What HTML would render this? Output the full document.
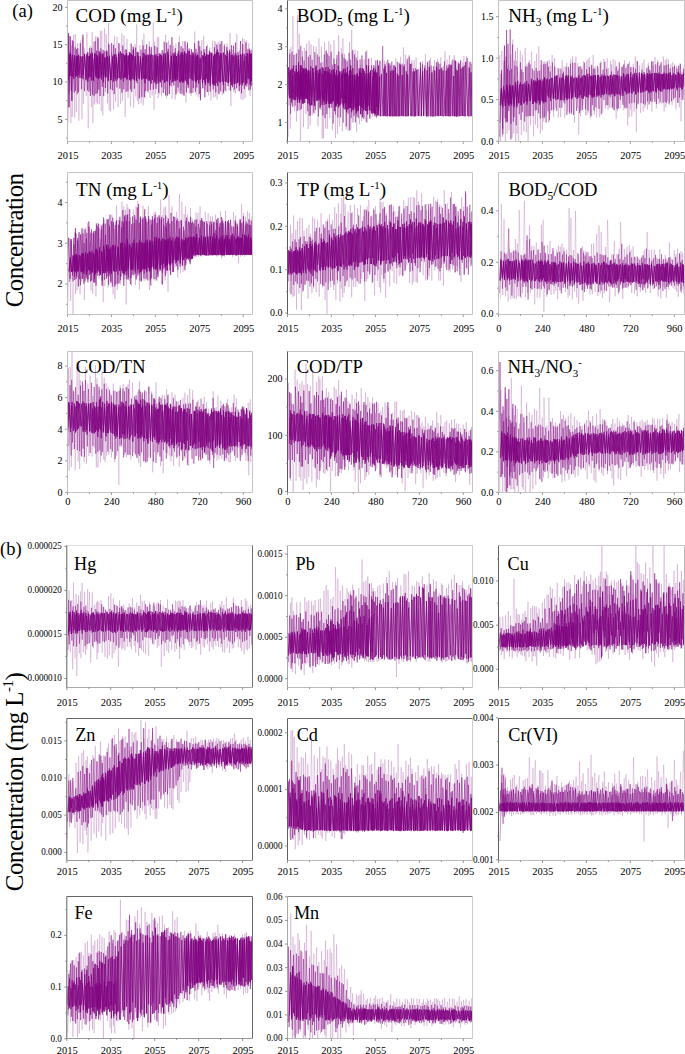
<!DOCTYPE html>
<html><head><meta charset="utf-8"><style>
html,body{margin:0;padding:0;background:#fff;width:685px;height:1054px;overflow:hidden}
svg{display:block}
text{font-family:"Liberation Serif",serif}
</style></head><body>
<svg width="685" height="1054" viewBox="0 0 685 1054" font-family="Liberation Serif, serif" fill="#000">
<rect width="685" height="1054" fill="#fff"/>
<clipPath id="c0"><rect x="67.5" y="0.5" width="185.5" height="141"/></clipPath>
<g clip-path="url(#c0)">
<polyline points="68.5,122.3 69.4,50.9 70.9,123.2 71.7,45.4 72.2,116.9 73.6,35.0 74.7,117.6 75.3,33.9 76.4,112.0 77.6,43.2 78.9,120.7 80.9,39.8 82.0,119.2 82.9,37.6 83.4,103.8 84.3,48.0 86.3,95.9 86.9,32.3 88.2,128.4 90.1,45.7 91.4,107.1 92.2,31.9 92.9,123.1 93.6,42.0 94.3,104.7 95.5,36.5 96.1,102.9 97.1,36.3 97.5,104.2 98.1,37.0 99.3,104.2 100.3,30.7 101.3,110.9 101.8,31.1 102.8,115.5 104.6,28.4 105.5,92.2 106.2,34.1 107.5,103.4 108.6,23.1 109.2,110.4 109.8,44.8 110.6,111.7 111.7,52.5 113.6,109.3 114.6,35.7 115.5,101.5 117.0,37.0 118.0,107.3 119.8,44.3 120.6,103.8 121.9,33.1 122.5,101.0 124.0,35.3 125.1,117.1 127.0,38.9 128.1,97.9 129.2,52.0 130.5,106.7 132.6,50.0 133.7,107.7 135.0,43.9 135.8,96.5 136.7,24.3 137.4,100.9 137.9,51.3 138.6,104.2 139.8,45.0 141.1,103.3 142.4,39.6 143.2,105.5 143.9,33.7 145.0,98.9 146.3,54.3 148.1,93.2 149.2,41.0 150.1,97.8 150.8,48.7 152.2,95.3 153.3,22.3 154.0,109.8 154.6,41.5 155.7,94.4 157.3,37.4 158.2,98.0 158.7,37.0 159.8,94.2 160.9,52.6 161.6,96.4 163.5,51.6 164.4,89.3 165.6,34.6 166.5,98.1 168.4,40.5 169.3,93.7 170.9,51.8 172.1,98.8 173.7,45.4 175.2,99.7 175.9,43.5 177.1,93.0 177.9,50.6 178.4,91.8 179.4,36.3 181.1,90.4 182.9,41.0 183.7,94.7 184.6,57.0 186.0,102.4 186.9,45.6 188.3,88.6 190.2,51.8 191.1,96.2 192.3,51.2 193.3,92.9 194.8,31.5 196.1,94.8 197.5,52.4 198.1,97.0 199.4,41.1 200.2,98.5 201.8,40.0 202.6,88.8 203.7,35.7 205.2,89.6 205.9,49.0 206.6,91.8 207.5,44.7 208.6,95.6 209.8,47.6 211.0,100.7 212.7,40.5 213.7,97.6 214.8,41.1 215.3,96.8 215.9,42.6 217.1,99.6 218.2,42.1 219.0,94.6 220.1,41.3 222.2,95.3 222.7,53.1 223.7,94.1 224.6,43.6 226.1,91.8 227.1,43.3 229.1,90.2 230.0,33.2 230.9,106.0 232.0,50.0 233.8,92.5 234.6,52.6 235.3,93.9 236.9,34.1 238.2,91.0 239.4,50.3 241.0,99.2 242.4,37.6 243.0,100.1 244.2,39.0 245.0,98.2 246.4,40.5 247.5,82.8 248.8,43.3 250.0,95.8 251.6,49.5 252.6,94.9 253.4,43.6 254.3,93.7 255.4,41.5" fill="none" stroke="#800080" stroke-opacity="0.22" stroke-width="0.8"/>
<polyline points="68.7,93.7 70.2,54.9 71.2,90.7 72.3,40.2 74.2,92.6 75.1,47.3 75.5,90.7 76.5,49.2 77.3,94.0 77.8,48.1 78.5,92.2 80.3,43.1 81.5,89.2 82.9,34.6 84.5,91.1 86.3,55.6 87.5,90.4 88.3,55.9 89.0,91.7 89.7,48.2 90.4,95.9 91.7,47.9 92.5,94.7 93.0,58.6 94.1,96.2 95.1,41.1 95.9,94.0 96.5,50.7 97.4,93.1 98.0,38.2 98.8,89.7 99.2,50.9 100.1,96.0 100.9,48.5 102.3,86.9 103.2,49.9 103.7,96.1 104.8,51.0 105.4,87.9 106.8,50.3 107.7,93.4 108.7,43.5 110.6,89.2 111.7,43.0 112.4,90.3 113.5,44.9 114.2,94.1 115.4,48.2 116.9,87.5 118.9,43.2 119.9,88.7 121.3,53.3 121.9,92.7 122.8,45.5 123.8,89.5 125.3,49.4 126.1,91.8 126.6,49.7 127.9,91.4 129.4,52.0 130.4,89.3 131.2,43.6 131.7,91.9 133.2,46.5 134.4,88.6 135.6,47.6 137.1,83.2 138.4,52.4 139.4,98.4 141.0,49.7 141.9,97.2 143.1,45.4 144.4,97.0 145.2,49.2 145.8,91.2 146.7,44.3 147.9,91.2 149.4,46.5 150.4,89.9 151.3,47.1 153.4,89.6 154.8,45.9 156.0,88.8 157.1,47.3 158.7,92.9 160.6,53.8 161.6,87.3 162.2,50.0 163.3,93.0 164.2,41.8 165.5,95.4 166.7,42.6 167.4,95.6 168.2,48.7 169.3,94.1 170.2,44.8 171.0,86.2 171.9,37.1 173.8,85.5 175.3,48.3 176.0,94.5 177.3,53.5 178.0,87.5 178.8,42.2 180.2,93.6 181.1,46.2 182.0,94.2 183.0,48.4 184.0,95.6 185.0,41.3 186.6,92.5 187.5,42.6 188.2,87.7 189.1,48.5 190.1,93.3 191.4,49.0 191.9,93.1 192.4,52.8 193.3,88.1 194.6,43.3 195.3,91.8 196.0,48.9 196.8,87.6 198.3,40.7 199.3,94.1 199.8,46.2 200.5,100.3 201.2,50.7 202.9,88.2 203.9,49.2 204.8,97.3 206.6,46.1 207.6,92.0 209.4,50.7 210.2,91.6 211.9,53.1 213.2,89.6 214.4,47.2 215.8,92.4 216.9,44.7 218.9,93.5 220.1,44.1 220.7,91.3 221.8,41.3 223.5,92.6 224.3,45.6 225.1,90.6 226.8,46.9 228.1,86.2 229.6,49.5 230.5,90.8 231.5,45.4 232.5,87.3 233.5,45.7 234.3,89.8 235.5,42.6 236.7,88.4 238.0,51.8 239.4,91.2 240.5,41.0 241.5,93.4 242.7,44.1 244.4,89.1 245.9,42.4 246.8,86.6 247.9,49.2 248.9,90.3 249.6,48.6 250.6,89.4 252.3,49.7 253.7,93.7 255.1,45.2" fill="none" stroke="#800080" stroke-opacity="0.6" stroke-width="0.8"/>
<polyline points="69.5,76.0 70.4,52.8 72.6,76.4 74.4,55.0 75.5,77.0 76.4,56.3 76.8,76.2 77.6,55.7 78.9,74.5 80.2,56.1 81.8,78.0 82.7,56.0 83.4,75.1 84.5,53.8 86.0,80.2 87.8,52.3 88.6,78.2 89.6,55.6 91.2,77.4 92.3,54.4 93.1,80.1 94.9,53.3 96.2,76.4 97.2,55.3 98.2,78.9 99.3,55.4 99.9,78.1 100.9,53.7 101.7,75.6 103.0,53.5 103.8,76.4 105.1,57.8 106.1,77.2 107.5,56.4 108.3,81.1 109.3,55.6 111.1,80.1 112.8,55.8 113.8,77.4 114.5,54.6 116.0,81.1 116.6,57.0 117.6,79.3 118.6,52.7 119.3,78.0 120.4,51.3 122.0,78.5 123.3,53.8 124.5,77.5 125.1,54.9 126.0,77.6 126.6,53.2 127.3,79.0 128.7,55.5 129.5,80.1 130.0,53.6 130.8,80.7 131.5,53.9 132.8,78.9 133.5,48.8 134.5,80.7 135.3,55.9 136.4,80.6 137.2,52.1 138.9,78.1 140.3,56.1 141.9,78.4 142.6,57.3 143.5,78.5 144.3,53.6 145.1,78.8 146.2,55.2 148.0,80.3 148.5,55.0 149.8,79.6 150.8,53.9 152.4,80.1 154.0,55.1 155.1,81.3 156.0,54.1 156.5,78.3 157.2,55.9 158.4,80.9 159.3,53.4 160.3,81.6 161.7,55.4 162.9,80.3 163.8,53.6 164.9,82.4 165.4,53.4 166.5,81.0 167.8,51.7 169.6,85.3 171.4,56.4 172.2,82.6 173.1,53.3 174.2,80.9 174.9,52.5 176.0,80.4 176.5,56.0 177.6,80.0 179.0,55.3 180.2,82.2 180.8,54.3 181.6,81.0 182.3,52.1 183.4,81.6 184.4,52.4 185.1,79.9 186.1,53.3 187.1,83.1 188.0,51.0 189.1,78.4 190.0,54.7 192.1,80.3 193.2,52.6 195.2,80.8 195.8,53.6 196.4,81.3 197.7,55.2 198.7,83.6 199.9,57.5 200.6,79.4 202.5,55.3 203.7,80.0 204.5,52.5 205.6,84.8 206.3,54.0 207.5,82.5 208.3,55.0 208.9,81.0 209.8,52.3 210.4,83.0 211.7,53.5 213.2,84.1 214.3,54.3 215.0,85.8 216.4,51.9 217.6,85.8 218.6,52.2 220.1,82.4 221.2,53.8 223.3,84.8 225.4,54.7 226.3,81.9 227.4,50.8 228.1,83.0 229.2,52.8 230.3,81.7 231.2,55.0 232.1,85.4 233.4,56.4 234.7,84.2 235.9,53.4 237.7,83.1 238.6,54.8 240.0,84.4 240.8,54.9 242.0,83.0 242.5,53.0 243.3,82.6 244.3,60.8 245.5,85.3 246.9,53.0 248.0,78.6 249.3,54.5 250.1,84.7 250.5,53.9 251.5,80.8 252.0,55.9 252.7,83.6 254.4,53.3" fill="none" stroke="#800080" stroke-opacity="0.9" stroke-width="0.8"/>
<polyline points="68.4,80.4 69.3,54.2 69.8,76.2 70.4,57.1 71.0,76.1 72.3,54.9 73.8,78.9 74.5,56.0 75.7,75.6 77.0,56.4 78.0,77.3 78.6,54.7 80.0,78.1 81.2,56.7 83.1,79.2 84.6,54.0 86.2,78.6 86.9,53.9 87.8,81.9 89.1,56.7 89.7,76.6 90.6,53.6 91.3,80.6 92.1,52.5 93.6,80.8 94.6,53.6 95.7,76.4 96.4,54.6 96.9,78.0 97.7,57.0 98.4,78.9 99.9,52.1 101.6,79.6 102.7,54.3 103.3,82.2 104.8,57.2 105.5,77.7 106.8,51.7 108.3,80.0 109.1,58.1 110.8,80.3 112.5,57.6 113.5,81.6 114.2,54.5 115.0,79.2 116.0,54.4 117.9,78.0 118.9,54.0 120.9,79.8 121.9,53.5 123.5,81.4 124.5,55.6 125.3,77.5 126.2,55.1 126.8,79.7 127.9,55.6 129.2,74.6 130.0,52.7 131.1,79.6 132.4,55.5 133.9,79.7 135.0,56.6 136.5,81.0 138.2,55.9 139.4,79.3 140.6,58.6 141.8,79.8 143.1,52.8 144.9,83.2 145.9,55.4 146.4,78.8 147.9,54.5 149.2,81.1 150.1,55.3 151.2,83.6 152.1,54.9 154.2,82.6 155.3,55.8 156.1,84.2 157.3,58.3 158.0,83.6 159.0,56.1 160.2,82.4 160.8,55.1 162.1,79.4 163.5,56.8 164.6,82.8 165.5,54.4 167.3,81.4 168.2,54.7 170.3,79.6 171.4,55.7 173.0,81.6 173.7,55.3 174.4,78.4 174.9,55.2 175.7,80.9 176.6,56.6 177.1,77.5 178.7,51.4 179.5,82.2 181.2,52.3 182.4,82.9 183.0,54.5 183.8,82.4 184.5,51.5 185.8,81.0 187.0,54.2 188.0,85.0 189.3,50.6 191.0,79.0 192.0,55.1 193.0,80.5 193.9,55.4 195.9,82.6 196.5,56.5 197.3,80.1 197.9,55.0 199.4,79.4 200.8,58.3 202.5,83.4 203.5,55.6 204.9,82.3 205.5,56.4 206.3,78.9 207.1,54.5 208.3,83.2 209.1,54.4 210.1,85.7 211.0,52.5 212.8,84.3 213.7,55.8 214.1,85.2 215.3,53.9 216.1,83.1 217.4,49.5 218.2,81.2 219.3,55.5 220.0,82.3 220.8,53.0 222.3,81.6 223.5,52.6 225.3,81.6 226.8,56.0 228.3,82.5 229.8,51.7 231.3,84.9 232.3,54.6 234.0,83.8 235.0,55.0 235.9,83.4 236.9,55.8 237.8,82.5 238.4,59.5 239.4,85.9 240.7,54.1 242.3,85.4 244.3,54.2 245.4,82.7 246.0,56.0 246.8,83.8 247.8,53.4 249.1,79.3 249.9,50.7 250.5,82.1 251.4,53.4 251.9,85.7 253.2,57.5 253.9,85.2 254.5,54.0" fill="none" stroke="#800080" stroke-opacity="0.9" stroke-width="0.8"/>
<polyline points="67.5,119.9 68.3,33.2 69.0,107.3 70.1,36.2 71.9,100.9 73.3,41.4" fill="none" stroke="#800080" stroke-opacity="0.9" stroke-width="0.8"/>
</g>
<path d="M67.5,0.5H252.5" fill="none" stroke="#c4c4c4" stroke-width="1"/>
<path d="M252.5,0.5V141.5" fill="none" stroke="#c4c4c4" stroke-width="1"/>
<path d="M67.5,141.5H252.5" fill="none" stroke="#c4c4c4" stroke-width="1"/>
<path d="M67.5,0.5V141.5" fill="none" stroke="#c0c0c0" stroke-width="1"/>
<text x="67.9" y="158.8" font-size="10.5" text-anchor="middle" >2015</text>
<text x="111.85" y="158.8" font-size="10.5" text-anchor="middle" >2035</text>
<text x="155.8" y="158.8" font-size="10.5" text-anchor="middle" >2055</text>
<text x="199.75" y="158.8" font-size="10.5" text-anchor="middle" >2075</text>
<text x="243.7" y="158.8" font-size="10.5" text-anchor="middle" >2095</text>
<text x="62.5" y="10.7" font-size="10" text-anchor="end" >20</text>
<text x="62.5" y="48.07" font-size="10" text-anchor="end" >15</text>
<text x="62.5" y="85.43" font-size="10" text-anchor="end" >10</text>
<text x="62.5" y="122.8" font-size="10" text-anchor="end" >5</text>
<path d="M67.5,141.5v2.5 M89.47,141.5v1.5 M111.45,141.5v2.5 M133.43,141.5v1.5 M155.4,141.5v2.5 M177.38,141.5v1.5 M199.35,141.5v2.5 M221.33,141.5v1.5 M243.3,141.5v2.5 M67.5,7.3h-2.5 M67.5,44.67h-2.5 M67.5,82.03h-2.5 M67.5,119.4h-2.5 M67.5,25.98h-1.5 M67.5,63.35h-1.5 M67.5,100.72h-1.5 M67.5,138.08h-1.5" fill="none" stroke="#888" stroke-width="0.8"/>
<text x="75.5" y="22.3" font-size="19">COD (mg L<tspan font-size="11" dy="-7">-1</tspan><tspan dy="7">)</tspan></text>
<clipPath id="c1"><rect x="287.5" y="0.5" width="185.5" height="141"/></clipPath>
<g clip-path="url(#c1)">
<polyline points="288.5,136.9 289.6,49.2 290.3,128.8 291.0,46.9 291.8,105.3 292.9,15.9 294.3,111.5 295.1,54.1 296.5,121.5 297.5,15.4 298.4,110.2 299.3,33.6 300.4,142.2 302.5,51.0 303.5,127.2 304.3,47.8 306.0,114.0 306.7,43.5 308.2,129.0 309.1,40.7 310.2,125.5 311.0,44.0 312.8,115.2 313.6,45.8 314.9,113.9 316.1,46.6 318.0,126.4 318.9,38.4 321.0,110.1 321.4,46.8 322.2,138.8 322.8,61.8 323.5,138.1 324.6,41.9 325.7,128.4 326.4,49.8 327.3,128.8 328.8,41.2 329.8,118.3 330.7,44.4 332.4,130.3 334.0,39.8 335.5,137.9 336.6,58.8 337.6,133.8 338.7,35.0 339.5,126.5 341.3,47.8 342.3,131.5 342.9,38.3 343.7,109.3 344.5,53.9 346.1,129.3 347.0,59.4 348.1,130.9 349.6,42.1 350.8,130.2 351.7,29.9 352.4,122.5 352.9,51.8 353.6,122.3 355.1,49.8 356.6,132.2 357.7,51.0 359.5,124.2 360.8,64.9 361.7,121.2 363.0,59.7 364.0,117.6 364.8,59.2 365.9,121.6 366.8,50.1 367.2,111.7 369.2,57.9 370.2,119.2 371.6,57.7 372.6,116.8 373.5,65.2 374.5,115.7 375.7,66.9 376.2,117.7 377.5,60.7 379.1,117.1 380.1,60.1 381.9,116.2 382.5,59.3 383.4,116.3 384.6,60.8 385.3,116.2 386.3,61.6 387.3,116.5 388.5,64.7 389.5,116.0 390.6,63.6 391.2,116.1 392.4,68.8 393.8,116.0 394.3,65.1 395.2,116.1 395.8,58.5 396.9,116.4 398.8,62.5 399.6,116.1 400.6,56.8 401.2,116.0 402.0,65.0 402.6,116.3 403.4,47.4 404.5,116.3 405.3,54.6 406.2,116.6 407.4,61.0 408.1,116.2 409.1,54.8 410.4,115.9 411.9,59.5 412.7,116.3 414.1,60.1 415.3,115.9 416.1,57.4 417.3,115.5 418.0,69.5 419.4,116.1 420.7,62.5 421.3,116.0 422.5,61.2 423.5,116.0 425.4,54.0 426.3,116.3 427.4,61.3 429.2,115.8 430.6,57.9 431.3,116.0 432.4,70.2 433.2,116.3 434.5,60.0 435.4,116.4 436.2,65.3 436.7,116.4 437.6,58.9 438.2,116.1 438.6,63.4 439.5,116.0 440.8,57.2 442.3,116.1 443.4,66.1 444.0,116.4 445.0,51.2 445.5,116.4 447.0,59.5 447.8,116.0 449.4,55.2 450.7,116.1 451.3,60.9 452.7,116.3 454.2,55.2 455.6,116.3 456.4,68.4 456.9,116.2 458.1,66.2 458.9,116.4 460.5,60.1 461.8,116.0 462.7,62.4 463.1,115.9 463.9,56.1 465.3,116.5 466.5,55.9 467.3,115.9 469.0,61.2 470.2,115.8 470.9,61.7 471.4,116.1 472.4,61.3 473.3,116.2 474.4,65.4 475.1,115.7 476.8,64.2" fill="none" stroke="#800080" stroke-opacity="0.22" stroke-width="0.8"/>
<polyline points="289.0,105.6 289.8,53.7 290.6,113.8 292.0,51.6 292.7,106.9 293.9,54.9 295.2,105.7 296.6,53.4 297.3,111.1 298.9,49.5 300.1,110.2 300.8,45.8 301.6,108.8 302.4,56.7 303.1,98.2 304.1,60.5 305.2,99.2 306.1,50.8 307.7,111.2 308.3,56.9 309.2,115.9 310.2,55.0 310.6,115.4 312.2,59.7 313.7,112.8 314.8,52.2 315.4,109.9 317.4,54.4 318.5,116.5 319.1,56.7 320.0,108.7 320.9,62.8 322.9,115.4 324.3,54.6 325.0,118.1 326.1,51.2 326.8,114.0 327.3,53.6 328.3,103.8 329.1,55.7 329.7,108.4 331.2,51.8 331.8,107.8 332.4,64.7 333.2,123.7 333.9,58.5 335.4,114.5 337.0,54.9 337.9,117.5 338.8,51.6 340.5,117.3 342.2,53.8 343.2,122.7 344.0,57.8 345.0,109.3 345.4,59.3 346.3,126.5 347.1,61.3 348.1,113.6 349.1,52.8 349.6,130.4 350.2,59.6 351.2,117.9 352.7,49.8 354.0,115.9 354.5,54.5 355.4,122.3 356.2,57.5 357.0,116.7 357.4,60.4 358.4,118.0 360.1,59.3 361.0,114.3 361.9,55.5 363.9,119.1 365.9,51.7 366.8,122.6 368.4,58.8 369.7,118.3 371.6,65.3 372.8,113.8 374.1,65.3 375.0,116.3 375.8,60.4 376.6,117.4 377.5,59.9 378.6,115.4 379.8,61.1 380.8,116.4 382.7,46.1 383.8,115.8 385.0,64.0 386.3,116.4 387.8,59.8 389.2,116.2 390.1,65.5 390.5,116.0 391.8,61.6 392.6,116.1 393.4,65.3 394.0,116.3 394.7,65.5 395.6,116.2 397.4,61.9 398.4,116.4 399.5,63.4 400.7,116.4 402.1,63.7 403.5,116.2 404.3,64.3 405.7,116.2 407.2,58.6 408.1,115.9 409.2,56.7 410.6,116.1 411.7,63.5 412.7,116.1 413.5,68.5 414.2,116.4 415.5,68.2 417.0,116.3 417.9,69.0 419.1,116.3 420.4,62.0 421.2,116.2 422.5,64.5 424.0,115.8 425.0,65.4 426.6,116.5 427.5,62.5 428.0,116.0 429.3,60.6 430.2,116.3 431.2,65.5 432.8,116.5 433.5,66.4 434.5,116.3 436.4,62.2 437.5,115.8 438.1,62.1 438.7,116.4 440.0,63.8 440.8,115.9 441.9,67.4 443.5,116.5 444.5,61.4 445.5,115.9 446.8,65.4 447.9,116.2 448.8,67.3 450.0,116.2 450.7,65.5 451.9,116.2 452.8,59.5 454.2,116.3 454.8,59.8 455.6,116.3 456.2,69.9 457.3,116.3 458.3,62.2 459.7,116.0 460.7,60.5 461.3,116.0 462.3,67.4 463.4,116.3 464.4,65.3 465.7,116.3 467.2,58.1 468.6,116.7 470.0,62.2 471.6,116.1 472.0,64.2 472.8,116.2 473.7,68.5 474.2,116.4 475.7,59.9" fill="none" stroke="#800080" stroke-opacity="0.5" stroke-width="0.8"/>
<polyline points="287.5,98.0 288.5,67.4 289.8,98.4 291.0,69.6 292.2,98.3 293.4,65.5 294.9,99.5 296.2,65.3 297.7,102.8 298.5,62.2 299.6,102.8 300.3,65.0 300.9,98.9 301.5,65.7 302.4,103.6 302.9,68.0 303.6,103.7 304.3,69.1 305.0,97.2 306.4,68.5 307.8,99.5 308.8,71.2 309.8,105.5 310.8,66.4 312.0,105.3 313.1,68.3 314.5,105.9 315.9,67.1 317.0,100.6 317.8,70.2 318.8,99.3 319.4,69.3 320.2,107.1 322.3,67.1 323.3,99.3 324.4,71.1 326.3,104.0 328.1,66.9 329.3,103.8 329.7,69.2 330.7,103.9 331.7,70.1 332.3,102.1 333.2,69.7 333.6,100.8 334.9,64.0 335.9,106.8 336.5,70.0 337.5,104.1 338.2,65.7 338.9,106.0 340.0,71.4 341.7,98.2 343.7,68.7 344.7,103.2 345.3,68.8 346.6,104.0 347.4,67.0 348.7,106.3 349.5,70.6 350.2,107.6 350.7,65.4 351.7,112.3 352.9,68.0 353.6,108.6 354.8,74.5 356.4,112.5 357.0,73.4 358.0,111.1 359.2,68.4 360.0,105.6 360.9,68.1 362.0,108.1 362.8,68.4 363.4,108.1 364.3,71.2 365.5,110.9 366.0,73.6 366.7,111.1 368.5,65.8 369.5,109.9 370.5,70.4 371.7,112.7 373.7,68.1 374.8,113.8 376.2,72.6 377.3,115.5 378.5,65.6 380.3,115.9 381.4,74.2 383.1,116.1 384.0,68.7 384.7,115.8 385.1,66.1 385.9,116.2 386.6,72.9 387.7,116.2 388.9,63.2 389.7,116.3 390.5,71.3 391.0,116.4 392.1,70.7 392.9,116.5 393.6,70.5 394.8,116.2 395.4,67.0 396.3,116.3 397.4,73.5 398.0,116.2 398.8,75.5 399.3,116.3 400.3,64.6 401.8,115.9 402.2,75.1 403.1,116.1 403.9,66.4 405.3,116.2 406.3,71.3 407.0,116.3 407.6,74.4 408.4,116.2 410.3,63.9 411.4,116.2 413.1,71.6 414.2,116.4 414.6,71.3 415.5,116.2 416.7,69.8 418.4,115.9 420.5,67.9 421.4,116.2 422.6,71.2 423.5,115.9 424.5,68.3 426.3,116.2 427.1,70.0 427.9,116.5 429.3,66.9 431.0,116.4 431.9,72.5 433.0,116.5 434.7,70.5 435.8,116.2 436.7,67.1 438.1,116.0 439.2,69.5 440.4,115.9 441.2,68.5 442.1,116.2 443.0,70.5 445.1,116.0 446.2,70.7 446.8,116.2 447.9,68.4 448.7,116.2 449.1,64.5 450.0,116.4 451.1,64.6 452.9,115.9 453.7,76.0 454.5,116.3 455.7,60.9 456.5,116.6 457.3,70.5 458.0,116.3 459.0,63.7 460.0,116.3 461.0,68.6 462.5,116.0 463.2,66.6 464.8,116.3 465.7,61.9 467.9,116.0 469.2,67.6 470.1,116.3 471.0,72.3 472.3,116.4 473.0,74.1 474.3,116.1 475.6,70.2" fill="none" stroke="#800080" stroke-opacity="0.9" stroke-width="0.8"/>
<polyline points="289.3,97.9 290.1,70.0 291.7,102.4 292.2,68.5 293.1,99.4 294.8,71.2 295.8,100.2 296.5,68.8 297.8,99.6 298.7,71.5 299.3,100.5 300.4,69.2 300.9,99.7 301.8,70.9 302.6,101.7 303.5,68.7 304.7,102.9 305.3,68.2 306.4,98.9 306.9,70.3 307.8,103.5 308.3,69.7 309.3,103.8 310.0,70.6 311.4,105.2 312.6,68.1 314.2,101.3 316.1,65.4 317.1,101.1 318.6,74.4 319.3,100.3 320.2,68.8 322.1,105.0 323.2,68.2 324.4,100.8 325.7,67.3 326.2,102.8 327.4,72.2 329.0,107.7 330.0,73.0 331.8,103.6 333.6,69.4 334.7,111.1 335.3,74.7 336.1,105.8 337.8,75.1 338.6,107.5 339.3,71.6 340.0,104.6 342.1,70.7 343.1,105.3 344.6,74.0 345.2,109.4 346.0,73.1 346.5,112.2 346.9,72.8 347.8,109.8 349.1,75.0 349.9,107.8 350.9,70.0 352.2,109.9 352.8,74.8 353.7,109.9 354.5,74.9 356.3,113.4 357.4,74.0 358.1,110.7 359.8,71.3 360.6,114.2 361.2,73.0 362.4,117.3 363.4,69.2 365.2,110.2 366.6,65.2 367.7,114.5 368.7,74.3 369.3,110.4 370.2,72.9 372.0,113.7 373.0,69.9 373.9,113.1 374.5,71.6 375.6,114.6 377.2,72.5 378.0,115.1 379.6,76.0" fill="none" stroke="#800080" stroke-opacity="0.9" stroke-width="0.8"/>
<polyline points="288.1,95.6 289.0,72.1 290.9,97.5 292.9,75.1 294.1,100.1 295.7,72.9 296.8,97.2 297.6,71.8 298.1,97.3 299.1,74.0 300.6,94.9 301.3,73.2 302.1,97.1 303.5,72.7 304.3,98.1 305.3,73.6 306.1,98.9 306.7,71.1 307.4,96.9 308.0,72.8 309.2,101.0 310.5,72.8 311.8,97.4 313.7,72.4 314.6,103.5 316.3,70.9 317.1,99.4 318.7,72.9 320.2,98.4 321.8,73.9 322.9,102.5 323.5,75.0 324.3,105.0 325.1,71.0 326.2,103.6 326.9,71.2 328.0,101.3 328.8,72.2 330.2,102.9 331.3,74.3 333.1,101.3 334.7,72.2 335.6,105.9 336.5,76.6 337.2,102.8 338.2,78.6 338.6,106.2 339.4,74.0 340.5,104.4 341.5,73.4 342.1,103.3 342.6,73.9 343.4,107.8 344.3,72.8 345.8,105.3 347.4,72.0 348.7,108.5 349.3,74.8 350.3,108.0 350.7,71.9 351.7,102.3 352.4,75.2 353.9,106.9 354.9,79.3 355.5,108.0 356.2,75.7 357.6,107.5 358.3,76.2 358.9,105.9 360.1,72.0 361.0,106.3 362.7,77.6 363.5,110.3 364.5,76.5 365.6,106.5 366.4,76.4 367.0,107.0 368.2,73.1 368.8,105.8 370.2,72.3 371.0,111.0 372.7,76.6 373.8,112.7 375.6,69.3 376.6,107.0 377.7,77.2 378.5,110.5 379.9,76.9" fill="none" stroke="#800080" stroke-opacity="0.8" stroke-width="0.8"/>
</g>
<path d="M287.5,0.5H472.5" fill="none" stroke="#c4c4c4" stroke-width="1"/>
<path d="M472.5,0.5V141.5" fill="none" stroke="#c4c4c4" stroke-width="1"/>
<path d="M287.5,141.5H472.5" fill="none" stroke="#c4c4c4" stroke-width="1"/>
<path d="M287.5,0.5V141.5" fill="none" stroke="#5a5a5a" stroke-width="1"/>
<text x="287.9" y="158.8" font-size="10.5" text-anchor="middle" >2015</text>
<text x="331.85" y="158.8" font-size="10.5" text-anchor="middle" >2035</text>
<text x="375.8" y="158.8" font-size="10.5" text-anchor="middle" >2055</text>
<text x="419.75" y="158.8" font-size="10.5" text-anchor="middle" >2075</text>
<text x="463.7" y="158.8" font-size="10.5" text-anchor="middle" >2095</text>
<text x="282.5" y="12.2" font-size="10" text-anchor="end" >4</text>
<text x="282.5" y="50.13" font-size="10" text-anchor="end" >3</text>
<text x="282.5" y="88.07" font-size="10" text-anchor="end" >2</text>
<text x="282.5" y="126" font-size="10" text-anchor="end" >1</text>
<path d="M287.5,141.5v2.5 M309.48,141.5v1.5 M331.45,141.5v2.5 M353.43,141.5v1.5 M375.4,141.5v2.5 M397.38,141.5v1.5 M419.35,141.5v2.5 M441.33,141.5v1.5 M463.3,141.5v2.5 M287.5,8.8h-2.5 M287.5,46.73h-2.5 M287.5,84.67h-2.5 M287.5,122.6h-2.5 M287.5,27.77h-1.5 M287.5,65.7h-1.5 M287.5,103.63h-1.5 M287.5,141.57h-1.5" fill="none" stroke="#888" stroke-width="0.8"/>
<text x="296.8" y="22.3" font-size="19">BOD<tspan font-size="11.5" dy="4">5</tspan><tspan dy="-4"> (mg L<tspan font-size="11" dy="-7">-1</tspan><tspan dy="7">)</tspan></tspan></text>
<clipPath id="c2"><rect x="498.5" y="0.5" width="186.5" height="141"/></clipPath>
<g clip-path="url(#c2)">
<polyline points="499.1,159.1 499.7,55.2 500.6,153.7 501.9,50.9 502.6,136.8 504.4,46.0 505.4,147.3 506.5,45.6 507.1,133.4 508.0,66.2 509.1,130.3 510.9,54.6 512.2,137.5 512.8,39.5 513.8,133.5 514.4,60.3 515.7,145.8 516.5,60.6 517.1,133.8 517.5,48.1 518.4,160.4 520.3,50.8 521.3,135.1 522.2,55.0 523.9,131.4 525.2,47.7 526.3,132.5 527.0,63.7 528.1,153.6 529.3,59.8 530.4,125.4 531.5,51.6 533.6,136.3 534.8,60.9 535.5,124.6 536.6,53.6 537.7,128.5 538.8,46.4 540.4,133.7 541.2,65.1 542.3,129.9 543.1,61.5 543.7,121.5 544.8,61.2 545.8,116.0 546.8,63.5 548.7,122.5 549.2,59.7 550.0,113.7 550.7,65.6 551.3,110.4 552.1,54.9 553.6,116.6 554.5,58.1 555.7,108.2 557.4,67.8 558.2,117.5 559.8,74.4 560.7,117.4 562.1,60.3 563.5,102.6 563.9,66.6 564.8,117.9 566.8,62.9 568.0,111.7 569.0,69.1 569.7,112.1 570.8,59.1 571.5,114.6 572.7,56.3 574.5,122.6 575.9,56.7 577.2,108.5 577.9,63.2 578.8,134.6 579.3,66.1 580.4,116.2 581.8,66.5 582.6,105.5 583.6,61.0 585.7,115.5 586.4,61.1 587.0,115.0 587.9,59.5 588.7,112.8 589.2,57.5 590.3,118.0 591.3,64.6 591.7,116.6 593.2,54.7 594.4,114.6 595.1,66.3 596.7,117.6 598.1,67.4 599.7,117.3 601.1,60.9 602.7,113.0 603.9,59.0 605.3,108.9 607.2,58.4 608.0,109.7 608.5,68.0 609.4,107.8 610.5,60.8 611.0,107.9 611.5,64.3 612.4,108.9 613.1,59.2 613.7,109.7 615.1,60.2 616.2,118.5 616.9,66.1 617.5,111.0 618.7,69.2 620.1,108.4 621.6,66.6 622.4,102.7 623.3,65.0 623.9,110.5 624.5,60.2 625.7,108.8 626.9,65.7 627.7,125.5 628.2,63.3 629.1,117.3 629.5,61.3 630.6,109.5 631.1,67.1 631.8,116.5 633.1,63.7 634.1,111.6 635.3,56.3 636.3,131.8 637.2,61.3 638.2,102.9 639.4,65.2 640.6,112.8 642.1,63.0 643.2,111.4 644.0,59.7 644.9,107.7 646.2,73.4 647.5,109.6 648.3,62.6 649.9,102.8 650.5,70.5 651.9,111.5 653.2,65.6 653.9,98.9 655.0,56.9 656.3,108.6 657.8,59.6 659.0,104.3 660.4,64.2 661.9,104.3 663.4,56.7 664.1,111.7 665.2,60.0 665.9,107.2 666.7,58.5 667.6,101.2 668.4,59.6 669.2,105.1 670.9,63.6 672.1,105.2 672.7,62.3 673.7,100.1 674.5,64.3 676.0,109.5 676.7,65.5 677.7,102.6 678.6,71.0 679.4,107.3 680.0,63.5 681.0,121.4 682.1,71.7 683.4,99.8 684.3,64.5 684.8,103.4 685.9,66.2 686.8,111.1 688.2,69.1" fill="none" stroke="#800080" stroke-opacity="0.22" stroke-width="0.8"/>
<polyline points="500.1,122.8 501.2,73.7 502.7,128.8 504.3,60.6 505.1,118.3 506.2,56.5 506.9,121.3 507.5,69.1 508.8,111.0 509.5,70.6 510.9,123.9 511.6,68.8 513.4,121.6 515.1,65.6 516.2,125.3 517.2,66.7 519.3,114.2 520.4,62.4 521.0,119.9 521.5,69.4 522.3,112.3 523.0,72.0 524.7,121.5 525.5,66.7 526.1,116.6 527.0,66.4 527.9,116.4 528.8,62.5 529.3,116.1 530.1,64.3 530.7,115.9 532.4,68.6 533.2,116.1 534.0,70.6 535.3,110.6 536.2,68.2 536.7,110.2 537.8,71.0 538.7,113.3 539.7,70.6 540.3,118.5 541.2,60.1 542.9,117.9 543.7,64.2 544.5,117.6 545.2,63.8 546.1,122.5 547.3,61.3 548.0,111.3 548.5,66.7 549.5,120.3 550.2,71.5 551.8,110.2 552.4,62.4 553.8,110.1 554.7,66.6 556.7,110.8 558.8,68.4 559.7,107.8 560.9,68.7 561.8,107.8 563.4,71.6 564.8,103.5 566.1,66.7 566.9,114.8 568.4,66.9 569.7,113.9 570.4,63.5 571.5,112.7 572.7,62.5 573.5,115.0 574.9,62.8 576.6,111.0 578.6,67.1 579.6,112.9 580.2,66.4 580.9,110.6 581.8,69.3 582.6,110.0 584.5,62.7 585.5,109.3 586.7,69.3 587.9,110.5 589.4,67.0 590.9,115.6 591.7,65.1 592.3,105.1 593.3,68.7 594.0,110.6 594.7,68.7 595.9,107.4 597.5,66.1 598.9,109.0 600.3,62.9 601.3,114.3 603.1,69.6 603.9,99.9 604.8,61.7 606.2,105.3 606.8,68.7 607.8,105.1 608.7,76.3 610.2,97.4 611.5,71.3 612.6,107.2 613.4,74.3 614.2,110.3 616.2,66.6 617.0,108.8 617.8,70.8 618.4,108.5 619.3,62.3 620.4,100.0 622.2,66.9 623.1,105.0 623.9,64.4 624.8,107.7 625.9,67.8 626.8,108.1 628.0,64.0 629.3,103.6 630.8,67.1 631.8,103.1 633.4,67.2 634.3,102.7 635.5,68.8 636.6,108.6 637.3,61.2 638.0,104.2 639.5,74.9 641.1,103.1 642.0,69.5 643.4,103.7 644.0,76.3 645.2,104.7 646.8,67.9 647.5,101.5 648.3,66.1 649.1,104.5 649.6,69.7 650.5,101.0 651.5,61.3 652.0,102.0 652.9,61.3 654.9,101.9 655.8,64.4 656.4,104.0 657.8,62.3 658.4,98.7 659.6,65.7 660.2,102.3 661.1,62.1 663.2,102.7 664.2,65.5 665.2,102.1 666.2,64.9 666.6,102.8 668.3,64.3 669.2,103.3 670.1,68.2 671.5,101.3 672.8,66.9 673.7,98.6 674.5,66.2 675.2,97.7 677.1,68.6 677.9,102.9 678.7,65.8 679.5,97.7 680.4,63.9 682.2,99.8 683.4,68.6 684.2,95.1 684.8,68.1 685.4,99.3 686.0,69.7 687.0,94.7 687.9,66.4" fill="none" stroke="#800080" stroke-opacity="0.5" stroke-width="0.8"/>
<polyline points="500.6,104.6 501.5,87.9 502.2,104.6 503.7,86.4 505.2,105.9 507.0,84.6 508.1,103.3 510.0,84.6 511.0,104.2 512.8,85.1 514.1,107.1 515.7,84.6 516.9,107.4 517.7,80.7 518.4,102.9 519.6,84.5 520.9,105.3 522.1,84.6 523.8,103.5 524.8,82.7 526.2,101.0 526.7,81.1 527.6,101.8 528.5,83.6 530.5,101.2 531.8,80.9 533.4,104.0 534.5,82.3 535.5,102.1 536.3,81.2 536.9,103.3 537.4,78.1 538.1,99.6 538.9,79.9 539.7,104.6 540.6,79.6 542.6,101.6 543.0,79.5 543.9,101.5 544.6,77.4 545.9,102.2 547.2,78.5 548.9,98.0 549.6,79.0 550.9,96.8 552.5,78.0 553.7,98.3 554.8,75.9 555.3,98.4 556.5,75.6 557.9,99.5 559.5,79.4 560.6,100.2 561.4,77.9 561.9,100.1 563.2,76.9 564.6,99.4 565.8,75.9 566.8,100.2 567.7,77.2 569.1,99.2 571.0,77.6 572.2,98.3 573.3,78.3 575.4,97.1 576.3,77.4 578.0,97.8 578.9,75.2 580.3,95.0 581.8,77.9 583.3,99.0 583.9,74.9 584.8,96.0 585.4,75.9 586.7,97.0 587.2,73.9 588.1,97.5 589.2,73.5 590.8,95.4 591.6,76.1 592.1,96.5 593.2,76.2 594.3,96.4 595.2,75.2 596.9,96.9 597.5,77.7 598.1,94.3 600.1,76.9 601.1,97.6 601.9,74.4 602.4,94.5 603.3,76.0 603.8,95.3 604.6,74.7 606.5,93.7 607.4,75.5 609.0,95.2 610.3,74.8 611.7,93.4 612.6,78.0 614.3,95.6 615.2,74.8 616.2,93.9 617.6,75.4 619.3,94.5 621.2,76.6 622.4,94.0 623.5,73.3 624.6,91.1 625.5,76.6 626.4,94.3 628.0,73.8 629.4,92.3 630.7,77.0 631.4,92.9 632.6,77.6 633.8,90.5 634.6,72.9 636.0,94.5 636.9,75.7 638.1,92.5 639.2,72.4 641.0,92.6 642.0,74.3 642.9,92.3 644.1,72.4 645.7,91.0 647.0,75.1 647.6,90.4 648.2,74.5 649.1,93.2 649.9,73.3 650.4,91.4 651.5,73.8 653.5,91.2 654.8,73.0 656.3,92.7 657.1,73.4 658.4,90.5 659.0,72.6 660.1,90.8 662.1,73.9 663.2,89.6 664.0,72.7 664.6,88.4 666.4,74.0 667.5,88.8 668.2,74.3 669.5,90.1 670.3,72.5 671.0,88.3 671.9,75.2 672.6,88.7 673.7,73.1 674.4,87.4 676.2,74.8 677.2,90.3 678.5,72.8 680.2,87.7 681.4,74.6 682.0,88.9 683.6,73.2 685.1,89.0 686.1,72.2 686.7,87.0 687.4,72.5" fill="none" stroke="#800080" stroke-opacity="0.9" stroke-width="0.8"/>
<polyline points="500.1,105.3 501.3,89.0 502.7,107.1 504.3,89.8 505.6,106.3 507.4,86.4 508.7,105.4 509.5,84.8 510.2,103.5 510.9,86.3 511.6,105.4 512.8,86.3 513.8,104.1 515.6,82.0 516.8,105.1 517.4,85.6 518.9,103.3 520.4,82.1 521.4,104.9 523.1,84.0 524.5,102.5 526.2,84.7 526.9,104.6 528.7,84.8 530.0,101.0 531.5,78.8 532.8,104.0 533.6,80.0 534.4,101.5 535.3,80.5 535.8,102.7 537.3,82.2 538.5,100.8 539.4,80.9 540.1,103.3 540.7,81.0 542.0,100.9 543.0,81.3 543.8,103.3 544.3,77.6 545.4,101.5 546.2,79.4 548.1,96.1 549.2,79.8 550.6,100.9 551.4,77.9 553.2,99.0 555.0,77.2 555.9,100.1 557.1,75.4 557.9,99.0 559.8,77.5 560.8,97.7 563.0,73.7 564.0,100.4 565.2,79.2 566.2,97.8 566.7,75.1 567.5,98.7 568.3,75.3 569.3,97.9 570.7,76.7 571.5,99.2 572.1,75.7 572.9,96.8 574.9,77.5 575.8,97.3 576.6,79.1 577.1,98.9 577.9,77.9 579.2,96.6 580.5,77.9 581.8,98.3 582.4,76.1 583.7,97.0 585.0,75.4 586.5,97.0 587.8,77.1 589.0,94.8 590.6,75.8 592.1,97.9 593.1,74.8 593.8,97.3 595.2,75.6 596.8,95.1 597.5,75.0 598.1,96.2 598.6,74.9 599.7,95.4 601.0,76.5 601.9,94.8 603.8,75.9 604.6,93.8 605.6,76.3 606.7,94.1 608.6,76.3 609.6,93.9 610.3,75.5 611.1,94.7 612.2,75.6 612.9,93.9 614.2,74.8 614.9,96.3 616.7,74.9 617.8,94.5 619.1,75.8 620.8,96.2 621.6,76.4 623.0,95.9 623.8,74.3 625.6,91.9 626.8,74.4 627.9,93.5 628.6,74.8 629.1,93.1 630.8,72.4 632.1,93.7 632.9,74.4 633.7,91.7 634.5,75.2 635.7,94.0 636.6,73.2 638.5,92.0 639.7,73.9 640.7,92.3 641.7,72.8 642.4,90.1 643.0,74.5 643.9,92.0 644.8,74.2 646.8,90.2 647.5,73.0 648.6,91.6 650.3,74.2 651.3,92.5 652.2,73.1 652.8,90.9 654.6,73.2 655.7,91.8 656.2,72.9 657.2,88.1 658.2,74.2 658.8,89.7 659.9,73.8 660.5,91.4 661.0,74.4 661.9,91.7 662.4,74.1 663.3,88.5 663.9,74.0 665.1,89.2 666.1,73.4 667.1,90.0 668.2,73.2 668.8,88.9 669.9,72.7 671.3,89.3 673.0,75.2 673.7,88.5 675.3,74.5 676.6,88.4 678.1,72.1 678.9,87.3 679.9,73.4 681.9,89.5 682.9,74.4 684.1,87.1 684.9,71.5 686.0,86.7 686.9,73.9" fill="none" stroke="#800080" stroke-opacity="0.9" stroke-width="0.8"/>
<polyline points="499.7,136.7 501.5,70.0 502.9,134.2 504.5,45.6 505.9,122.3 506.6,30.0 507.3,122.1 508.0,43.7 509.4,106.6 510.2,29.4 510.9,139.5 512.4,44.5 514.0,117.2 515.5,51.1" fill="none" stroke="#800080" stroke-opacity="0.55" stroke-width="0.8"/>
</g>
<path d="M498.5,0.5H684.5" fill="none" stroke="#c4c4c4" stroke-width="1"/>
<path d="M684.5,0.5V141.5" fill="none" stroke="#c4c4c4" stroke-width="1"/>
<path d="M498.5,141.5H684.5" fill="none" stroke="#c4c4c4" stroke-width="1"/>
<path d="M498.5,0.5V141.5" fill="none" stroke="#c0c0c0" stroke-width="1"/>
<text x="498.9" y="158.8" font-size="10.5" text-anchor="middle" >2015</text>
<text x="542.85" y="158.8" font-size="10.5" text-anchor="middle" >2035</text>
<text x="586.8" y="158.8" font-size="10.5" text-anchor="middle" >2055</text>
<text x="630.75" y="158.8" font-size="10.5" text-anchor="middle" >2075</text>
<text x="674.7" y="158.8" font-size="10.5" text-anchor="middle" >2095</text>
<text x="493.5" y="20" font-size="10" text-anchor="end" >1.5</text>
<text x="493.5" y="61.57" font-size="10" text-anchor="end" >1.0</text>
<text x="493.5" y="103.13" font-size="10" text-anchor="end" >0.5</text>
<text x="493.5" y="144.7" font-size="10" text-anchor="end" >0.0</text>
<path d="M498.5,141.5v2.5 M520.48,141.5v1.5 M542.45,141.5v2.5 M564.43,141.5v1.5 M586.4,141.5v2.5 M608.38,141.5v1.5 M630.35,141.5v2.5 M652.33,141.5v1.5 M674.3,141.5v2.5 M498.5,16.6h-2.5 M498.5,58.17h-2.5 M498.5,99.73h-2.5 M498.5,141.3h-2.5 M498.5,37.38h-1.5 M498.5,78.95h-1.5 M498.5,120.52h-1.5" fill="none" stroke="#888" stroke-width="0.8"/>
<text x="508.3" y="22.3" font-size="19">NH<tspan font-size="11.5" dy="4">3</tspan><tspan dy="-4"> (mg L<tspan font-size="11" dy="-7">-1</tspan><tspan dy="7">)</tspan></tspan></text>
<clipPath id="c3"><rect x="67.5" y="172.5" width="185.5" height="142"/></clipPath>
<g clip-path="url(#c3)">
<polyline points="67.9,301.9 69.6,238.1 70.6,300.9 71.4,241.0 73.0,315.7 74.7,231.8 75.6,294.1 76.6,233.1 77.1,290.2 78.5,233.7 80.1,294.2 80.9,235.5 81.4,281.3 83.2,228.5 84.4,300.0 85.7,227.7 86.5,277.6 87.4,223.1 88.4,279.2 90.3,242.5 91.0,290.5 91.9,233.3 92.7,293.7 94.0,233.6 94.6,282.9 95.4,229.3 95.9,296.4 97.9,222.6 98.9,278.5 100.3,239.3 101.8,285.6 102.7,225.0 103.2,302.0 104.0,219.6 104.9,286.4 106.8,218.9 108.1,287.5 108.9,224.1 110.7,274.9 111.9,214.6 113.1,294.2 114.2,228.8 114.9,299.2 116.5,205.3 117.3,289.7 118.4,219.9 120.3,284.6 122.0,201.5 123.2,279.5 123.8,206.4 124.9,279.2 125.6,209.9 126.2,304.6 127.0,204.0 127.5,275.1 128.1,207.6 129.3,281.0 130.5,217.5 131.5,285.7 133.4,209.7 134.2,273.9 135.0,216.9 135.5,285.0 136.0,206.2 136.9,278.0 137.7,201.1 139.4,289.4 140.1,217.5 141.4,280.8 143.0,205.6 144.2,281.2 145.8,217.7 146.6,278.1 148.4,206.0 149.6,290.0 151.1,220.9 152.2,266.0 154.1,212.3 155.0,280.8 155.7,212.0 157.0,281.4 158.3,215.4 159.6,269.5 160.7,199.7 161.5,284.1 162.6,215.1 163.2,270.5 164.0,207.4 165.0,280.5 165.6,206.5 166.7,273.7 167.5,217.3 168.0,291.9 169.0,195.2 170.6,275.0 172.0,206.2 172.7,272.1 173.4,216.4 174.9,267.9 176.7,212.1 177.7,277.7 179.5,194.0 180.7,273.4 181.9,201.5 183.1,271.8 184.1,213.9 184.9,266.6 185.5,206.5 186.5,263.3 187.4,214.6 189.0,254.9 190.5,208.0 191.5,258.8 192.1,218.2 192.8,258.3 193.6,222.3 195.0,257.5 196.0,212.6 196.6,256.8 198.0,212.9 198.6,256.8 200.1,206.2 201.0,256.6 202.1,218.3 204.0,256.2 205.3,211.8 206.9,255.7 208.1,213.4 209.7,256.0 210.4,216.2 211.0,255.7 212.5,216.4 213.9,255.6 215.6,214.8 216.7,256.5 217.5,218.6 218.8,256.2 220.5,211.4 221.6,258.4 222.3,218.3 222.8,256.4 223.8,221.3 224.5,256.7 225.5,210.8 226.7,255.2 228.4,221.1 229.6,255.4 230.7,218.9 232.6,257.1 233.5,212.1 235.1,256.3 235.7,215.4 236.7,255.7 237.7,223.0 238.6,263.5 239.3,218.6 240.6,256.5 241.6,204.3 242.7,255.8 243.5,213.2 244.6,256.7 245.6,216.7 246.2,255.5 247.5,211.3 248.6,255.1 249.4,213.0 250.4,255.3 252.0,216.6 252.9,255.1 254.1,216.5 254.9,254.4 255.8,215.1" fill="none" stroke="#800080" stroke-opacity="0.22" stroke-width="0.8"/>
<polyline points="67.7,277.6 68.5,237.8 70.2,278.8 71.1,239.0 73.0,281.4 74.0,244.4 74.5,276.9 75.4,227.9 76.8,276.6 77.7,238.1 79.6,279.3 80.5,234.3 82.3,278.9 83.0,233.4 83.9,283.6 85.0,229.3 86.1,278.4 86.8,232.8 87.9,282.4 89.0,226.7 89.5,274.9 90.8,232.7 91.6,280.6 93.3,232.6 94.5,279.1 95.3,231.1 96.0,285.7 97.2,225.9 97.7,275.6 98.8,227.9 99.6,275.8 101.3,225.6 102.3,285.6 103.6,217.5 104.5,279.7 105.6,234.7 107.0,276.3 108.3,218.8 109.1,276.4 110.0,214.7 110.9,282.8 111.5,221.3 112.3,286.5 113.4,222.2 114.8,286.5 116.1,221.6 117.8,283.9 118.4,224.7 119.0,283.1 119.9,216.7 120.6,280.3 121.5,227.5 122.1,271.0 122.9,210.1 123.8,285.9 124.5,216.5 125.4,272.2 126.4,220.5 126.8,279.3 127.7,214.4 128.4,277.7 129.7,209.4 131.0,277.9 132.6,216.5 133.8,275.4 134.6,215.0 136.2,279.5 137.3,207.6 138.1,272.8 139.2,222.8 139.9,273.9 140.8,218.6 142.0,271.2 142.7,219.2 144.2,273.8 145.3,216.2 146.0,279.3 147.0,221.7 147.8,280.5 149.0,219.0 150.8,285.4 151.7,224.7 152.2,267.1 152.9,219.6 153.9,279.1 155.2,214.6 155.7,269.0 157.3,217.3 158.0,277.2 159.5,218.2 160.6,270.2 161.3,219.4 162.5,284.6 164.0,225.5 165.4,276.1 166.3,227.0 167.3,270.1 168.0,220.9 169.0,263.8 169.8,223.5 170.6,275.1 172.0,221.1 173.4,272.0 174.8,217.0 176.3,266.2 177.4,218.5 178.7,260.5 179.5,228.5 180.3,263.1 181.4,220.2 182.3,265.1 183.5,226.7 184.9,270.3 185.9,220.8 186.8,258.9 188.5,221.5 189.7,261.8 190.5,216.9 191.0,259.6 192.3,221.5 193.7,256.3 195.0,219.7 195.6,255.6 196.7,219.5 198.3,255.2 200.0,227.7 200.8,255.5 201.6,218.2 202.7,254.8 203.8,221.5 205.7,255.6 207.2,223.6 207.9,255.5 210.0,221.4 211.0,255.3 211.6,224.3 212.6,255.4 214.0,221.7 215.3,255.3 216.5,219.7 217.0,255.4 218.0,218.1 219.2,254.9 219.8,223.2 220.4,254.5 221.5,217.0 222.2,255.8 223.0,223.3 224.7,255.4 225.6,222.1 227.1,255.0 228.4,220.0 229.3,255.1 230.5,220.1 232.1,254.9 233.6,226.8 234.5,254.5 235.7,222.2 236.7,255.5 237.5,226.4 238.8,255.0 240.2,221.2 241.3,254.1 243.3,221.6 244.4,254.2 245.7,224.7 246.4,254.5 247.4,223.5 248.0,254.4 249.2,224.5 250.2,254.9 250.7,225.2 251.7,255.0 252.9,225.5 254.2,254.8 255.1,227.7" fill="none" stroke="#800080" stroke-opacity="0.6" stroke-width="0.8"/>
<polyline points="69.4,281.9 70.9,239.4 72.5,275.4 73.8,237.8 74.7,280.0 75.6,233.1 76.2,279.0 77.8,240.6 78.4,286.5 79.1,232.1 80.4,285.4 82.0,228.4 82.7,278.8 84.1,243.2 85.0,281.3 86.5,238.4 87.8,279.4 88.8,221.5 90.5,281.5 91.5,229.4 93.5,282.4 93.9,231.0 94.8,282.6 96.4,223.5 97.3,272.3 98.6,223.8 99.6,272.9 101.3,229.4 102.1,280.8 103.2,223.6 104.1,273.1 105.2,223.5 106.5,278.8 107.2,219.7 108.6,284.9 109.4,226.2 110.9,281.3 112.8,217.6 113.8,271.1 115.2,225.1 115.9,284.5 116.6,220.1 118.0,275.0 119.6,220.7 121.0,276.5 122.0,221.1 122.5,273.3 123.6,222.1 124.2,275.1 125.1,214.9 126.0,275.3 127.0,215.2 128.1,279.7 129.3,221.0 130.5,284.2 131.7,224.2 132.2,274.8 134.1,223.0 135.3,273.8 136.1,219.6 137.9,275.5 138.6,204.0 140.0,280.7 140.5,216.7 141.4,281.5 143.1,217.5 143.9,278.5 144.7,209.3 145.1,269.7 145.9,218.8 147.2,265.7 148.6,216.1 150.3,280.4 151.0,219.7 151.6,278.3 152.4,216.2 153.5,269.2 154.5,218.2 156.2,279.5 157.0,222.9 157.6,274.5 159.2,215.3 159.9,271.3 161.4,216.9 162.4,272.9 163.7,218.1 165.0,268.7 165.7,215.3 166.3,270.5 166.7,222.9 167.5,270.7 168.5,218.6 169.9,270.5 171.0,212.8 172.9,272.1 173.7,216.5 175.3,263.7 176.5,220.5 177.9,269.7 178.9,221.0 180.1,266.6 181.1,220.4 182.6,265.7 184.0,230.4 185.7,265.2 186.6,217.6 188.4,260.1 189.4,222.3 190.2,264.2 191.4,223.0 192.0,258.6 193.9,223.4 194.9,255.9 195.9,226.3 196.7,254.9 198.5,223.8 199.7,255.1 200.3,220.4 201.2,255.6 202.3,220.8 203.9,255.0 204.3,222.0 205.2,255.4 206.7,221.1 208.3,255.7 209.6,225.4 210.4,255.0 211.7,221.6 213.2,255.1 213.7,222.3 214.8,254.9 215.8,230.2 216.5,255.0 217.0,222.7 218.1,254.7 219.6,227.0 220.6,255.1 221.0,222.6 221.9,255.2 222.6,220.7 223.5,255.5 225.5,221.0 226.7,255.1 227.5,221.5 227.9,254.6 228.9,223.0 230.6,254.8 231.9,226.2 233.5,255.1 235.2,220.3 236.0,255.2 237.1,224.2 238.9,254.7 240.4,219.4 241.2,254.3 241.7,223.2 242.5,255.1 243.4,216.2 245.1,254.7 246.2,221.5 248.0,255.1 248.9,219.2 250.5,254.9 251.1,220.4 251.8,254.6 253.6,218.8 254.4,254.4 255.3,221.8" fill="none" stroke="#800080" stroke-opacity="0.6" stroke-width="0.8"/>
<polyline points="69.2,271.5 70.5,258.0 72.1,272.1 74.0,255.4 75.1,271.2 76.2,256.6 77.9,271.4 79.7,255.0 81.1,272.2 81.8,253.2 82.4,272.0 83.3,253.8 84.0,271.2 85.8,254.4 86.9,272.0 87.8,253.0 88.6,269.6 89.4,251.3 91.0,273.6 91.9,250.8 92.8,272.6 93.7,253.0 95.1,273.6 96.6,248.8 98.0,269.6 99.6,247.3 100.5,273.6 102.1,252.3 103.1,273.2 103.7,245.8 105.2,271.3 107.0,247.4 108.2,271.1 108.8,249.0 110.2,269.8 110.8,247.2 111.5,273.5 113.3,244.9 114.3,271.8 115.3,245.8 116.2,271.6 118.0,246.6 119.4,269.1 121.0,242.8 121.8,270.7 122.7,247.2 124.2,273.4 126.0,246.5 126.8,271.1 127.5,242.1 128.2,268.4 129.4,243.9 131.4,269.6 132.3,242.8 133.0,270.3 133.9,239.6 135.3,271.2 136.8,242.4 137.9,269.1 139.1,243.0 140.1,272.0 141.1,242.0 142.3,269.3 143.0,243.1 144.4,268.0 145.9,242.7 146.8,271.1 147.5,239.6 148.6,267.8 149.5,241.3 149.9,271.6 150.7,241.7 151.5,267.3 152.7,244.4 153.9,269.0 154.9,240.6 156.3,268.0 156.8,239.2 157.6,265.5 158.9,239.0 160.1,268.6 161.2,240.5 161.9,265.1 162.6,238.4 163.6,263.5 165.2,239.9 166.2,266.1 166.8,240.7 167.5,264.7 168.7,239.0 170.0,265.4 171.8,240.8 172.9,262.8 174.8,241.3 175.7,260.4 176.9,236.4 177.8,260.4 178.8,237.5 180.6,259.8 181.9,239.6 183.8,260.0 184.3,240.4 185.2,257.3 185.7,237.4 186.8,259.4 187.4,238.4 188.8,258.6 190.4,236.6 191.2,258.7 192.0,237.7 192.8,254.2 193.9,236.2 195.6,254.8 196.3,237.0 197.9,254.9 199.6,237.7 200.8,254.5 201.5,238.9 202.8,254.7 203.8,238.9 204.4,254.7 205.4,237.8 206.5,255.1 207.6,236.8 209.6,254.6 210.4,235.8 211.8,254.8 212.6,238.0 213.2,255.0 214.0,233.2 215.0,254.7 216.0,237.6 217.9,254.9 218.9,238.5 220.1,254.6 221.0,236.8 221.5,254.5 222.9,235.3 223.5,254.6 224.3,238.9 224.8,254.6 225.5,237.1 226.6,254.5 227.9,235.0 228.6,254.8 229.5,238.9 230.3,254.8 231.1,235.3 231.6,254.6 232.8,233.7 233.8,254.5 235.7,239.1 236.6,254.6 237.6,237.4 238.5,254.5 240.2,237.6 241.3,254.9 242.7,234.2 243.8,254.7 244.5,240.3 245.2,254.5 246.2,235.7 247.1,254.5 248.0,237.8 248.8,254.9 250.6,238.2 251.8,254.7 252.6,239.0 253.5,254.7 255.0,237.7" fill="none" stroke="#800080" stroke-opacity="0.9" stroke-width="0.8"/>
<polyline points="69.0,271.5 70.3,257.4 71.4,271.9 73.1,255.6 74.0,271.3 75.2,253.9 75.9,272.7 76.5,254.2 77.2,271.7 77.7,255.4 78.6,270.5 80.2,255.8 81.4,271.3 82.7,253.2 83.8,273.9 85.5,252.5 86.4,274.7 87.7,254.3 89.6,270.8 90.4,252.4 91.8,271.8 93.5,254.5 94.8,275.0 95.5,249.5 96.0,273.1 97.2,250.9 98.3,271.3 99.4,250.3 100.5,274.9 101.5,251.0 103.2,272.6 104.3,249.9 105.2,273.1 106.4,244.7 107.0,271.7 108.1,244.9 109.2,273.6 109.8,248.9 110.9,271.3 112.5,245.1 113.7,271.0 115.3,246.3 116.5,269.2 118.2,247.6 119.5,271.0 120.6,243.9 121.6,269.2 122.5,242.6 123.2,273.0 124.7,243.0 125.8,270.4 127.4,238.9 128.4,268.6 130.0,245.1 131.0,269.6 131.6,247.3 132.4,268.8 134.3,242.7 135.3,268.1 136.6,243.9 137.9,269.5 139.6,240.5 141.1,271.7 142.1,242.7 143.4,268.8 144.5,242.8 145.1,268.9 145.7,240.0 146.7,272.2 147.6,242.7 149.4,270.7 150.0,240.2 150.6,269.8 152.6,241.4 153.6,266.4 154.6,237.0 155.6,269.6 156.4,236.8 157.2,270.2 159.2,237.8 160.3,268.0 161.3,242.1 162.8,268.5 164.0,239.1 165.0,266.9 165.9,240.5 166.8,264.3 167.8,238.9 169.5,263.3 170.1,236.9 170.7,265.0 171.2,240.2 172.2,263.3 172.9,237.6 173.9,259.9 175.6,238.6 176.4,262.3 177.1,237.6 177.9,259.4 179.0,238.5 180.2,263.5 182.0,239.2 182.8,260.4 183.7,240.6 184.6,257.7 185.9,238.7 187.5,257.8 188.7,237.0 189.6,257.9 191.1,237.5 192.5,258.7 193.3,236.6 193.9,254.7 195.2,237.8 195.9,254.7 196.7,234.0 197.8,254.7 199.2,237.6 200.2,254.6 201.4,235.3 202.9,254.5 203.7,236.7 204.6,254.9 205.5,236.9 206.5,255.3 207.8,236.3 209.2,254.4 210.1,237.3 212.1,254.5 212.8,236.7 213.9,254.7 214.8,239.0 215.4,254.8 216.6,235.3 218.3,254.6 219.8,239.8 221.4,254.6 222.1,238.5 222.9,254.5 224.1,240.4 224.7,254.7 226.1,235.0 227.2,254.8 228.1,237.8 228.9,254.8 230.0,239.8 230.8,254.7 231.9,236.8 232.8,255.0 234.2,236.1 235.7,255.1 236.8,238.3 237.7,254.7 238.4,236.5 238.9,254.8 239.7,238.2 240.4,254.9 241.4,238.0 241.8,254.5 242.5,237.6 243.7,254.5 244.7,234.6 245.4,254.9 246.1,235.9 246.7,254.8 248.5,234.4 249.3,254.6 250.1,237.2 250.8,254.5 251.9,238.1 253.2,254.9 253.6,238.1 254.5,254.8 256.1,237.5" fill="none" stroke="#800080" stroke-opacity="0.9" stroke-width="0.8"/>
</g>
<path d="M67.5,172.5H252.5" fill="none" stroke="#c4c4c4" stroke-width="1"/>
<path d="M252.5,172.5V314.5" fill="none" stroke="#c4c4c4" stroke-width="1"/>
<path d="M67.5,314.5H252.5" fill="none" stroke="#c4c4c4" stroke-width="1"/>
<path d="M67.5,172.5V314.5" fill="none" stroke="#c0c0c0" stroke-width="1"/>
<text x="67.9" y="331.6" font-size="10.5" text-anchor="middle" >2015</text>
<text x="111.85" y="331.6" font-size="10.5" text-anchor="middle" >2035</text>
<text x="155.8" y="331.6" font-size="10.5" text-anchor="middle" >2055</text>
<text x="199.75" y="331.6" font-size="10.5" text-anchor="middle" >2075</text>
<text x="243.7" y="331.6" font-size="10.5" text-anchor="middle" >2095</text>
<text x="62.5" y="206" font-size="10" text-anchor="end" >4</text>
<text x="62.5" y="246.7" font-size="10" text-anchor="end" >3</text>
<text x="62.5" y="287.4" font-size="10" text-anchor="end" >2</text>
<path d="M67.5,314.5v2.5 M89.47,314.5v1.5 M111.45,314.5v2.5 M133.43,314.5v1.5 M155.4,314.5v2.5 M177.38,314.5v1.5 M199.35,314.5v2.5 M221.33,314.5v1.5 M243.3,314.5v2.5 M67.5,202.6h-2.5 M67.5,243.3h-2.5 M67.5,284h-2.5 M67.5,182.25h-1.5 M67.5,222.95h-1.5 M67.5,263.65h-1.5 M67.5,304.35h-1.5" fill="none" stroke="#888" stroke-width="0.8"/>
<text x="76.1" y="195.5" font-size="19">TN (mg L<tspan font-size="11" dy="-7">-1</tspan><tspan dy="7">)</tspan></text>
<clipPath id="c4"><rect x="287.5" y="172.5" width="185.5" height="142"/></clipPath>
<g clip-path="url(#c4)">
<polyline points="289.6,292.1 290.4,224.8 291.0,281.4 292.0,233.4 292.9,297.1 293.7,215.5 294.2,295.9 295.8,229.6 296.5,309.7 297.5,221.3 298.9,293.8 299.8,217.6 301.4,310.2 302.3,218.0 302.7,292.1 304.0,230.7 305.7,284.8 306.8,228.0 308.0,298.7 308.9,224.9 309.9,281.6 310.6,233.7 311.9,293.3 312.7,216.5 313.7,288.6 314.7,218.7 316.2,292.3 317.7,219.6 319.2,296.7 321.1,213.2 322.4,287.5 324.1,228.6 325.1,300.0 325.8,220.9 327.0,313.8 327.7,218.7 328.9,283.2 329.5,214.3 330.7,287.5 332.6,219.9 333.7,290.1 334.7,207.2 335.9,299.7 336.5,213.6 337.5,283.3 338.3,203.1 340.0,301.6 340.7,213.6 341.2,288.5 341.9,197.8 342.7,297.5 343.7,195.6 344.2,292.8 345.1,203.9 346.5,282.2 348.1,211.6 349.0,287.1 350.3,205.3 351.7,297.4 352.6,212.3 353.4,286.6 354.6,204.7 355.8,287.1 357.6,208.2 358.6,283.5 360.6,205.3 361.6,279.1 363.8,216.1 364.8,301.0 365.5,209.2 366.6,281.5 367.1,206.5 367.8,278.9 368.8,200.0 370.0,272.5 372.0,215.3 372.9,281.7 373.5,208.2 374.6,295.5 375.5,206.1 377.4,281.0 378.2,220.1 379.3,287.6 380.0,197.9 380.6,292.8 381.0,202.4 381.8,275.2 383.0,201.8 383.9,282.9 384.6,207.5 385.7,297.8 386.6,212.9 388.0,271.9 389.1,220.2 389.7,286.2 391.0,205.2 392.1,271.3 393.4,205.7 394.0,283.0 394.9,210.9 396.7,284.0 398.2,211.2 399.2,275.9 399.7,205.7 400.9,274.7 401.7,218.5 403.1,275.0 403.8,200.3 404.5,271.1 405.4,206.2 406.9,265.7 408.3,197.6 409.7,283.0 410.7,196.9 412.3,284.9 413.3,197.2 413.8,281.6 414.7,198.1 416.1,282.1 416.8,190.4 417.4,282.8 418.5,201.4 420.2,266.9 421.6,193.2 423.1,275.3 424.7,204.9 425.8,280.5 426.4,209.7 427.7,274.9 428.6,210.4 429.0,276.7 430.5,208.4 431.8,280.6 433.7,196.9 434.7,270.5 435.6,200.7 436.6,266.4 437.6,199.4 438.8,280.6 439.5,204.7 440.6,280.5 441.1,205.9 441.9,264.5 442.5,217.0 443.4,285.9 444.2,189.9 445.8,267.6 447.1,203.1 448.5,271.2 449.3,213.1 450.2,271.7 451.4,192.1 452.5,269.0 453.8,204.7 455.1,272.8 455.7,206.3 457.0,265.8 458.4,216.1 459.2,268.4 460.2,208.8 461.0,282.0 461.7,197.2 462.9,259.9 463.7,206.5 464.3,273.3 465.9,193.4 467.0,269.4 467.7,229.1 469.0,261.7 469.9,213.3 471.8,263.9 473.7,209.2 474.8,272.4 476.1,214.1" fill="none" stroke="#800080" stroke-opacity="0.22" stroke-width="0.8"/>
<polyline points="288.4,281.5 290.2,246.3 291.0,294.3 292.6,241.5 293.7,284.9 295.0,239.3 295.7,281.5 296.3,242.0 297.3,283.8 299.1,239.2 299.9,287.8 300.4,237.1 301.4,283.8 302.7,244.0 303.2,290.6 304.1,236.5 304.8,284.7 305.5,241.3 306.6,280.7 307.3,241.4 308.3,280.9 309.3,236.7 310.0,286.4 310.7,237.5 311.5,283.4 312.7,239.6 313.6,286.5 315.0,231.4 315.8,278.9 316.4,227.8 317.5,281.5 319.5,227.5 320.6,283.9 321.3,233.7 322.5,285.0 323.3,224.5 323.9,286.2 324.9,227.6 325.8,282.4 327.3,221.4 328.2,290.1 328.9,230.0 330.4,281.1 331.2,224.4 332.4,280.8 333.3,228.9 334.2,284.6 335.4,228.8 337.4,280.1 338.8,226.3 340.2,281.2 341.2,222.7 343.1,276.1 344.5,216.0 345.1,285.9 345.9,227.6 347.2,280.5 349.0,230.5 350.2,277.6 351.2,213.0 352.1,279.4 353.4,224.8 355.0,278.0 356.4,224.3 357.2,281.3 358.7,215.4 360.2,283.7 362.4,220.9 363.3,272.3 364.3,209.7 364.7,281.4 366.6,210.3 367.8,271.3 368.6,211.6 369.7,274.7 371.0,216.3 372.3,282.7 374.0,209.8 375.0,275.0 376.0,214.0 378.1,269.6 380.0,213.4 381.0,264.2 383.0,208.6 383.9,278.7 384.6,207.1 385.1,272.8 386.1,215.5 388.1,271.3 389.4,205.1 390.2,269.3 391.2,204.3 392.4,266.0 393.3,211.7 393.9,258.2 395.9,216.9 396.8,268.2 397.8,216.5 398.5,265.2 399.0,206.5 400.0,267.2 401.7,213.6 402.7,276.2 404.0,208.6 405.3,270.5 407.2,206.1 408.4,263.1 409.4,214.0 410.1,271.7 411.2,211.3 412.5,270.6 414.2,212.7 415.4,265.9 416.8,205.5 417.9,268.2 419.0,204.9 420.1,272.3 421.0,210.2 421.7,261.4 422.5,206.0 424.4,261.7 425.8,204.2 427.5,279.4 428.7,204.1 429.4,267.9 430.7,203.7 431.4,264.6 432.1,206.6 433.0,264.4 434.6,216.8 435.6,266.7 437.1,202.1 438.0,268.8 439.3,207.1 439.9,271.3 440.6,213.9 441.2,268.0 442.5,207.8 444.0,263.7 445.5,204.2 446.8,270.1 448.4,209.0 449.3,269.3 450.5,197.6 452.1,264.3 453.2,204.0 453.7,265.4 454.5,203.8 455.2,272.1 455.9,206.6 457.2,271.1 458.1,211.3 459.8,275.2 460.7,209.0 462.3,262.7 463.4,211.1 464.2,274.9 465.5,191.3 466.3,268.0 467.2,206.7 468.4,274.6 469.8,204.9 471.0,266.1 471.8,211.4 473.4,263.4 473.9,210.5 475.1,265.0 475.9,219.4" fill="none" stroke="#800080" stroke-opacity="0.5" stroke-width="0.8"/>
<polyline points="288.2,272.4 289.7,251.6 291.2,274.8 292.0,252.3 293.5,271.6 294.3,251.0 295.3,273.0 296.0,247.2 296.7,274.5 297.6,249.7 299.2,271.9 299.6,247.3 300.5,273.0 302.0,248.8 303.3,273.0 304.5,246.0 305.9,273.4 306.9,244.5 308.8,270.7 309.9,243.9 311.0,273.8 311.7,246.3 313.0,276.1 314.4,245.6 315.0,269.6 315.8,241.4 317.7,264.7 319.0,243.4 320.1,271.0 321.2,238.3 321.9,267.4 322.6,242.3 323.4,270.0 324.5,241.2 325.4,270.2 327.2,242.5 328.2,268.0 329.5,234.6 330.9,267.4 331.7,237.5 332.2,269.4 333.0,240.4 334.9,267.9 335.9,238.8 338.0,271.3 338.6,234.4 339.3,266.2 340.7,234.4 341.3,267.0 343.1,235.0 344.1,269.5 345.9,231.8 347.0,269.5 348.4,231.3 349.4,266.2 350.7,228.9 351.3,265.7 352.5,234.1 353.3,261.9 354.7,231.3 355.9,261.6 356.8,232.8 357.9,267.2 358.6,229.2 359.9,262.9 360.8,228.3 362.5,261.6 363.5,231.6 364.6,264.4 366.6,231.0 367.5,264.0 369.7,229.3 370.7,263.9 372.1,227.9 372.7,257.8 373.4,226.1 374.8,265.9 375.6,230.5 376.6,263.4 377.4,227.3 378.8,260.5 380.4,226.0 381.2,262.4 382.4,227.7 383.2,261.0 384.8,221.8 386.1,263.7 387.5,225.1 388.4,259.9 390.2,221.8 391.1,263.4 392.5,227.1 393.6,262.1 394.0,223.4 394.9,261.5 396.2,229.3 397.1,253.1 397.9,220.4 399.5,263.5 400.2,226.9 401.3,262.7 403.2,227.4 404.3,255.9 404.9,227.8 405.7,257.5 406.5,221.4 407.2,259.3 407.9,226.1 408.8,261.8 410.6,219.4 411.6,262.8 412.7,221.8 413.6,258.9 414.5,222.3 415.0,263.1 416.2,218.4 417.4,258.2 419.0,222.4 419.8,258.2 420.8,222.3 421.7,256.3 422.7,223.7 423.3,258.0 424.1,226.3 424.6,258.4 425.8,221.0 426.3,257.1 427.9,224.3 428.7,259.9 429.4,221.7 430.0,260.3 430.9,221.6 432.9,261.5 433.8,225.3 434.6,259.5 435.9,223.3 437.0,259.1 437.7,224.1 438.8,258.7 440.2,223.9 441.6,256.0 443.3,217.6 444.3,261.5 446.3,221.1 447.4,255.3 448.5,221.3 449.8,256.3 450.8,220.4 451.9,260.0 452.8,224.8 454.7,256.1 455.8,228.2 457.8,257.0 458.3,227.5 459.4,259.4 460.8,219.0 461.7,259.8 463.0,221.8 463.7,255.8 464.3,216.5 465.5,258.0 466.4,223.3 467.6,256.5 468.7,221.9 469.4,257.1 470.7,223.8 471.3,255.4 471.8,224.4 473.0,256.1 473.9,220.8" fill="none" stroke="#800080" stroke-opacity="0.9" stroke-width="0.8"/>
<polyline points="287.6,274.2 288.4,250.1 288.9,274.6 289.9,251.1 290.4,272.9 291.1,248.9 292.5,273.4 293.4,251.2 294.1,272.1 295.4,250.1 296.6,273.9 297.1,251.6 298.0,273.4 298.9,251.2 299.4,272.9 300.6,250.7 301.5,275.1 302.1,248.0 302.9,270.3 304.4,250.0 305.3,270.2 306.3,244.2 307.8,268.7 308.5,248.2 309.9,271.7 310.9,240.9 311.6,269.1 312.3,244.0 313.7,270.0 314.7,242.9 315.3,271.2 316.2,244.4 317.0,272.4 318.1,245.1 319.9,269.9 321.5,242.7 322.7,270.1 323.3,239.0 324.2,266.7 325.9,243.3 326.9,266.4 327.6,242.1 328.5,267.1 329.6,237.4 330.1,266.5 331.8,239.5 333.0,268.3 334.1,233.5 334.7,268.2 335.3,236.7 336.4,266.0 337.0,235.6 338.0,270.1 339.1,237.7 340.6,266.1 341.9,236.0 343.2,264.5 344.7,233.7 345.9,266.6 347.2,233.4 348.6,265.1 349.3,231.9 350.4,264.3 351.2,232.7 351.9,265.2 353.1,227.7 354.3,269.9 355.1,229.1 355.9,266.8 357.4,227.3 358.2,266.1 359.3,228.8 361.2,262.2 362.3,226.9 363.8,264.9 364.7,226.8 365.5,264.2 365.9,228.7 366.7,259.3 368.2,224.8 368.9,258.1 370.1,226.5 371.5,264.0 372.7,230.7 373.5,264.6 374.3,226.6 376.1,266.3 377.0,225.0 378.3,260.4 379.2,223.7 380.7,264.9 381.3,224.3 382.0,260.6 383.2,226.1 384.2,260.2 385.5,227.8 386.7,260.1 387.8,228.8 389.7,263.5 390.8,222.8 392.5,257.6 393.6,224.0 395.1,256.8 395.5,229.0 396.4,262.6 397.8,226.1 398.8,259.9 400.1,227.1 401.4,262.0 402.8,224.1 403.7,259.1 404.5,223.5 405.2,258.7 407.0,226.6 408.2,255.2 409.3,224.0 410.1,257.9 411.4,224.6 412.7,253.4 414.8,227.8 415.7,257.9 416.9,225.8 418.0,257.5 418.6,223.1 420.1,257.7 420.7,224.5 421.6,257.0 423.2,224.5 424.2,258.4 425.1,219.2 426.8,253.9 427.9,224.7 428.6,259.4 429.1,222.1 429.9,260.6 430.8,220.1 432.8,258.3 434.3,222.5 435.2,255.3 436.6,228.0 438.4,258.1 440.0,223.9 441.3,257.6 442.2,223.6 443.2,256.1 444.4,222.7 445.1,256.1 446.3,219.7 447.3,255.9 449.3,223.3 450.4,263.9 451.0,223.4 452.3,252.8 453.5,221.3 454.1,257.6 455.5,216.3 457.1,254.3 457.7,222.6 458.8,255.7 460.0,225.7 461.9,259.3 462.9,226.4 464.9,257.3 466.3,223.5 467.7,255.5 469.7,221.5 470.6,257.8 471.1,222.1 472.1,257.6 473.4,221.9 474.0,254.4 474.6,220.9" fill="none" stroke="#800080" stroke-opacity="0.9" stroke-width="0.8"/>
</g>
<path d="M287.5,172.5H472.5" fill="none" stroke="#c4c4c4" stroke-width="1"/>
<path d="M472.5,172.5V314.5" fill="none" stroke="#c4c4c4" stroke-width="1"/>
<path d="M287.5,314.5H472.5" fill="none" stroke="#c4c4c4" stroke-width="1"/>
<path d="M287.5,172.5V314.5" fill="none" stroke="#5a5a5a" stroke-width="1"/>
<text x="287.9" y="331.6" font-size="10.5" text-anchor="middle" >2015</text>
<text x="331.85" y="331.6" font-size="10.5" text-anchor="middle" >2035</text>
<text x="375.8" y="331.6" font-size="10.5" text-anchor="middle" >2055</text>
<text x="419.75" y="331.6" font-size="10.5" text-anchor="middle" >2075</text>
<text x="463.7" y="331.6" font-size="10.5" text-anchor="middle" >2095</text>
<text x="282.5" y="186.4" font-size="10" text-anchor="end" >0.3</text>
<text x="282.5" y="229.73" font-size="10" text-anchor="end" >0.2</text>
<text x="282.5" y="273.07" font-size="10" text-anchor="end" >0.1</text>
<text x="282.5" y="316.4" font-size="10" text-anchor="end" >0.0</text>
<path d="M287.5,314.5v2.5 M309.48,314.5v1.5 M331.45,314.5v2.5 M353.43,314.5v1.5 M375.4,314.5v2.5 M397.38,314.5v1.5 M419.35,314.5v2.5 M441.33,314.5v1.5 M463.3,314.5v2.5 M287.5,183h-2.5 M287.5,226.33h-2.5 M287.5,269.67h-2.5 M287.5,313h-2.5 M287.5,204.67h-1.5 M287.5,248h-1.5 M287.5,291.33h-1.5" fill="none" stroke="#888" stroke-width="0.8"/>
<text x="297.3" y="195.5" font-size="19">TP (mg L<tspan font-size="11" dy="-7">-1</tspan><tspan dy="7">)</tspan></text>
<clipPath id="c5"><rect x="498.5" y="172.5" width="186.5" height="142"/></clipPath>
<g clip-path="url(#c5)">
<polyline points="500.5,299.3 501.3,203.8 502.8,295.0 504.0,219.4 505.4,296.3 506.9,253.0 508.1,301.5 509.3,248.8 510.8,298.8 512.1,251.7 513.0,298.4 513.6,249.8 514.5,298.5 515.4,239.0 516.3,299.4 517.4,243.4 518.1,296.5 519.2,210.0 520.9,298.4 522.0,256.3 522.4,293.4 524.4,200.8 525.6,297.1 526.9,240.1 527.5,292.8 529.5,225.4 530.5,292.8 531.9,245.7 532.8,289.8 534.0,246.4 534.7,304.4 536.3,242.4 537.2,297.5 538.7,248.8 540.0,297.5 541.4,224.9 542.3,282.9 543.1,219.8 543.9,311.7 544.9,252.0 546.7,296.9 547.7,244.9 548.8,290.9 550.0,240.8 551.0,295.1 552.9,251.2 554.0,294.2 554.7,255.6 555.8,291.1 556.7,249.9 557.7,299.1 558.3,245.5 559.5,290.6 560.2,247.0 560.9,290.0 562.0,243.5 562.6,281.0 563.8,247.7 565.4,292.1 566.6,249.7 568.1,297.4 569.1,208.0 569.6,295.4 570.9,218.0 572.3,299.5 573.5,249.9 574.6,291.6 575.5,211.0 576.7,297.5 577.8,252.8 578.6,303.9 580.8,249.1 581.7,290.4 582.3,246.0 583.0,300.9 583.7,250.3 585.0,289.2 585.8,251.0 587.1,287.4 588.6,251.9 589.9,294.5 591.5,244.1 592.3,294.0 593.6,243.2 595.1,292.2 596.7,233.8 597.8,296.1 599.0,225.5 600.2,293.6 601.2,231.7 602.6,297.9 603.3,255.3 604.2,293.4 605.6,246.9 606.5,282.4 607.6,219.8 609.5,302.3 611.6,254.3 612.5,287.7 614.3,241.2 615.1,296.3 616.9,254.2 618.3,294.5 619.1,249.0 619.6,289.9 620.6,222.3 622.8,298.9 624.3,248.7 625.5,286.7 627.0,246.7 627.8,288.2 629.3,245.1 630.2,285.2 631.0,249.7 631.7,293.0 633.1,246.2 634.5,293.4 635.6,257.1 637.3,296.4 638.4,258.1 640.3,292.2 642.2,255.9 643.5,290.1 644.2,250.0 645.6,292.7 647.2,232.0 648.3,287.6 649.0,249.8 650.4,293.0 651.6,250.0 653.1,289.4 654.3,249.5 655.1,287.2 656.1,257.5 658.2,296.6 659.8,249.0 660.8,298.4 661.9,260.2 663.9,286.9 665.2,254.9 666.3,297.5 667.4,260.2 668.7,289.3 669.4,242.4 670.1,284.3 671.3,258.9 673.0,287.7 674.3,250.2 675.0,289.4 676.1,254.1 676.7,291.9 677.6,248.7 678.2,296.9 679.7,254.5 680.6,289.7 681.0,251.1 682.0,289.6 682.7,253.2 683.9,293.6 685.2,256.2 686.0,295.5 687.1,259.8" fill="none" stroke="#800080" stroke-opacity="0.22" stroke-width="0.8"/>
<polyline points="499.6,293.1 501.1,251.4 502.4,288.8 504.4,252.8 505.4,287.4 505.9,254.3 507.0,290.7 508.7,228.6 509.7,284.7 511.0,252.7 511.8,295.5 513.8,251.2 514.9,283.3 515.9,250.5 517.3,287.0 518.3,252.5 520.3,296.5 521.2,254.9 523.0,286.8 523.9,255.2 524.4,283.4 524.9,253.8 526.0,286.6 527.1,235.4 528.1,299.5 529.7,239.1 530.6,288.1 531.3,250.6 531.8,289.1 533.6,250.1 534.7,288.1 535.8,254.8 537.3,288.8 537.9,249.9 538.9,288.7 540.3,253.0 541.3,289.3 542.0,241.8 543.3,286.3 544.2,245.5 544.7,288.6 545.6,253.4 547.3,294.5 548.6,254.3 549.2,289.7 551.4,253.9 552.3,284.5 553.0,248.1 554.0,285.8 555.3,256.3 556.3,283.7 557.4,252.7 558.4,286.8 559.7,251.9 561.3,293.4 562.5,254.5 563.2,287.8 564.1,251.3 565.6,287.5 566.4,254.5 567.6,288.8 568.6,256.6 569.4,285.8 570.0,255.0 570.9,285.9 571.8,255.4 572.5,286.7 573.3,258.3 574.0,285.5 575.2,259.0 577.2,288.0 578.1,254.0 579.8,284.7 581.0,248.0 582.5,290.0 583.6,252.7 584.4,292.1 585.1,255.4 586.3,285.3 587.0,252.5 587.5,288.9 589.2,256.5 590.2,288.7 590.9,256.1 591.4,289.5 592.0,258.0 593.2,283.2 594.8,255.6 596.1,283.0 597.2,252.5 598.6,292.0 600.1,254.2 601.2,290.7 602.0,254.7 602.8,284.8 604.0,255.3 604.7,290.3 605.6,255.2 606.6,291.1 607.8,257.3 608.9,286.5 609.9,261.4 611.0,286.5 611.6,260.2 612.7,287.4 613.3,254.6 614.3,287.5 615.2,258.9 617.0,287.9 618.3,254.3 618.9,292.3 619.9,259.1 620.5,284.8 621.8,243.8 622.5,288.8 623.2,259.9 624.0,287.9 625.0,256.9 626.1,287.8 627.1,254.7 628.4,286.2 629.8,252.1 630.9,285.1 631.6,257.6 633.0,281.2 634.4,256.8 636.2,289.9 637.2,256.5 639.1,286.8 639.8,259.7 640.6,287.4 641.4,257.6 642.4,290.1 643.2,255.2 644.2,287.7 644.9,258.1 645.5,284.1 646.3,248.6 647.6,288.5 649.5,257.9 650.6,285.7 651.8,260.7 652.5,285.3 653.4,258.5 654.4,288.5 655.6,254.8 656.6,286.3 657.9,258.9 658.9,289.6 659.5,258.7 660.4,288.4 661.5,254.3 662.9,291.0 663.5,259.2 665.0,289.1 665.8,258.6 666.7,287.1 667.2,261.7 668.0,286.8 668.7,257.6 669.2,285.0 670.0,257.0 671.5,285.7 672.5,259.8 674.5,285.7 675.6,257.1 676.7,284.1 677.3,262.4 678.2,285.7 679.5,253.2 681.1,292.3 682.2,260.1 683.8,286.6 684.6,260.6 686.0,287.9 687.6,259.4" fill="none" stroke="#800080" stroke-opacity="0.5" stroke-width="0.8"/>
<polyline points="499.7,280.3 500.6,260.7 502.4,277.4 503.3,260.7 504.4,280.1 505.5,262.5 507.4,277.4 508.1,259.1 509.5,280.4 510.5,261.0 511.7,278.8 512.1,261.0 513.1,279.2 514.2,261.1 515.3,280.0 516.3,259.3 517.8,277.8 518.8,260.5 520.7,278.4 521.5,261.2 522.2,279.5 522.6,260.5 523.6,278.5 524.3,260.3 524.8,281.5 526.3,260.5 527.6,282.3 528.1,259.6 529.3,278.4 529.9,260.0 531.4,281.3 532.8,259.6 534.3,281.2 535.4,263.7 536.8,279.4 538.6,260.4 539.5,282.2 540.3,261.4 541.2,281.5 541.9,261.9 542.4,280.3 543.7,265.0 544.7,280.8 546.1,261.8 547.5,280.9 548.6,261.3 550.3,280.1 551.1,265.3 552.5,281.6 553.3,262.5 553.8,281.5 554.6,262.9 555.7,281.2 556.8,265.0 558.2,282.0 559.9,261.3 561.0,281.8 561.5,262.5 562.4,281.1 563.7,262.3 565.0,282.4 566.3,264.6 567.6,281.6 568.5,261.6 570.2,280.9 571.3,263.5 572.1,280.7 573.5,265.4 574.4,283.6 575.8,262.9 577.0,281.2 577.6,264.1 578.9,282.1 580.3,262.4 582.0,283.7 583.9,261.5 585.1,282.7 586.8,263.3 587.6,283.0 588.4,261.9 590.2,283.0 592.1,263.6 593.1,284.1 594.0,262.7 595.3,281.8 596.0,264.8 596.7,282.6 598.6,263.0 599.8,284.2 601.8,263.2 602.9,282.7 604.3,261.8 606.0,282.3 607.7,264.7 608.6,280.8 609.4,264.9 610.5,282.7 611.9,263.8 613.6,283.7 614.6,262.6 615.3,282.4 616.4,263.9 617.0,280.7 617.6,264.8 618.6,279.0 620.6,264.4 621.6,281.2 622.3,263.0 623.4,283.0 624.5,264.9 625.2,279.2 626.0,264.9 626.9,281.3 628.0,264.7 628.6,281.2 629.7,265.3 630.9,282.0 632.3,264.0 633.9,282.0 634.6,263.5 636.0,282.4 637.3,265.5 638.1,283.6 639.1,265.0 639.7,282.5 640.3,266.2 641.4,279.9 642.6,265.0 644.1,284.5 645.1,264.6 646.2,280.7 647.2,264.0 648.3,279.5 649.2,265.3 650.5,281.7 651.4,264.9 653.0,282.3 654.4,265.9 655.8,281.4 656.6,264.6 657.6,282.2 658.0,263.9 659.0,284.8 660.1,265.8 662.1,280.8 663.9,263.8 664.9,281.0 665.8,263.5 666.5,280.5 667.3,263.7 668.3,282.1 669.7,266.1 671.5,281.0 672.7,265.0 673.8,280.4 675.5,264.9 676.2,280.8 677.0,263.9 678.2,282.3 678.9,266.7 679.8,281.9 680.8,262.4 681.4,281.9 682.3,264.6 683.0,282.7 684.0,264.4 684.7,280.8 685.4,264.2 686.1,282.3 686.8,264.5" fill="none" stroke="#800080" stroke-opacity="0.9" stroke-width="0.8"/>
<polyline points="500.4,280.9 501.0,259.5 502.3,278.7 503.7,261.8 504.5,278.3 505.9,260.0 507.4,280.3 508.1,258.9 508.7,278.3 509.5,261.2 511.2,279.9 512.2,261.7 514.0,278.6 514.6,260.5 515.5,277.5 516.4,261.4 518.1,281.3 519.6,262.9 520.4,280.4 521.8,259.0 523.3,281.3 524.2,261.7 525.1,280.4 525.7,258.7 526.5,281.1 528.0,260.7 529.6,279.9 530.5,259.8 532.5,279.7 533.8,263.2 535.6,280.9 536.8,261.7 538.4,280.8 539.2,261.4 540.4,278.9 541.1,259.6 541.9,279.2 542.6,261.4 543.6,278.0 544.9,260.4 545.6,282.0 546.1,263.3 546.8,283.7 547.8,260.2 548.9,282.4 549.9,264.0 551.0,284.1 551.8,262.0 553.4,281.3 554.2,261.8 554.7,283.4 555.7,262.9 557.0,282.1 558.2,264.1 560.1,282.2 561.8,263.6 562.6,281.3 563.4,263.1 564.9,284.0 566.3,263.3 567.6,279.9 568.5,262.5 570.4,283.5 571.2,263.4 572.8,280.3 573.9,261.6 574.8,282.1 576.1,263.2 577.1,282.7 578.4,263.9 580.1,284.9 581.6,265.7 582.8,283.7 583.6,265.5 584.6,282.5 586.1,264.0 587.2,284.3 588.2,263.3 588.7,284.6 589.4,264.4 590.9,284.3 591.6,264.2 593.1,281.8 594.5,263.7 595.6,281.1 596.1,264.9 596.9,284.0 598.8,263.2 599.7,284.5 600.8,265.0 601.7,281.7 603.4,261.8 604.2,283.9 605.1,264.7 605.6,282.0 606.5,263.4 607.6,283.4 608.8,264.9 609.7,282.1 610.4,260.2 611.3,284.3 613.2,263.7 614.2,280.1 615.2,265.3 616.1,284.5 617.1,265.8 617.8,281.4 619.2,264.8 620.8,282.3 622.2,266.7 623.3,282.1 624.1,265.4 625.0,282.5 625.9,263.5 627.6,281.8 628.6,266.5 629.5,282.8 631.4,263.4 632.3,282.9 632.9,263.6 633.6,281.7 635.4,265.9 636.7,280.9 637.6,263.0 639.2,283.5 640.0,265.0 641.6,284.0 642.4,262.9 643.0,279.1 644.7,264.2 646.0,282.6 646.8,264.8 647.3,282.6 648.8,265.0 650.1,284.0 651.4,263.4 653.3,283.9 654.9,266.1 656.0,281.2 657.4,264.0 658.9,280.1 659.5,263.8 660.4,281.6 661.3,264.1 661.9,280.2 662.7,263.8 663.4,281.8 664.1,266.7 664.7,281.6 665.7,263.7 666.1,281.8 667.1,263.1 668.9,282.8 670.1,263.2 670.9,282.5 671.5,264.3 672.1,280.4 672.6,265.1 673.5,282.3 674.9,266.7 676.4,281.7 677.3,264.7 679.2,283.8 680.3,266.6 682.0,279.7 682.7,264.1 683.2,282.4 683.9,265.3 684.9,283.3 686.0,266.1" fill="none" stroke="#800080" stroke-opacity="0.9" stroke-width="0.8"/>
</g>
<path d="M498.5,172.5H684.5" fill="none" stroke="#c4c4c4" stroke-width="1"/>
<path d="M684.5,172.5V314.5" fill="none" stroke="#c4c4c4" stroke-width="1"/>
<path d="M498.5,314.5H684.5" fill="none" stroke="#c4c4c4" stroke-width="1"/>
<path d="M498.5,172.5V314.5" fill="none" stroke="#c0c0c0" stroke-width="1"/>
<text x="498.9" y="331.6" font-size="10.5" text-anchor="middle" >0</text>
<text x="542.85" y="331.6" font-size="10.5" text-anchor="middle" >240</text>
<text x="586.8" y="331.6" font-size="10.5" text-anchor="middle" >480</text>
<text x="630.75" y="331.6" font-size="10.5" text-anchor="middle" >720</text>
<text x="674.7" y="331.6" font-size="10.5" text-anchor="middle" >960</text>
<text x="493.5" y="214.3" font-size="10" text-anchor="end" >0.4</text>
<text x="493.5" y="265.8" font-size="10" text-anchor="end" >0.2</text>
<text x="493.5" y="317.3" font-size="10" text-anchor="end" >0.0</text>
<path d="M498.5,314.5v2.5 M520.48,314.5v1.5 M542.45,314.5v2.5 M564.43,314.5v1.5 M586.4,314.5v2.5 M608.38,314.5v1.5 M630.35,314.5v2.5 M652.33,314.5v1.5 M674.3,314.5v2.5 M498.5,210.9h-2.5 M498.5,262.4h-2.5 M498.5,313.9h-2.5 M498.5,236.65h-1.5 M498.5,288.15h-1.5" fill="none" stroke="#888" stroke-width="0.8"/>
<text x="508.4" y="195.5" font-size="18.5">BOD<tspan font-size="11.5" dy="4">5</tspan><tspan dy="-4">/COD</tspan></text>
<clipPath id="c6"><rect x="67.5" y="351.5" width="185.5" height="141"/></clipPath>
<g clip-path="url(#c6)">
<polyline points="67.5,465.8 68.5,368.4 69.2,470.7 70.2,367.0 71.3,467.2 72.0,347.3 72.9,449.8 74.1,392.0 75.2,470.2 77.2,362.1 78.1,461.6 79.1,365.5 79.7,469.0 80.3,380.3 81.0,455.8 83.1,384.3 84.1,462.2 85.4,366.9 86.5,463.9 87.9,383.5 88.9,456.2 90.1,375.8 92.1,456.7 92.9,396.2 94.4,447.7 95.5,365.3 96.3,467.5 97.0,378.2 98.0,467.5 99.5,389.5 100.6,462.6 102.0,371.5 103.8,459.8 104.2,377.5 105.1,462.1 106.1,383.4 106.7,455.7 108.1,386.8 108.9,454.9 110.2,393.1 111.5,457.3 113.3,383.6 114.6,462.1 115.3,390.5 116.6,455.7 117.5,391.6 118.9,484.9 120.1,385.3 121.9,447.2 123.2,384.0 124.7,455.0 125.9,386.8 126.6,457.5 128.1,383.8 128.8,455.2 129.5,379.6 130.9,459.5 132.5,382.6 134.0,452.6 135.4,399.9 136.8,456.6 137.8,391.8 138.8,463.0 139.6,381.2 140.6,467.0 141.7,394.9 143.4,461.3 144.7,392.1 145.2,461.5 146.4,391.1 148.4,457.5 149.5,386.7 150.7,458.1 151.7,391.6 152.8,472.3 153.5,398.5 154.7,452.2 156.0,382.1 157.7,454.8 158.6,398.8 160.6,466.3 162.3,394.8 163.2,473.4 164.5,395.4 166.0,452.7 166.6,389.2 167.4,453.4 168.2,394.1 169.2,455.7 169.9,404.1 170.9,461.4 172.0,392.2 173.6,465.8 175.1,394.6 176.4,458.7 177.1,402.1 177.8,448.0 178.6,401.1 179.2,467.0 180.6,406.0 181.6,451.4 183.0,397.6 183.8,460.0 184.9,392.5 185.3,458.0 186.1,405.0 186.8,453.0 187.7,394.8 188.7,466.1 189.7,388.8 191.2,450.1 192.7,390.4 193.9,449.4 195.5,405.5 196.9,455.7 198.1,400.0 199.7,457.1 200.3,398.5 201.1,461.2 201.5,398.8 202.6,457.7 204.3,397.0 205.2,455.2 206.5,402.3 208.2,454.4 208.7,408.7 209.9,464.1 211.4,413.3 212.5,451.3 213.2,391.2 214.4,458.1 216.1,407.0 216.9,460.5 218.0,395.7 218.9,459.4 220.8,400.6 221.7,458.8 223.3,404.9 224.3,461.6 226.0,409.9 226.8,460.8 227.6,399.1 228.9,462.6 229.8,408.1 230.4,461.9 231.8,407.4 233.0,452.1 234.1,394.8 235.3,461.0 236.4,398.7 238.3,448.0 239.3,412.1 241.2,457.2 242.1,405.5 243.1,450.8 244.0,405.8 246.0,460.5 246.4,408.9 247.3,455.4 248.2,402.9 248.8,475.3 250.2,399.3 250.8,461.9 251.8,417.3 253.4,460.6 255.4,416.7" fill="none" stroke="#800080" stroke-opacity="0.22" stroke-width="0.8"/>
<polyline points="68.8,446.2 70.1,385.1 71.2,455.6 71.7,379.9 72.5,442.4 73.4,390.7 74.5,449.1 75.6,387.1 77.3,450.3 78.2,394.7 79.7,451.1 80.5,385.7 81.7,456.6 82.4,381.3 83.1,448.7 84.0,390.9 84.5,456.9 85.5,380.1 87.4,446.5 88.5,389.0 90.2,453.0 91.6,382.7 93.0,446.1 94.2,386.9 95.8,453.9 97.0,384.3 97.8,451.7 99.0,386.7 99.8,450.6 100.7,395.9 101.2,455.5 101.9,389.4 102.6,452.2 104.2,383.7 105.7,441.2 106.6,389.0 107.9,451.5 109.6,389.8 110.6,449.1 111.3,395.3 112.5,451.6 113.8,390.9 115.2,459.1 116.6,391.8 117.7,451.1 119.2,390.8 120.0,445.8 120.4,388.4 121.4,445.3 122.9,388.7 123.6,457.4 124.5,391.2 125.3,452.6 126.8,386.9 127.8,454.7 128.5,389.0 129.9,454.9 131.5,398.5 132.6,456.2 134.5,396.5 135.4,454.4 136.1,395.2 137.0,458.1 137.9,401.6 138.4,454.0 139.0,389.5 139.7,455.9 140.6,391.6 141.5,452.3 142.4,392.6 143.9,461.1 144.7,390.4 145.9,462.6 146.5,402.3 147.2,461.5 148.5,386.6 150.3,457.8 151.8,393.9 153.4,461.7 155.0,399.8 156.0,462.9 156.9,403.7 157.9,452.2 159.3,396.5 160.0,456.6 161.0,397.9 161.7,461.3 162.6,405.1 163.5,450.0 164.9,399.2 166.3,458.7 167.8,395.3 168.5,446.3 169.2,408.0 169.9,448.2 170.5,403.7 171.8,456.2 173.4,397.9 174.5,451.6 176.3,401.1 177.0,456.9 178.4,405.9 179.4,455.6 180.5,399.8 182.5,460.6 183.6,404.2 184.5,456.2 185.7,403.4 187.4,464.9 188.7,403.5 189.2,450.3 190.6,403.4 192.1,459.0 192.9,399.7 193.9,463.7 195.4,411.1 196.0,456.2 197.0,402.1 198.6,460.6 199.4,406.7 200.5,459.7 202.0,410.9 202.6,458.4 203.2,404.1 204.3,453.0 205.1,409.0 206.2,454.4 207.1,418.0 208.0,460.4 208.5,413.1 209.6,460.4 211.5,408.3 212.4,455.1 213.1,398.0 213.6,467.9 214.2,407.9 215.1,453.2 216.4,410.9 217.2,454.7 219.2,412.2 220.2,455.5 222.0,405.8 222.8,454.4 223.4,403.9 224.4,460.5 225.0,406.3 226.1,458.1 226.7,403.2 227.4,453.0 228.1,405.4 228.9,454.6 229.7,411.9 230.7,452.6 231.5,413.9 232.3,450.3 233.3,402.9 234.6,455.6 235.6,407.4 237.2,457.9 238.1,409.7 240.3,461.0 241.0,417.9 242.1,454.7 243.7,408.7 245.1,452.9 246.7,417.5 248.2,461.2 249.7,410.3 250.8,455.8 251.7,412.5 253.3,459.9 254.3,411.7" fill="none" stroke="#800080" stroke-opacity="0.5" stroke-width="0.8"/>
<polyline points="67.8,431.9 68.7,402.0 70.5,432.1 71.5,405.1 73.3,430.9 74.3,403.5 75.4,432.6 77.2,401.2 78.6,428.3 79.5,403.5 81.3,426.9 83.0,401.7 84.0,430.5 86.0,406.0 87.0,434.6 88.6,404.5 89.6,431.5 90.3,403.1 91.8,432.4 92.7,408.6 94.3,433.2 94.6,406.0 95.5,432.0 96.4,402.3 98.3,431.8 99.0,406.3 99.8,429.0 100.3,397.8 101.2,438.2 101.8,407.2 103.2,432.6 104.7,403.6 105.6,432.9 107.2,406.2 108.4,433.0 109.1,403.0 110.7,432.5 111.3,404.4 112.1,432.8 113.3,403.1 114.4,435.9 115.0,405.1 115.8,438.5 116.5,407.1 117.2,437.0 118.9,404.6 119.7,438.9 121.2,401.7 122.7,434.3 123.6,403.3 124.6,435.3 126.0,401.0 127.4,437.5 128.7,405.6 129.3,439.6 130.9,404.5 132.0,435.1 133.4,404.4 134.8,436.7 136.8,400.2 137.8,438.4 138.5,404.3 140.1,436.4 140.7,399.6 141.6,434.5 142.6,405.3 144.5,438.1 145.9,405.8 147.6,441.6 149.1,403.1 150.3,437.5 151.7,404.7 152.4,441.9 154.0,404.0 154.9,439.6 156.1,409.9 157.0,441.5 157.6,409.0 158.6,444.3 159.3,402.3 160.1,439.9 162.1,404.4 163.1,439.5 164.5,404.8 165.4,441.3 166.3,405.4 166.8,443.9 168.1,406.5 169.7,445.8 170.7,404.3 172.0,445.0 173.0,407.1 173.8,448.2 175.4,411.8 176.5,444.3 178.1,411.5 179.0,446.4 180.4,408.5 181.2,450.0 183.0,411.4 183.9,442.9 184.6,408.8 185.8,450.0 186.8,412.3 187.3,440.7 189.3,408.8 190.4,446.0 191.4,413.9 193.4,445.2 194.3,410.9 194.6,443.2 195.0,411.3 195.8,443.8 197.6,413.5 198.8,441.6 199.5,411.5 200.6,447.6 201.2,409.1 202.3,449.9 203.3,412.1 204.6,452.1 206.0,408.5 206.6,442.9 207.2,413.3 208.1,447.7 209.5,416.4 210.4,448.7 211.4,409.7 212.7,451.7 213.6,411.5 215.6,448.0 216.8,411.2 217.6,446.2 218.3,411.8 219.4,445.4 220.2,411.5 220.7,444.4 221.7,415.0 223.0,447.7 223.4,410.4 224.4,449.4 224.9,417.2 225.7,450.0 226.6,411.8 227.6,445.2 228.4,411.1 229.2,446.4 230.1,417.4 230.5,443.2 231.9,412.1 233.1,446.0 234.0,416.0 234.5,446.9 235.3,411.7 235.8,445.8 236.7,417.2 237.5,443.6 238.6,412.5 240.3,446.3 241.3,409.4 242.0,448.7 242.8,407.2 244.3,443.9 245.3,414.2 246.1,448.9 246.8,409.9 248.6,446.2 249.7,411.9 251.0,446.7 251.9,413.3 252.9,445.3 253.8,413.9 254.7,448.3 255.5,411.1" fill="none" stroke="#800080" stroke-opacity="0.9" stroke-width="0.8"/>
<polyline points="68.0,428.4 69.1,402.8 71.0,427.7 72.0,402.0 74.1,428.7 75.2,406.6 76.0,431.1 76.7,401.1 77.5,429.9 78.4,402.3 80.0,425.8 81.6,403.8 83.0,431.8 84.3,403.0 85.2,432.1 86.2,403.2 86.6,430.0 88.5,403.7 89.8,431.0 91.0,403.4 92.1,433.1 93.1,402.1 94.0,433.4 95.1,407.7 96.3,430.5 96.8,407.0 97.8,437.0 99.4,399.7 100.9,430.4 102.7,401.9 103.6,431.4 104.6,408.5 106.2,436.4 107.0,400.9 107.5,433.2 108.7,404.0 110.2,429.6 111.6,401.9 112.9,434.0 114.2,404.7 115.7,431.6 116.2,404.6 116.9,435.3 118.9,407.0 120.1,437.7 120.9,406.4 121.9,437.9 122.8,402.5 123.9,439.1 125.0,405.6 125.9,438.9 126.4,407.1 127.6,433.8 129.2,406.9 130.2,437.4 131.4,405.1 132.8,441.7 134.3,408.5 135.3,435.9 135.9,399.4 137.1,433.3 138.1,403.6 138.9,438.4 139.5,404.1 140.7,438.6 141.4,407.4 142.2,437.2 142.9,399.1 143.8,441.3 144.8,400.5 146.7,438.8 147.6,402.7 148.1,443.8 149.4,405.0 150.5,440.9 151.9,405.8 153.3,437.3 154.1,398.3 154.7,436.2 155.9,407.4 157.1,442.8 158.3,408.5 159.4,442.1 160.6,404.9 161.9,442.2 162.8,410.5 164.3,442.4 165.4,404.6 166.6,442.8 167.2,403.1 168.1,442.2 168.9,408.7 170.0,438.8 170.8,410.2 171.8,444.4 172.5,409.0 173.3,442.7 174.0,406.3 174.7,445.7 176.0,406.7 176.6,443.5 177.2,412.0 178.0,442.2 179.4,405.2 180.2,442.1 181.5,408.0 182.2,448.9 183.5,409.4 184.3,444.1 185.0,409.6 185.9,448.3 187.3,408.1 188.4,450.2 189.8,414.2 190.8,445.3 191.4,414.0 192.6,447.9 194.3,410.8 195.3,449.0 196.1,406.8 197.1,448.5 198.0,409.7 198.9,447.7 200.3,411.6 201.1,447.1 202.4,412.4 203.2,446.7 203.8,409.6 205.0,447.7 206.1,413.5 206.8,445.9 207.9,414.8 209.2,442.3 210.3,413.9 212.0,450.5 212.7,412.0 213.4,440.4 215.0,410.7 215.9,446.4 217.1,413.2 217.6,443.9 218.5,410.9 219.5,448.0 220.5,408.5 222.5,448.7 223.5,413.2 224.6,446.8 225.4,411.9 227.2,448.3 228.8,411.5 229.7,445.7 230.3,412.7 231.3,446.6 233.2,415.1 234.4,445.2 235.9,416.6 237.2,446.6 237.9,416.8 239.2,442.0 240.2,416.3 241.4,445.4 242.0,419.0 243.1,445.4 244.0,410.6 245.1,444.1 246.5,408.0 247.1,446.2 248.2,418.3 249.1,446.1 250.7,415.1 252.1,449.2 253.3,417.4 254.2,450.9 255.4,414.1" fill="none" stroke="#800080" stroke-opacity="0.9" stroke-width="0.8"/>
</g>
<path d="M67.5,351.5H252.5" fill="none" stroke="#c4c4c4" stroke-width="1"/>
<path d="M252.5,351.5V492.5" fill="none" stroke="#c4c4c4" stroke-width="1"/>
<path d="M67.5,492.5H252.5" fill="none" stroke="#c4c4c4" stroke-width="1"/>
<path d="M67.5,351.5V492.5" fill="none" stroke="#c0c0c0" stroke-width="1"/>
<text x="67.9" y="504.5" font-size="10.5" text-anchor="middle" >0</text>
<text x="111.85" y="504.5" font-size="10.5" text-anchor="middle" >240</text>
<text x="155.8" y="504.5" font-size="10.5" text-anchor="middle" >480</text>
<text x="199.75" y="504.5" font-size="10.5" text-anchor="middle" >720</text>
<text x="243.7" y="504.5" font-size="10.5" text-anchor="middle" >960</text>
<text x="62.5" y="369.4" font-size="10" text-anchor="end" >8</text>
<text x="62.5" y="401" font-size="10" text-anchor="end" >6</text>
<text x="62.5" y="432.6" font-size="10" text-anchor="end" >4</text>
<text x="62.5" y="464.2" font-size="10" text-anchor="end" >2</text>
<text x="62.5" y="495.8" font-size="10" text-anchor="end" >0</text>
<path d="M67.5,492.5v2.5 M89.47,492.5v1.5 M111.45,492.5v2.5 M133.43,492.5v1.5 M155.4,492.5v2.5 M177.38,492.5v1.5 M199.35,492.5v2.5 M221.33,492.5v1.5 M243.3,492.5v2.5 M67.5,366h-2.5 M67.5,397.6h-2.5 M67.5,429.2h-2.5 M67.5,460.8h-2.5 M67.5,492.4h-2.5 M67.5,381.8h-1.5 M67.5,413.4h-1.5 M67.5,445h-1.5 M67.5,476.6h-1.5" fill="none" stroke="#888" stroke-width="0.8"/>
<text x="75.7" y="373.4" font-size="18.8">COD/TN</text>
<clipPath id="c7"><rect x="287.5" y="351.5" width="185.5" height="141"/></clipPath>
<g clip-path="url(#c7)">
<polyline points="287.7,472.4 288.6,382.8 290.3,480.9 291.6,403.2 293.2,500.1 295.1,369.4 296.1,480.8 297.2,379.5 299.2,477.0 299.9,383.7 300.8,480.7 302.0,380.9 303.1,490.1 303.9,384.7 304.8,478.5 306.0,363.7 306.9,483.9 307.6,383.8 308.8,476.9 310.3,385.8 311.9,481.7 312.8,370.0 314.1,466.3 315.3,397.5 316.3,487.4 316.7,382.0 317.5,479.3 318.8,376.4 319.3,480.0 320.0,379.3 320.9,468.4 322.3,376.0 323.6,472.8 324.5,407.1 324.9,474.0 326.4,388.1 327.4,471.3 328.7,391.7 330.6,491.6 331.5,397.7 332.3,471.0 334.3,386.7 335.4,476.4 336.1,389.4 337.6,450.1 338.7,379.9 339.4,472.7 340.0,395.2 341.3,473.1 343.1,403.8 344.0,465.5 344.6,397.2 345.4,466.8 346.5,389.8 347.1,453.4 347.9,400.9 348.6,470.3 349.9,402.3 351.3,454.2 352.0,394.3 353.8,470.5 354.8,398.9 355.2,481.9 356.5,392.2 358.4,493.3 359.3,405.3 360.5,483.2 361.2,388.2 362.4,463.8 363.7,404.2 364.9,480.1 365.6,392.4 366.2,476.8 367.9,396.9 368.8,474.6 369.9,402.1 370.8,463.2 372.5,397.5 373.7,465.3 375.4,412.9 376.8,468.8 378.0,402.8 380.0,477.2 380.9,410.6 381.4,477.0 382.7,407.1 384.3,465.7 385.0,402.5 386.3,468.4 387.1,405.8 387.9,467.4 388.7,408.1 390.2,473.0 390.8,419.6 391.5,470.4 392.3,412.8 392.8,474.5 394.9,401.5 395.9,475.0 396.6,401.6 397.7,471.1 398.2,421.1 399.1,460.3 400.3,410.1 402.2,483.3 402.7,411.0 403.6,469.7 404.2,409.0 405.1,491.3 407.1,417.2 408.0,477.9 409.0,415.6 410.1,473.4 411.5,411.0 412.6,471.1 414.5,412.0 415.7,484.1 416.4,415.1 417.1,473.8 417.9,414.8 419.7,470.0 420.4,426.3 420.9,473.2 422.0,422.6 423.1,488.2 423.9,426.1 424.8,467.3 425.4,416.9 426.2,479.5 428.0,423.2 429.2,475.3 430.1,427.8 431.6,463.0 432.5,420.6 433.2,480.9 434.9,426.2 435.8,479.6 436.8,411.9 437.3,478.0 438.1,422.9 439.9,476.9 440.8,415.1 442.1,467.9 443.0,425.9 443.9,472.7 445.0,422.1 446.1,476.6 446.7,420.3 448.0,464.9 449.3,423.2 450.1,459.0 451.5,419.9 452.9,464.3 454.4,418.9 455.6,482.1 456.7,423.4 457.7,464.7 458.8,424.0 459.6,475.0 460.6,428.3 462.5,467.4 463.1,424.6 464.3,470.8 466.3,421.9 467.3,471.4 468.9,430.9 469.7,484.8 471.5,427.0 472.8,478.4 473.9,428.6 474.8,464.8 476.3,425.8" fill="none" stroke="#800080" stroke-opacity="0.22" stroke-width="0.8"/>
<polyline points="288.8,459.9 289.4,392.1 290.2,478.1 290.9,393.4 292.3,460.0 293.2,404.3 294.5,461.9 295.5,386.7 297.3,454.1 298.5,391.3 299.5,461.9 300.6,396.4 301.2,466.6 302.0,402.7 302.5,466.5 303.8,390.5 305.5,460.1 306.9,410.9 308.2,464.0 309.2,391.0 310.1,454.3 310.9,403.3 312.5,459.2 314.3,395.4 315.3,468.2 316.6,392.1 317.5,463.8 318.5,395.3 319.9,471.0 320.9,400.3 321.4,459.9 322.4,390.6 323.1,462.1 323.7,399.6 324.6,456.9 325.3,397.9 326.4,469.6 327.6,397.6 329.4,466.8 330.3,399.0 331.7,456.4 332.6,400.2 334.6,460.8 336.1,404.2 336.8,463.1 337.5,396.9 338.1,476.0 339.5,406.2 340.2,468.9 341.4,391.7 342.0,469.3 343.5,401.3 344.7,469.7 345.9,397.8 347.4,459.7 348.1,408.3 349.2,462.0 349.9,404.3 351.3,464.7 353.1,408.9 354.2,467.1 355.1,410.4 356.1,462.3 356.7,403.0 357.9,458.3 358.5,401.5 359.2,469.6 360.7,410.9 362.1,468.1 364.0,402.0 365.0,460.0 366.0,404.9 366.8,472.0 367.5,412.3 368.5,462.1 369.6,408.7 370.3,466.3 371.2,413.7 372.2,467.3 372.7,403.7 373.6,463.2 374.4,403.4 375.4,471.2 376.4,401.8 378.2,458.8 379.1,413.2 380.2,474.6 381.5,415.3 382.5,458.1 383.5,423.4 384.5,462.3 386.1,417.9 387.1,454.4 387.9,402.2 389.9,471.7 391.4,414.1 392.1,477.3 393.2,419.7 394.5,464.2 396.6,418.8 397.6,477.3 398.1,417.5 399.0,469.0 400.9,421.2 401.7,478.0 402.4,421.7 403.9,467.8 405.0,418.0 406.0,461.5 406.7,418.5 407.2,465.3 408.4,427.2 409.6,468.1 410.4,425.9 411.9,473.2 412.9,419.7 413.6,461.4 414.5,428.3 416.1,467.0 417.0,427.9 418.2,465.7 419.0,417.7 420.3,468.6 422.4,429.2 423.4,466.0 424.8,430.1 426.3,472.4 427.2,429.6 428.5,465.1 429.1,429.2 430.3,472.0 430.9,425.6 432.0,464.9 432.7,430.1 433.3,474.2 434.0,431.6 434.7,475.0 435.4,428.1 436.5,466.2 438.0,433.2 438.9,469.5 440.5,426.4 441.5,468.6 442.3,431.9 443.0,466.3 444.1,434.5 446.2,473.2 447.5,437.0 448.7,466.3 450.1,431.8 450.8,471.4 451.9,428.0 452.9,464.8 453.4,429.1 454.1,474.8 454.9,428.0 456.2,473.4 457.2,431.6 457.8,471.1 458.4,431.5 459.8,469.0 460.4,432.4 461.1,470.9 461.9,434.4 463.0,468.4 464.7,429.0 465.4,472.4 466.3,432.2 468.3,468.7 469.1,435.9 469.9,473.7 470.7,429.8 471.8,472.9 472.5,435.0 473.6,464.0 474.1,433.4 474.8,469.1 475.7,428.9" fill="none" stroke="#800080" stroke-opacity="0.6" stroke-width="0.8"/>
<polyline points="289.4,436.0 290.3,410.4 291.2,444.9 292.3,414.0 294.3,442.7 294.9,415.1 295.7,441.0 297.4,412.9 298.8,440.8 300.3,409.5 301.5,446.5 302.7,415.3 304.3,441.4 304.7,411.8 305.7,446.8 307.0,415.6 308.7,447.6 309.6,414.4 310.2,445.5 311.5,418.8 312.2,445.7 313.5,414.2 314.5,449.1 315.6,416.5 317.1,447.1 318.5,415.1 319.2,446.7 319.9,417.4 321.0,449.0 322.4,414.7 323.8,444.0 324.7,416.2 325.2,448.1 326.8,415.1 327.8,450.8 328.9,414.8 329.5,448.7 329.9,416.3 330.7,455.0 332.2,412.5 332.9,452.4 334.3,416.0 335.4,454.5 337.3,416.7 338.2,450.1 339.4,415.1 341.1,450.7 341.9,417.9 342.9,456.3 343.4,418.1 344.2,459.6 345.4,415.9 346.3,455.5 346.8,419.6 347.6,459.8 348.8,414.4 349.6,460.4 350.5,425.5 352.0,453.2 352.7,420.7 353.9,463.3 355.0,419.0 356.0,463.0 356.8,420.5 357.3,451.4 358.2,422.8 359.0,459.6 360.5,418.8 361.6,453.8 362.6,418.1 363.3,460.0 364.9,421.7 365.6,461.6 367.3,425.3 368.1,459.6 369.7,425.7 370.9,452.8 371.6,424.6 372.8,464.2 373.6,424.5 374.6,465.4 375.3,429.3 376.4,460.1 378.1,426.3 379.4,463.0 381.0,422.7 382.4,464.1 383.9,424.2 385.2,460.6 386.1,431.6 387.2,461.4 387.8,427.6 388.7,464.3 389.5,431.3 390.0,461.9 390.5,426.7 391.5,465.1 392.6,425.8 394.5,465.6 395.5,430.4 396.2,463.8 398.0,423.6 399.2,465.1 400.3,433.1 402.1,465.8 403.0,435.5 404.5,467.4 405.2,434.6 405.9,464.8 406.9,432.8 408.1,467.6 409.5,430.4 411.0,463.8 411.8,433.6 412.9,465.5 414.3,436.0 415.1,465.8 416.1,437.3 418.0,468.1 419.3,436.4 420.7,467.2 421.3,437.1 422.5,467.8 423.9,435.5 425.6,465.5 427.1,442.6 428.2,469.6 428.9,439.7 430.0,461.2 432.2,438.6 433.1,467.7 434.8,441.0 436.0,467.3 436.7,439.3 437.8,470.3 438.8,438.6 439.6,465.4 441.6,439.2 442.5,467.0 443.8,439.0 445.0,463.6 446.2,439.2 446.8,468.6 448.5,438.1 449.8,468.6 450.6,436.7 451.6,466.4 452.6,437.4 454.8,462.6 455.7,442.5 456.5,464.9 457.3,437.2 458.1,468.6 459.3,441.6 460.9,466.0 461.5,436.9 462.7,464.5 464.8,441.7 465.8,464.8 466.9,440.0 468.8,464.9 469.6,439.6 470.2,465.6 471.0,439.8 472.4,467.7 473.4,442.4" fill="none" stroke="#800080" stroke-opacity="0.9" stroke-width="0.8"/>
<polyline points="289.3,443.8 290.1,417.7 290.6,439.6 291.3,413.1 292.7,440.2 294.1,411.2 295.0,439.6 296.8,413.9 297.9,442.0 299.0,413.7 300.3,441.0 301.4,414.5 303.1,445.2 304.5,410.9 305.3,442.9 306.5,418.7 307.6,446.1 309.3,413.5 310.1,446.6 310.8,414.2 312.1,444.0 312.7,414.2 313.5,447.3 314.0,414.1 314.9,448.8 315.8,415.8 316.8,451.2 317.6,415.4 318.9,449.1 320.1,417.7 322.0,446.4 322.8,412.6 324.4,445.8 325.3,415.0 325.9,450.1 326.7,415.9 327.8,447.7 328.5,418.0 329.1,447.2 329.9,417.0 330.5,458.8 331.4,417.4 331.9,452.2 333.7,419.9 335.0,457.3 335.6,416.4 336.5,452.6 337.5,415.7 338.3,450.6 339.4,416.7 341.3,453.8 342.7,414.2 343.6,455.0 344.7,415.9 345.3,454.9 346.5,423.9 347.0,453.7 347.6,416.7 348.6,454.8 350.0,420.9 351.0,455.0 353.0,416.9 354.1,456.9 355.3,420.9 356.2,460.3 357.7,413.8 359.3,462.1 360.7,421.8 361.5,456.6 362.4,417.9 363.0,457.1 364.2,424.5 365.1,463.8 366.0,421.4 367.3,456.9 368.7,425.4 370.1,456.6 371.7,424.7 372.8,456.5 374.0,424.8 376.0,457.2 376.5,423.0 377.7,462.5 379.0,423.1 380.4,458.9 381.4,429.3 383.5,463.6 384.2,426.1 384.9,463.6 385.7,428.9 387.0,464.5 388.2,430.8 389.0,463.9 389.9,425.4 391.6,461.5 392.3,429.8 393.7,466.8 395.7,426.9 396.8,466.3 397.4,431.7 398.4,465.3 399.4,430.2 400.0,463.0 401.0,432.1 401.6,465.0 402.3,431.8 403.3,466.7 404.1,432.1 404.7,461.1 406.1,432.7 407.4,466.4 408.6,432.6 409.1,468.0 409.8,429.2 410.3,465.7 410.7,438.4 411.5,462.8 413.1,436.8 414.6,464.2 415.7,437.5 417.1,465.0 418.8,435.0 419.7,463.6 421.8,438.2 422.8,462.1 423.9,432.9 425.6,469.6 426.8,438.8 428.4,464.8 429.6,440.2 430.5,466.2 431.3,439.9 432.7,462.9 433.3,437.9 434.5,468.6 435.8,436.6 437.0,466.9 437.6,437.5 438.8,469.2 439.8,437.2 441.1,466.5 441.9,438.1 442.6,467.7 443.9,436.9 445.7,467.4 447.2,437.9 448.6,468.3 449.4,437.0 450.7,465.7 451.5,439.4 452.7,469.5 454.2,438.0 455.7,464.3 456.2,437.3 457.1,463.6 458.2,439.8 458.9,465.8 460.6,443.7 461.8,467.6 462.3,439.1 463.2,467.7 464.0,440.8 465.0,467.6 465.7,438.4 466.5,464.8 468.1,439.5 469.4,467.5 470.1,439.3 470.8,467.0 471.6,441.6 472.0,465.5 473.0,440.8 474.4,466.8 475.2,439.1" fill="none" stroke="#800080" stroke-opacity="0.9" stroke-width="0.8"/>
</g>
<path d="M287.5,351.5H472.5" fill="none" stroke="#c4c4c4" stroke-width="1"/>
<path d="M472.5,351.5V492.5" fill="none" stroke="#c4c4c4" stroke-width="1"/>
<path d="M287.5,492.5H472.5" fill="none" stroke="#c4c4c4" stroke-width="1"/>
<path d="M287.5,351.5V492.5" fill="none" stroke="#5a5a5a" stroke-width="1"/>
<text x="287.9" y="504.5" font-size="10.5" text-anchor="middle" >0</text>
<text x="331.85" y="504.5" font-size="10.5" text-anchor="middle" >240</text>
<text x="375.8" y="504.5" font-size="10.5" text-anchor="middle" >480</text>
<text x="419.75" y="504.5" font-size="10.5" text-anchor="middle" >720</text>
<text x="463.7" y="504.5" font-size="10.5" text-anchor="middle" >960</text>
<text x="282.5" y="382.4" font-size="10" text-anchor="end" >200</text>
<text x="282.5" y="438.7" font-size="10" text-anchor="end" >100</text>
<text x="282.5" y="495" font-size="10" text-anchor="end" >0</text>
<path d="M287.5,492.5v2.5 M309.48,492.5v1.5 M331.45,492.5v2.5 M353.43,492.5v1.5 M375.4,492.5v2.5 M397.38,492.5v1.5 M419.35,492.5v2.5 M441.33,492.5v1.5 M463.3,492.5v2.5 M287.5,379h-2.5 M287.5,435.3h-2.5 M287.5,491.6h-2.5 M287.5,407.15h-1.5 M287.5,463.45h-1.5" fill="none" stroke="#888" stroke-width="0.8"/>
<text x="296.7" y="373.4" font-size="18.6">COD/TP</text>
<clipPath id="c8"><rect x="498.5" y="351.5" width="186.5" height="141"/></clipPath>
<g clip-path="url(#c8)">
<polyline points="499.7,499.8 500.9,390.0 502.7,496.9 503.8,410.0 505.0,491.0 505.7,393.4 507.2,494.7 508.8,415.8 510.2,489.4 511.3,377.8 511.8,489.4 512.4,407.9 513.6,489.4 514.4,415.2 514.8,504.0 515.4,405.1 516.2,479.8 517.1,408.7 518.3,501.2 519.5,423.6 520.3,474.3 521.4,385.5 522.1,487.2 522.5,414.3 523.3,489.6 524.2,422.7 525.6,505.3 526.7,402.5 528.3,479.2 529.3,412.3 530.1,498.5 532.0,414.7 532.9,488.8 534.5,408.9 535.8,484.7 536.7,410.6 538.1,465.5 539.8,388.0 540.5,479.9 542.3,417.7 543.5,477.2 544.0,397.7 545.1,470.2 547.0,425.2 548.2,478.4 548.9,397.6 550.1,472.5 550.6,421.4 551.7,473.9 552.6,418.1 553.1,478.2 553.6,425.3 554.4,471.6 555.3,422.2 557.2,474.3 557.8,424.7 558.9,462.7 560.6,411.1 562.0,482.4 563.4,414.8 564.8,480.9 565.7,418.3 567.2,464.4 568.3,416.2 569.0,479.5 570.9,413.3 572.1,473.2 572.6,425.2 573.6,474.3 574.3,416.8 575.1,477.4 577.1,419.9 578.1,475.7 579.6,422.3 581.1,469.7 582.2,425.6 583.3,468.1 584.7,422.8 585.4,470.1 586.5,420.0 587.2,478.9 588.5,410.5 589.3,466.7 589.9,420.3 591.2,473.0 592.7,416.0 594.0,480.6 594.8,427.8 595.9,482.6 596.5,413.7 597.2,463.1 598.0,425.3 599.1,471.5 600.1,409.1 601.6,473.4 602.7,418.7 603.2,475.9 604.0,421.5 605.1,468.6 605.9,422.3 607.5,474.4 609.2,427.7 610.5,471.1 611.3,423.8 612.1,478.6 612.8,418.9 613.7,485.6 614.9,423.4 615.5,465.7 617.3,417.8 618.2,478.6 619.6,420.7 620.7,480.2 622.4,423.3 623.6,465.7 625.6,428.1 626.6,475.8 628.2,415.1 629.0,468.9 629.6,423.9 630.6,467.4 631.5,417.0 633.4,465.3 634.5,420.3 636.0,467.0 636.9,422.3 638.5,456.0 640.1,421.4 641.2,476.5 642.1,419.5 643.3,466.0 643.9,422.3 644.7,469.6 645.3,421.7 645.9,465.6 647.2,419.7 647.9,470.3 649.5,424.3 650.7,470.6 652.6,417.7 653.7,473.1 654.3,419.4 655.1,467.6 655.7,424.7 657.0,480.7 657.5,419.2 658.3,463.9 659.8,419.1 660.8,474.0 662.6,418.3 663.7,478.5 664.5,429.8 665.3,474.1 667.2,414.2 668.3,470.6 669.2,422.0 670.4,469.2 672.1,422.1 672.9,463.0 674.4,423.9 675.0,462.0 676.9,418.9 678.2,458.4 678.9,414.0 679.4,472.2 681.1,429.7 682.2,464.7 684.3,421.5 685.4,468.0 686.8,417.2" fill="none" stroke="#800080" stroke-opacity="0.22" stroke-width="0.8"/>
<polyline points="500.5,477.2 501.8,413.4 502.6,474.1 503.6,421.4 504.8,477.3 506.5,418.4 507.3,467.1 508.4,426.6 509.7,476.2 510.1,419.9 510.9,472.3 512.1,421.7 513.9,466.2 514.4,426.9 515.3,478.6 516.1,422.7 517.2,485.7 518.7,428.6 519.5,475.1 520.8,413.8 522.3,473.1 523.9,417.3 525.0,471.7 526.8,415.9 527.7,472.6 528.9,428.7 529.7,475.0 531.2,422.1 532.1,472.0 533.0,428.5 534.1,468.5 535.5,425.8 536.2,471.1 537.2,426.5 537.7,468.3 538.7,424.6 539.6,478.8 540.8,424.8 541.9,481.9 542.9,426.9 543.5,470.4 544.4,435.6 544.9,472.1 545.7,427.6 547.4,471.1 548.6,430.8 549.2,464.5 550.9,422.0 552.2,473.5 553.8,426.4 554.7,477.8 555.8,426.9 556.4,473.9 557.3,426.6 557.9,476.0 559.7,423.6 560.9,474.4 562.0,419.0 562.7,467.8 563.2,427.9 564.0,467.7 565.1,420.8 565.8,470.3 566.9,426.1 567.4,473.3 568.3,425.1 568.7,469.5 569.6,429.3 570.1,464.8 570.7,432.4 571.5,474.3 572.9,431.7 574.3,469.8 575.1,429.2 575.7,466.3 576.9,427.6 578.8,466.9 580.1,426.1 581.0,468.4 581.8,429.6 583.5,467.7 584.6,424.5 586.5,462.2 588.3,426.7 589.1,464.5 590.4,422.6 592.2,460.9 593.0,425.6 594.4,467.9 595.4,426.4 596.4,464.2 597.9,429.3 599.1,469.1 600.2,424.2 601.6,466.8 602.4,424.5 603.7,467.7 604.8,419.8 605.5,463.8 606.9,425.7 607.6,470.6 608.6,428.5 609.5,465.9 610.3,427.8 612.2,464.2 613.6,430.4 614.9,465.2 615.9,430.5 617.1,464.5 617.8,427.2 618.9,468.0 619.9,426.2 621.2,459.3 621.9,426.5 622.7,467.0 623.9,425.5 624.9,461.6 625.7,427.6 626.5,457.3 627.2,421.4 628.2,462.0 628.9,427.8 630.2,467.5 630.7,429.6 631.5,464.5 632.1,430.6 633.0,463.0 633.9,422.0 636.1,461.1 637.5,426.5 638.2,465.7 639.1,426.2 639.6,466.3 640.8,427.8 642.6,466.0 643.6,430.6 644.4,459.1 645.9,425.6 647.0,463.3 648.1,424.7 649.8,464.3 651.0,425.1 651.6,462.6 652.3,424.5 653.1,470.1 654.5,427.6 655.6,461.6 656.3,428.4 657.0,467.8 658.2,433.0 659.6,463.9 660.2,426.2 660.9,467.8 661.8,425.5 662.7,459.8 663.8,428.7 665.7,463.1 666.9,419.9 667.7,460.8 668.2,423.8 669.0,463.9 670.5,425.8 671.7,463.7 672.4,432.2 673.0,464.3 674.1,431.0 675.4,460.8 676.7,426.4 677.4,457.4 678.6,429.6 680.2,461.5 681.5,430.0 682.1,464.3 683.5,427.7 684.2,464.5 684.8,429.6 685.6,466.6 687.1,425.8" fill="none" stroke="#800080" stroke-opacity="0.5" stroke-width="0.8"/>
<polyline points="500.6,457.3 502.0,432.8 503.5,460.8 505.3,434.8 506.2,459.7 507.6,432.7 509.3,460.1 510.4,434.3 511.2,461.8 512.9,438.1 513.8,460.0 515.2,437.1 515.8,462.7 516.6,439.1 517.5,460.7 518.3,438.5 519.4,462.2 520.7,438.6 521.5,463.5 522.7,438.4 524.1,460.4 525.0,440.0 525.6,462.3 527.0,439.9 528.1,461.7 529.4,437.4 530.8,461.2 531.4,439.7 532.1,461.1 532.9,443.0 534.4,460.1 535.0,437.4 536.1,461.2 537.0,441.5 538.0,460.3 539.2,440.8 540.0,460.9 541.3,438.5 542.1,463.3 543.0,440.6 544.2,461.9 545.1,439.3 545.7,462.6 546.5,440.3 547.6,462.1 548.6,441.1 550.8,461.3 552.2,441.6 553.9,461.0 554.5,439.6 555.5,460.6 557.0,439.6 557.9,460.0 559.2,441.8 560.8,457.9 561.4,436.7 562.2,459.6 563.6,439.8 565.0,459.7 566.6,436.1 567.9,458.4 569.3,438.1 571.0,456.7 572.0,436.3 572.7,453.7 573.6,434.9 574.2,457.8 575.2,434.1 576.8,456.9 577.2,433.0 578.0,453.9 579.2,432.4 581.0,453.4 581.4,433.2 582.3,451.9 583.6,435.8 584.2,454.5 585.2,434.4 586.2,453.9 588.1,433.1 589.2,452.8 590.2,434.4 592.3,455.9 593.8,433.0 594.6,453.4 595.7,434.0 596.2,452.8 597.2,436.8 597.8,453.0 599.8,433.0 600.8,452.8 601.9,434.0 602.4,453.6 604.0,431.8 605.4,453.8 606.3,435.2 607.3,452.5 608.9,437.3 609.6,453.6 610.3,432.3 611.3,451.7 612.4,432.5 613.5,451.5 614.0,431.8 615.1,454.4 616.1,435.2 616.6,453.6 617.3,434.0 619.0,454.1 619.5,432.7 620.3,454.6 621.6,434.2 622.4,450.6 623.6,432.6 625.1,452.5 626.7,432.2 628.0,452.1 629.2,433.4 630.1,455.1 631.6,431.8 632.8,454.9 633.5,434.0 634.4,452.6 635.7,433.1 636.3,451.5 636.8,432.6 637.9,451.4 639.2,433.8 640.4,452.8 642.0,430.1 643.0,454.8 644.3,430.6 645.5,454.1 646.5,432.2 647.4,452.1 648.2,433.6 649.2,452.8 650.4,433.0 651.1,451.0 652.6,432.6 653.3,452.8 654.2,431.5 655.5,450.9 657.6,432.3 658.5,452.0 659.5,431.3 660.2,453.6 661.2,433.9 662.0,452.7 662.8,430.3 663.2,452.5 665.0,432.9 666.0,455.5 666.9,430.6 667.6,452.0 668.2,432.9 669.2,452.3 670.9,434.1 671.8,451.8 672.5,434.9 673.6,449.8 675.5,434.0 676.5,451.2 677.4,432.1 678.0,452.7 679.5,431.3 680.3,451.7 681.7,430.7 683.2,450.1 685.1,429.6 686.3,453.3 687.6,432.9" fill="none" stroke="#800080" stroke-opacity="0.9" stroke-width="0.8"/>
<polyline points="500.5,458.1 501.6,431.1 502.8,456.3 504.3,433.2 505.7,460.1 506.4,435.5 507.1,460.7 507.9,436.8 509.4,458.1 510.5,437.7 511.7,460.3 512.5,436.5 513.5,460.6 514.2,438.0 515.5,463.3 516.3,438.5 516.9,461.3 517.5,441.4 518.7,462.7 519.6,442.0 521.3,463.1 522.8,439.0 524.1,461.2 524.6,441.0 525.7,464.2 527.1,437.8 527.8,462.8 528.5,440.8 529.6,459.0 531.3,442.0 532.3,461.4 533.8,437.3 534.7,463.3 535.3,437.9 536.5,460.9 538.5,440.2 539.4,463.9 540.7,438.7 541.4,460.3 542.2,440.9 543.9,459.7 545.5,440.5 546.4,463.0 547.6,440.2 549.1,460.6 550.5,440.4 551.2,459.4 552.0,442.0 553.1,459.9 554.1,438.9 554.6,463.5 555.5,439.8 556.3,458.8 557.3,439.1 558.8,461.8 559.5,439.4 560.7,459.8 561.3,439.5 562.0,458.9 562.8,440.8 563.2,460.2 564.7,439.7 566.0,457.4 566.8,437.4 568.5,459.4 569.3,439.7 570.4,457.3 572.5,438.1 573.5,455.7 574.4,437.9 575.6,455.8 576.9,434.9 577.7,453.7 579.6,435.4 580.5,453.4 581.2,434.4 582.2,455.0 582.9,434.4 583.9,454.7 585.5,433.2 586.4,449.7 587.8,433.9 588.5,455.0 589.7,435.4 591.3,452.6 591.8,433.7 593.0,453.1 594.1,434.7 596.1,453.5 596.9,433.9 598.2,452.1 598.8,434.8 599.6,451.4 601.3,432.8 602.1,453.6 603.7,434.8 605.2,452.6 606.8,431.3 607.7,453.1 608.5,434.2 610.2,454.1 611.5,431.3 612.8,451.1 613.8,434.7 614.7,452.5 615.8,431.9 617.6,451.2 618.3,433.6 619.2,452.3 621.0,433.4 622.1,454.8 622.8,432.1 624.0,452.8 624.9,431.0 627.0,451.3 628.5,430.9 629.5,454.9 630.4,431.0 631.0,453.6 632.1,434.9 634.0,454.4 635.4,429.9 636.2,453.5 637.1,432.1 637.6,452.2 638.7,432.8 640.7,451.7 642.7,432.0 643.8,453.1 645.1,429.8 646.0,452.4 646.6,431.3 647.2,453.4 647.9,430.3 649.3,452.5 650.4,432.7 652.0,454.2 653.9,432.1 655.1,453.1 655.8,429.7 656.7,452.1 658.0,435.7 658.8,454.1 659.4,432.8 660.1,454.1 661.2,433.2 661.9,453.5 662.5,429.0 663.5,451.2 664.4,430.3 665.5,450.4 666.5,428.6 668.6,449.7 670.2,431.2 671.4,453.1 672.4,431.5 673.1,451.2 674.2,430.6 674.8,454.2 675.6,432.9 676.5,451.9 677.3,430.6 678.3,452.8 679.1,431.1 679.9,451.6 680.6,433.6 681.2,450.2 681.6,431.5 682.4,451.6 683.5,431.1 684.6,451.9 685.9,431.4 687.2,453.8 688.9,430.1" fill="none" stroke="#800080" stroke-opacity="0.9" stroke-width="0.8"/>
<polyline points="498.6,492.6 500.0,362.0 501.3,476.8 503.0,406.3 503.9,461.9 505.2,387.3 506.3,495.7 506.9,398.9 507.7,488.0 508.9,389.2 509.8,485.2 511.1,423.4 512.2,478.2 512.9,404.0 514.1,471.8 515.4,405.8" fill="none" stroke="#800080" stroke-opacity="0.6" stroke-width="0.8"/>
</g>
<path d="M498.5,351.5H684.5" fill="none" stroke="#c4c4c4" stroke-width="1"/>
<path d="M684.5,351.5V492.5" fill="none" stroke="#c4c4c4" stroke-width="1"/>
<path d="M498.5,492.5H684.5" fill="none" stroke="#c4c4c4" stroke-width="1"/>
<path d="M498.5,351.5V492.5" fill="none" stroke="#c0c0c0" stroke-width="1"/>
<text x="498.9" y="504.5" font-size="10.5" text-anchor="middle" >0</text>
<text x="542.85" y="504.5" font-size="10.5" text-anchor="middle" >240</text>
<text x="586.8" y="504.5" font-size="10.5" text-anchor="middle" >480</text>
<text x="630.75" y="504.5" font-size="10.5" text-anchor="middle" >720</text>
<text x="674.7" y="504.5" font-size="10.5" text-anchor="middle" >960</text>
<text x="493.5" y="374.1" font-size="10" text-anchor="end" >0.6</text>
<text x="493.5" y="414.67" font-size="10" text-anchor="end" >0.4</text>
<text x="493.5" y="455.23" font-size="10" text-anchor="end" >0.2</text>
<text x="493.5" y="495.8" font-size="10" text-anchor="end" >0.0</text>
<path d="M498.5,492.5v2.5 M520.48,492.5v1.5 M542.45,492.5v2.5 M564.43,492.5v1.5 M586.4,492.5v2.5 M608.38,492.5v1.5 M630.35,492.5v2.5 M652.33,492.5v1.5 M674.3,492.5v2.5 M498.5,370.7h-2.5 M498.5,411.27h-2.5 M498.5,451.83h-2.5 M498.5,492.4h-2.5 M498.5,390.98h-1.5 M498.5,431.55h-1.5 M498.5,472.12h-1.5" fill="none" stroke="#888" stroke-width="0.8"/>
<text x="507.4" y="373.4" font-size="18.8">NH<tspan font-size="11.5" dy="4">3</tspan><tspan dy="-4">/NO</tspan><tspan font-size="11" dy="4">3</tspan><tspan font-size="11" dy="-11">-</tspan></text>
<clipPath id="c9"><rect x="66.8" y="545.5" width="186.2" height="142"/></clipPath>
<g clip-path="url(#c9)">
<polyline points="67.6,656.3 69.0,590.3 70.2,652.0 71.8,600.1 72.7,669.4 73.5,582.6 75.1,658.5 76.1,594.0 76.8,676.0 78.5,595.4 79.3,653.3 80.4,591.5 80.9,658.2 82.1,582.8 83.4,652.3 84.6,591.6 85.4,654.8 85.9,609.7 86.9,649.4 87.7,589.2 88.3,644.0 89.5,592.0 90.7,662.5 92.3,592.3 93.4,648.5 94.3,605.0 95.0,640.7 96.3,602.4 97.0,659.4 97.4,600.8 98.2,652.7 98.9,601.9 99.8,643.6 101.1,600.2 102.1,652.8 103.0,607.0 105.0,656.9 105.9,611.8 107.4,658.8 108.5,596.1 109.3,655.3 110.9,593.4 112.2,658.5 113.3,598.4 114.0,653.3 114.7,604.5 115.7,649.6 116.6,605.3 118.5,666.6 119.5,600.5 120.1,645.7 121.2,606.0 121.8,649.7 122.6,606.9 123.0,648.4 123.8,604.6 125.0,650.4 126.4,610.4 127.3,646.7 129.1,603.5 130.1,646.7 130.9,611.1 131.4,649.3 132.4,597.9 134.2,646.2 134.7,607.4 135.7,652.5 136.8,602.4 138.6,656.1 140.6,594.7 141.5,650.0 142.2,601.1 143.4,652.1 144.3,600.5 145.6,654.2 146.8,606.8 148.6,655.9 149.6,601.8 151.1,640.3 153.1,604.7 154.0,644.7 154.6,606.2 155.2,638.8 156.4,603.6 157.3,648.2 158.0,601.8 158.8,645.9 160.5,599.9 161.3,666.9 163.1,605.6 164.2,656.3 165.1,607.8 166.9,650.7 167.5,599.4 168.7,652.9 170.6,609.3 171.7,649.8 173.7,609.0 174.8,651.9 175.4,600.5 176.5,649.0 177.2,601.4 177.9,641.7 179.0,600.4 179.6,659.0 180.3,601.4 181.1,648.4 183.0,599.8 184.2,650.1 185.3,606.0 187.3,638.4 188.4,608.1 189.4,645.5 190.3,605.0 191.4,648.0 191.9,608.9 192.9,647.3 194.8,608.3 196.0,649.9 196.7,602.2 197.7,644.5 199.3,604.7 200.7,654.8 201.9,605.0 203.1,646.4 204.1,604.8 204.6,647.8 206.5,600.4 207.4,644.2 208.3,610.5 209.4,651.4 210.8,603.1 211.9,647.4 212.6,601.3 213.3,649.4 214.5,609.8 215.8,645.7 216.7,612.1 218.5,647.0 219.9,604.3 221.0,647.3 221.8,601.1 222.7,652.0 223.9,604.9 224.7,652.6 226.4,597.3 227.1,647.8 228.0,609.5 229.6,653.1 231.4,608.0 232.2,648.6 233.3,598.0 233.8,647.8 235.8,604.5 236.8,639.3 237.8,605.8 238.3,647.3 239.4,608.2 240.4,647.9 241.3,600.1 241.7,651.0 242.9,606.3 244.1,654.8 245.3,598.6 246.2,649.2 246.8,600.5 247.6,650.4 248.5,606.6 249.3,648.6 250.7,604.8 252.4,653.5 254.3,610.3 255.1,646.6 256.9,607.1" fill="none" stroke="#800080" stroke-opacity="0.22" stroke-width="0.8"/>
<polyline points="68.0,649.9 68.7,599.8 69.2,644.5 70.7,600.9 71.8,640.5 73.1,606.3 73.6,646.2 75.5,605.8 76.6,646.7 77.7,604.2 79.4,643.8 80.9,601.6 82.2,639.7 83.9,606.9 85.2,646.1 85.8,605.6 87.2,644.1 88.0,610.9 89.5,643.0 91.5,607.8 92.6,646.3 93.3,612.2 94.7,642.1 95.8,609.1 96.4,641.3 97.2,611.4 97.8,643.5 98.7,611.9 99.8,643.3 101.7,604.3 102.9,641.4 103.7,606.9 104.5,642.3 105.5,609.7 106.1,640.6 107.3,612.1 108.7,640.0 109.8,608.9 110.6,641.4 111.9,610.0 113.5,642.3 114.6,604.8 116.3,645.6 117.2,606.0 118.9,647.7 119.7,607.8 120.9,637.9 121.6,606.1 122.2,637.9 123.1,608.7 124.2,641.5 125.2,610.0 127.0,638.6 128.0,607.5 129.7,641.8 130.4,606.7 131.2,638.2 132.0,607.5 133.9,635.3 134.4,609.7 135.4,640.8 137.0,611.8 137.8,642.5 138.9,606.0 139.9,648.1 140.9,609.6 142.8,640.3 143.6,610.0 144.9,637.1 145.6,604.2 146.6,637.5 147.6,606.7 149.0,638.1 149.9,604.6 150.8,637.8 151.6,611.4 152.7,643.7 153.9,602.8 155.4,639.6 157.1,611.5 158.0,638.7 158.7,603.5 159.3,636.1 160.4,604.4 161.6,644.4 162.5,611.1 163.2,640.9 164.6,614.9 165.3,642.8 166.1,608.0 166.6,639.8 167.2,613.7 168.0,639.5 168.7,609.7 170.0,641.5 170.7,610.6 172.0,636.1 172.5,604.2 173.3,635.1 174.7,611.2 175.5,642.9 176.3,614.5 177.4,639.0 178.9,607.5 179.6,646.5 180.4,609.2 180.9,637.5 182.0,606.2 183.2,644.2 184.1,607.0 185.2,638.7 186.2,608.2 187.2,639.5 187.8,612.3 188.8,641.6 189.9,605.9 191.2,641.8 193.2,611.5 194.2,638.5 195.3,605.6 196.4,641.7 197.3,611.0 197.7,640.6 198.5,604.8 199.6,643.6 200.4,600.2 201.4,637.7 203.0,607.8 204.2,639.0 205.0,611.2 205.5,639.3 206.3,607.4 206.9,637.8 208.2,609.4 210.0,641.5 211.3,610.5 212.5,637.9 213.4,609.5 214.2,641.0 215.2,608.4 215.6,638.7 216.9,611.9 217.7,640.9 218.5,609.9 220.1,638.2 220.7,607.4 221.7,643.6 222.8,608.7 224.2,639.7 225.1,610.4 226.3,637.0 227.8,608.7 228.7,640.7 229.4,608.2 230.1,641.8 231.6,607.0 232.4,643.8 233.6,602.9 234.6,641.7 236.1,606.1 237.6,636.8 238.5,606.1 239.8,639.1 241.5,607.0 242.5,642.1 243.6,610.4 244.7,641.1 245.4,610.3 246.8,639.8 248.3,609.0 249.9,636.1 251.3,608.5 252.0,644.6 253.4,609.2 254.5,644.2 255.6,606.7" fill="none" stroke="#800080" stroke-opacity="0.5" stroke-width="0.8"/>
<polyline points="68.5,635.5 69.0,612.4 69.7,631.3 70.2,611.6 71.2,633.9 72.5,613.8 74.1,630.0 75.1,614.5 76.0,631.5 76.8,613.3 77.6,633.4 79.0,615.0 79.7,630.9 81.2,609.9 82.2,633.6 83.1,614.6 84.2,630.0 85.9,613.0 87.1,631.8 88.7,613.5 89.9,631.1 91.3,613.5 92.2,632.5 93.2,612.6 95.1,631.8 96.6,612.8 97.2,631.6 98.9,614.5 99.7,630.0 101.7,612.6 102.8,630.8 104.1,613.6 105.8,629.7 107.8,613.9 108.9,630.2 110.1,612.2 111.0,631.9 111.7,612.6 112.9,632.8 113.5,612.4 114.8,631.4 115.9,614.0 117.5,631.4 119.1,612.0 120.7,631.0 121.2,614.0 122.0,630.2 123.1,613.7 123.5,631.9 124.5,614.8 126.0,630.0 127.7,614.0 128.8,631.6 130.0,612.7 131.0,630.5 132.4,612.6 133.0,632.5 133.8,614.9 135.4,631.0 136.3,614.4 137.0,628.4 137.6,613.8 138.8,630.4 140.0,613.0 141.4,630.0 142.1,614.5 142.9,630.3 144.1,612.1 145.3,632.0 146.8,614.1 147.5,631.5 148.4,611.4 148.9,630.2 149.8,611.2 151.4,629.7 152.4,614.6 153.1,631.0 153.8,614.0 154.6,629.8 155.7,612.8 157.5,631.2 158.8,614.8 160.6,630.8 161.7,612.9 162.6,632.0 163.1,612.7 163.8,631.5 165.1,611.9 166.5,629.8 167.6,614.6 168.6,630.6 169.8,615.1 170.3,627.3 171.2,613.0 172.3,628.9 173.2,613.4 174.6,631.4 176.6,612.9 177.7,632.2 179.5,613.4 180.6,630.8 181.2,614.7 182.0,630.8 182.6,614.6 183.5,630.2 184.9,612.6 185.6,629.8 186.0,612.8 186.9,631.9 188.7,614.6 189.8,631.3 190.5,613.8 191.9,629.4 192.8,614.5 194.2,631.1 195.2,614.6 196.5,631.2 198.0,614.3 199.3,631.1 200.1,612.7 201.3,630.2 202.6,613.5 203.3,629.9 203.9,613.0 205.3,630.4 205.7,614.4 206.8,630.5 207.6,613.5 209.6,628.7 210.2,612.0 211.0,630.1 212.1,612.6 213.7,630.4 215.2,612.9 216.6,630.5 218.2,613.2 219.1,630.3 220.4,616.5 221.9,629.4 223.2,614.3 224.2,628.5 225.5,611.6 227.3,630.2 227.8,613.4 228.6,630.2 229.2,614.9 230.0,630.6 230.9,613.5 232.5,630.3 233.0,614.5 233.9,630.6 235.5,614.1 236.3,628.7 237.6,614.7 238.8,631.1 239.9,613.9 240.9,630.3 242.2,611.9 243.0,628.5 243.9,613.7 245.2,631.0 246.2,613.3 246.7,629.2 247.3,613.8 248.1,630.3 249.2,613.1 250.4,630.1 252.0,614.2 253.2,630.9 254.0,613.4" fill="none" stroke="#800080" stroke-opacity="0.9" stroke-width="0.8"/>
<polyline points="68.4,632.6 69.8,614.2 71.5,633.9 72.5,610.8 73.2,632.9 74.1,612.0 75.8,633.7 76.4,610.5 77.3,631.4 77.9,613.0 79.0,630.9 80.1,613.2 81.3,629.7 82.2,612.9 82.9,630.2 83.9,611.9 85.4,631.8 86.6,615.9 87.3,630.4 88.3,613.9 89.1,630.2 90.3,615.1 91.6,629.5 92.8,612.9 93.6,631.9 94.6,614.5 95.7,629.4 97.8,613.9 98.7,630.8 100.2,613.3 101.6,631.1 102.6,613.4 103.3,631.8 104.6,613.1 105.7,631.4 106.9,611.6 108.2,630.7 108.9,614.0 110.1,630.4 111.5,611.5 112.2,631.4 113.4,614.0 114.5,631.7 115.3,613.6 115.7,633.1 116.6,612.8 118.1,630.2 119.0,614.5 120.5,630.5 121.4,614.3 121.8,631.2 122.6,613.6 123.5,631.9 124.2,612.1 125.8,631.6 126.4,613.9 127.8,630.5 129.3,614.5 130.6,631.6 131.8,613.7 132.5,632.3 133.6,613.8 134.8,629.9 135.4,614.1 136.6,631.4 137.7,612.6 139.5,630.1 141.0,616.3 141.8,631.9 143.5,612.1 144.9,627.7 145.6,613.0 146.5,632.5 147.6,612.3 148.2,630.6 148.8,612.9 149.8,629.0 150.5,614.9 151.1,631.0 152.7,612.2 153.5,632.0 154.3,613.4 155.1,630.1 155.5,610.9 156.3,632.9 157.7,613.9 159.0,630.2 159.8,612.0 161.4,631.2 163.5,613.6 164.5,631.0 165.5,614.8 166.0,630.7 167.5,613.3 168.6,629.9 169.0,614.7 169.9,632.0 170.8,612.6 171.6,630.9 172.3,613.4 172.9,630.3 174.1,614.1 174.9,628.8 175.9,614.2 177.1,631.0 177.6,612.4 178.5,629.9 179.3,613.0 179.7,630.2 181.1,612.8 182.1,628.5 183.3,615.1 184.0,630.1 184.9,610.9 185.9,629.1 186.6,612.4 187.3,632.1 188.4,614.9 189.3,629.0 190.2,613.4 191.7,630.3 193.0,612.7 194.4,630.9 195.1,615.0 195.8,630.8 197.5,614.0 198.9,629.9 200.3,613.6 201.1,630.5 202.6,614.0 203.3,631.3 204.2,613.1 204.6,631.4 205.8,616.3 207.5,631.1 208.7,611.6 210.2,630.9 211.2,612.8 212.9,628.6 214.0,612.9 215.0,629.1 216.0,614.9 217.1,630.5 217.7,614.3 218.7,630.2 219.6,614.4 220.7,630.6 222.4,612.2 223.7,631.8 224.5,613.5 226.1,630.6 226.7,614.6 227.8,628.8 228.8,613.1 229.4,630.9 230.8,612.6 231.8,630.7 232.7,612.3 234.4,627.6 235.2,613.6 235.8,631.9 236.9,614.7 237.8,629.6 238.6,613.6 239.0,630.2 240.4,614.2 242.0,631.6 242.9,613.3 243.3,629.6 244.5,613.4 245.2,631.8 246.0,613.9 246.8,628.2 247.8,615.1 249.4,631.0 250.2,613.7 250.7,629.4 251.6,614.2 253.3,629.9 254.8,615.3" fill="none" stroke="#800080" stroke-opacity="0.9" stroke-width="0.8"/>
</g>
<path d="M66.8,545.5H252.5" fill="none" stroke="#e0e0e0" stroke-width="1"/>
<path d="M252.5,545.5V687.5" fill="none" stroke="#707070" stroke-width="1"/>
<path d="M66.8,687.5H252.5" fill="none" stroke="#aaaaaa" stroke-width="1"/>
<path d="M66.8,545.5V687.5" fill="none" stroke="#606060" stroke-width="1"/>
<text x="67.2" y="705.5" font-size="10.5" text-anchor="middle" >2015</text>
<text x="111.15" y="705.5" font-size="10.5" text-anchor="middle" >2035</text>
<text x="155.1" y="705.5" font-size="10.5" text-anchor="middle" >2055</text>
<text x="199.05" y="705.5" font-size="10.5" text-anchor="middle" >2075</text>
<text x="243" y="705.5" font-size="10.5" text-anchor="middle" >2095</text>
<text x="61.8" y="549.2" font-size="9.6" text-anchor="end" transform="translate(61.8,0) scale(0.95,1) translate(-61.8,0)">0.000025</text>
<text x="61.8" y="593.27" font-size="9.6" text-anchor="end" transform="translate(61.8,0) scale(0.95,1) translate(-61.8,0)">0.000020</text>
<text x="61.8" y="637.33" font-size="9.6" text-anchor="end" transform="translate(61.8,0) scale(0.95,1) translate(-61.8,0)">0.000015</text>
<text x="61.8" y="681.4" font-size="9.6" text-anchor="end" transform="translate(61.8,0) scale(0.95,1) translate(-61.8,0)">0.000010</text>
<path d="M66.8,687.5v2.5 M88.78,687.5v1.5 M110.75,687.5v2.5 M132.72,687.5v1.5 M154.7,687.5v2.5 M176.67,687.5v1.5 M198.65,687.5v2.5 M220.63,687.5v1.5 M242.6,687.5v2.5 M66.8,546.3h-2.5 M66.8,590.37h-2.5 M66.8,634.43h-2.5 M66.8,678.5h-2.5 M66.8,568.33h-1.5 M66.8,612.4h-1.5 M66.8,656.47h-1.5" fill="none" stroke="#777" stroke-width="0.8"/>
<text x="74" y="569.5" font-size="18.2">Hg</text>
<clipPath id="c10"><rect x="287.5" y="545.5" width="185.5" height="142"/></clipPath>
<g clip-path="url(#c10)">
<polyline points="288.9,667.2 290.6,602.9 291.4,665.0 291.9,597.4 292.7,672.2 293.5,610.9 295.5,673.9 296.8,602.3 298.6,665.8 300.2,602.2 301.4,669.4 302.9,620.2 304.2,675.2 304.8,597.4 306.0,664.2 306.9,601.9 307.9,662.8 308.8,600.3 310.3,668.4 311.6,601.3 312.8,673.1 313.3,605.0 314.1,662.7 315.1,600.1 315.9,659.8 316.8,610.7 317.6,659.8 318.7,599.2 319.2,665.2 320.5,598.7 322.0,663.3 324.0,590.9 325.1,664.1 326.1,585.2 326.8,661.7 328.0,589.9 329.8,664.1 330.8,598.9 331.5,665.3 333.0,597.1 334.3,663.7 335.5,567.2 337.1,660.9 337.8,578.6 339.3,669.1 340.2,590.7 341.6,665.6 342.6,585.5 344.2,652.9 345.0,598.9 346.4,659.7 347.0,588.2 348.1,664.1 348.6,592.3 349.4,664.2 350.6,590.8 351.8,667.5 352.7,584.6 353.8,661.0 354.5,599.0 355.2,657.1 356.2,595.0 357.3,659.8 358.8,587.9 360.2,658.6 362.1,559.5 363.2,659.0 363.8,582.0 364.6,661.5 365.9,580.4 366.6,661.3 367.8,576.5 368.4,662.4 369.6,594.2 370.7,661.9 371.6,583.0 372.3,662.2 373.2,588.0 374.0,662.1 375.2,591.1 377.0,661.8 377.8,586.3 378.8,661.1 379.9,584.9 382.0,659.3 383.3,583.5 384.9,658.0 386.7,577.0 388.1,660.3 389.2,570.9 391.2,659.9 392.6,582.1 393.6,658.4 395.5,581.8 396.5,677.0 397.5,578.2 399.0,664.0 400.9,585.4 401.9,661.2 402.6,598.6 403.4,662.0 404.0,574.0 405.0,658.8 405.9,574.3 407.4,661.7 408.4,571.2 410.4,661.8 412.2,585.4 413.3,657.8 414.4,586.2 416.2,662.0 416.7,581.4 417.8,659.2 418.8,582.5 419.6,657.9 420.6,602.0 421.0,656.9 422.3,576.4 423.1,658.5 424.0,588.9 425.4,660.5 427.0,584.9 428.1,661.7 429.2,573.2 429.9,661.7 430.7,586.0 431.9,659.3 433.5,579.3 434.9,658.6 436.2,581.3 437.2,660.1 439.1,592.8 440.2,659.9 441.4,583.3 442.1,662.7 442.6,584.8 443.3,660.0 444.2,599.4 445.8,662.1 446.5,587.8 447.0,661.1 448.5,584.4 450.1,660.1 451.6,579.4 452.8,660.6 454.3,574.7 455.3,660.5 456.6,599.1 457.9,659.3 459.2,585.2 460.2,659.8 461.1,585.3 462.0,659.6 462.6,581.3 463.3,660.8 464.9,592.4 466.3,663.2 466.8,589.8 467.5,663.4 468.9,584.5 470.2,661.1 470.8,589.1 471.5,661.8 472.3,588.1 472.9,660.2 473.8,577.4" fill="none" stroke="#800080" stroke-opacity="0.22" stroke-width="0.8"/>
<polyline points="288.5,662.0 289.7,615.6 291.2,668.7 291.9,618.6 292.5,662.8 294.0,615.3 294.9,663.4 296.3,614.8 297.5,658.0 298.9,617.1 299.9,658.8 300.4,613.1 301.1,669.7 301.9,621.9 302.5,663.6 303.3,619.0 304.9,663.1 305.8,611.5 306.8,657.3 308.5,621.4 309.9,666.8 311.2,614.7 313.0,666.0 314.1,615.6 315.7,667.1 316.5,612.9 317.3,664.2 318.3,611.9 319.0,656.7 319.8,620.8 320.2,659.6 321.6,611.7 322.8,661.8 323.8,623.0 325.3,663.8 326.5,619.5 328.0,664.0 328.5,614.8 329.6,662.7 330.9,619.1 331.7,661.8 332.4,606.2 333.3,660.6 335.0,609.6 336.5,662.1 338.0,608.3 339.4,659.8 340.9,610.0 342.4,662.3 342.9,601.1 343.7,660.6 345.2,605.7 346.5,661.1 347.8,599.2 348.5,659.3 350.3,594.4 351.2,657.6 351.7,595.6 352.7,658.7 353.7,590.1 354.4,660.7 355.9,597.1 357.2,662.4 358.8,601.6 359.6,659.4 361.1,594.2 362.3,657.9 363.9,595.6 365.4,658.7 366.1,596.9 367.2,656.4 369.4,583.6 370.3,659.9 371.5,596.3 372.4,659.3 373.2,591.5 374.6,657.6 375.7,596.8 376.5,655.2 377.4,597.0 378.6,655.2 380.3,600.0 381.7,659.2 383.2,598.9 384.4,659.7 385.6,593.3 386.5,656.2 387.3,583.2 388.0,659.0 388.7,595.4 390.1,660.1 391.2,590.1 391.9,658.9 393.4,589.2 394.9,660.6 396.2,585.5 396.9,658.9 398.6,602.9 399.3,658.7 400.4,596.1 401.6,658.4 402.5,597.6 403.9,659.2 405.2,592.9 406.7,660.8 407.3,598.2 408.0,660.2 409.0,602.1 410.2,660.1 411.7,594.1 412.3,657.1 414.2,597.4 415.2,658.0 416.1,596.5 418.1,658.0 419.4,586.4 420.8,657.7 422.5,587.1 423.4,658.1 424.2,584.2 424.9,659.7 426.5,601.7 427.8,655.9 428.5,592.5 429.5,658.6 430.2,583.7 431.0,657.3 432.1,597.1 432.7,657.5 434.0,591.5 435.1,658.8 436.0,588.8 436.8,660.8 438.2,596.5 439.0,656.5 440.3,595.3 441.4,660.6 443.1,596.8 443.9,659.7 444.8,595.9 446.5,656.7 448.1,595.6 448.8,659.3 450.2,604.5 451.6,660.8 452.7,590.1 454.7,659.3 456.7,583.0 457.8,657.0 459.3,592.3 460.4,660.0 460.9,601.6 462.0,659.9 462.9,588.1 463.4,659.4 464.7,589.4 466.4,658.7 467.6,595.5 468.5,661.9 469.2,593.7 470.0,657.9 470.6,588.2 471.3,657.6 472.6,605.2 473.9,658.9 474.8,588.2" fill="none" stroke="#800080" stroke-opacity="0.6" stroke-width="0.8"/>
<polyline points="288.5,655.7 289.1,633.2 290.2,654.1 291.2,632.5 291.8,653.1 292.3,632.2 293.3,652.9 294.4,631.7 296.1,653.1 297.4,631.9 298.3,653.6 299.8,634.0 300.5,653.3 301.9,628.3 302.6,653.4 304.0,629.1 304.8,653.9 305.7,630.0 306.5,654.6 307.7,631.9 308.6,652.7 310.2,628.2 311.3,652.5 312.3,629.6 313.4,653.3 314.5,628.4 314.9,653.1 316.6,626.7 317.6,655.3 318.2,631.7 319.1,657.0 320.7,630.8 322.2,652.7 322.7,630.5 323.8,656.0 325.6,628.0 326.6,655.3 327.5,624.0 327.9,656.1 328.7,626.0 329.7,654.8 330.5,621.3 331.2,654.4 332.0,621.0 333.0,658.4 333.5,624.0 334.3,657.2 335.4,625.1 336.5,652.1 337.5,621.7 338.3,655.2 339.0,623.8 340.7,654.3 341.2,618.9 342.5,656.9 343.9,617.1 344.7,656.5 345.5,615.2 345.9,657.8 346.6,612.1 348.0,655.8 349.9,610.6 350.8,654.3 351.8,605.8 353.1,654.7 353.8,611.6 355.3,656.6 357.0,617.8 358.1,655.4 359.6,608.6 360.8,653.8 362.1,605.0 363.5,657.5 365.1,602.6 366.4,656.1 367.0,605.3 368.1,656.7 369.1,609.2 371.0,659.0 372.1,599.4 373.1,659.9 374.2,601.8 375.6,656.7 376.9,605.7 378.6,658.5 379.5,603.5 380.6,657.0 381.5,604.3 382.6,658.3 383.4,607.6 384.0,655.0 385.3,602.2 387.0,657.4 388.1,602.0 389.5,658.6 391.3,608.0 392.3,659.0 393.6,603.2 394.5,656.6 395.7,602.9 396.2,657.0 397.2,602.3 399.0,659.3 400.2,597.8 400.9,656.3 402.6,595.9 403.6,656.0 404.4,596.4 405.3,655.2 406.4,600.6 407.1,656.7 408.6,607.6 410.3,656.0 412.0,599.9 413.1,656.4 413.9,596.7 415.4,659.0 416.5,593.8 417.1,656.1 418.0,596.0 419.2,657.0 420.6,597.4 422.4,656.6 423.4,588.4 425.1,655.0 426.4,601.0 427.7,657.1 429.1,597.1 430.0,657.2 430.6,601.2 431.3,658.3 432.1,597.6 433.7,657.2 434.7,602.4 436.1,656.2 436.8,604.9 437.5,657.3 438.6,612.8 439.6,657.2 440.7,595.4 441.5,658.5 442.1,604.5 442.8,657.8 444.2,597.8 445.3,657.5 445.9,598.3 447.1,656.8 448.8,598.5 450.3,655.2 452.1,599.1 453.0,656.6 454.8,600.1 455.7,655.1 457.2,608.5 458.7,658.9 460.2,596.6 461.5,656.7 462.7,599.8 463.9,658.1 465.3,600.6 465.8,653.9 466.9,601.0 468.3,658.8 469.8,596.7 470.7,657.0 471.7,597.3 472.7,658.2 474.1,604.5" fill="none" stroke="#800080" stroke-opacity="0.9" stroke-width="0.8"/>
<polyline points="288.7,651.8 290.0,635.3 291.3,651.9 292.8,634.7 293.4,650.0 294.8,633.7 296.3,654.0 297.5,631.4 299.2,652.7 300.8,632.6 302.0,654.1 302.6,630.0 303.5,651.2 304.7,630.0 305.4,653.9 307.3,633.4 308.6,653.7 310.3,633.6 311.7,652.6 313.2,632.9 314.5,649.5 314.9,628.5 315.8,652.6 317.0,629.5 317.7,655.4 318.5,627.3 319.9,651.5 321.0,630.2 323.0,655.8 324.5,630.6 325.3,653.4 326.8,628.2 327.8,652.3 329.0,630.6 329.6,653.2 330.0,631.4 330.9,652.8 332.0,629.9 332.7,657.2 333.8,628.1 334.7,651.8 335.3,628.4 336.1,652.0 336.7,629.2 337.6,654.5 338.7,628.5 339.8,653.3 341.0,627.0 342.9,653.3 344.1,626.8 345.4,654.8 347.0,629.3 348.1,652.5 348.8,626.0 350.4,654.3 351.2,627.4 352.9,654.7 354.7,620.7 356.0,651.9 356.6,620.9 357.4,654.2 358.4,623.8 359.3,648.5 360.5,616.8 361.1,655.6 362.2,623.7 363.1,655.4 363.9,615.9 365.6,654.1 367.0,625.0 368.0,656.1 369.0,618.9 370.8,656.1 371.4,616.7 372.1,652.0 374.0,614.0" fill="none" stroke="#800080" stroke-opacity="0.9" stroke-width="0.8"/>
</g>
<path d="M287.5,545.5H472.5" fill="none" stroke="#c8c8c8" stroke-width="1"/>
<path d="M472.5,545.5V687.5" fill="none" stroke="#cccccc" stroke-width="1"/>
<path d="M287.5,687.5H472.5" fill="none" stroke="#bbbbbb" stroke-width="1"/>
<path d="M287.5,545.5V687.5" fill="none" stroke="#a8a8a8" stroke-width="1"/>
<text x="287.9" y="705.5" font-size="10.5" text-anchor="middle" >2015</text>
<text x="331.85" y="705.5" font-size="10.5" text-anchor="middle" >2035</text>
<text x="375.8" y="705.5" font-size="10.5" text-anchor="middle" >2055</text>
<text x="419.75" y="705.5" font-size="10.5" text-anchor="middle" >2075</text>
<text x="463.7" y="705.5" font-size="10.5" text-anchor="middle" >2095</text>
<text x="282.5" y="557" font-size="9.6" text-anchor="end" transform="translate(282.5,0) scale(0.95,1) translate(-282.5,0)">0.0015</text>
<text x="282.5" y="598.53" font-size="9.6" text-anchor="end" transform="translate(282.5,0) scale(0.95,1) translate(-282.5,0)">0.0010</text>
<text x="282.5" y="640.07" font-size="9.6" text-anchor="end" transform="translate(282.5,0) scale(0.95,1) translate(-282.5,0)">0.0005</text>
<text x="282.5" y="681.6" font-size="9.6" text-anchor="end" transform="translate(282.5,0) scale(0.95,1) translate(-282.5,0)">0.0000</text>
<path d="M287.5,687.5v2.5 M309.48,687.5v1.5 M331.45,687.5v2.5 M353.43,687.5v1.5 M375.4,687.5v2.5 M397.38,687.5v1.5 M419.35,687.5v2.5 M441.33,687.5v1.5 M463.3,687.5v2.5 M287.5,554.1h-2.5 M287.5,595.63h-2.5 M287.5,637.17h-2.5 M287.5,678.7h-2.5 M287.5,574.87h-1.5 M287.5,616.4h-1.5 M287.5,657.93h-1.5" fill="none" stroke="#777" stroke-width="0.8"/>
<text x="295.6" y="569.5" font-size="18.2">Pb</text>
<clipPath id="c11"><rect x="498.5" y="545.5" width="186.5" height="142"/></clipPath>
<g clip-path="url(#c11)">
<polyline points="498.6,657.2 499.9,617.0 501.4,655.1 502.8,616.6 504.2,659.3 505.5,615.2 507.1,652.3 508.3,610.9 509.4,656.7 510.6,615.7 512.3,658.1 514.0,578.6 515.3,651.6 516.3,608.6 517.2,657.2 517.9,613.9 518.5,652.8 519.3,614.7 520.8,654.5 521.7,619.8 522.1,655.7 523.0,613.7 524.6,656.5 525.0,611.1 525.9,661.3 528.0,601.9 529.0,657.1 530.8,608.1 532.1,661.7 532.6,605.7 533.5,656.2 534.4,606.2 535.2,656.4 536.2,606.6 536.7,665.5 537.4,612.9 538.4,650.0 539.1,608.5 540.5,653.2 542.4,602.5 543.5,656.0 544.5,598.8 546.2,653.5 547.0,593.9 547.8,653.2 548.6,595.0 549.3,657.0 550.3,586.6 551.0,649.5 552.3,588.8 553.7,657.0 554.7,596.9 555.8,658.5 557.2,582.7 558.2,653.9 559.8,597.2 560.7,653.7 562.4,587.3 563.3,655.7 564.6,579.4 565.9,644.4 566.8,582.7 567.8,648.7 569.0,582.5 569.7,659.8 570.5,584.3 571.4,636.2 572.1,597.8 573.6,639.0 574.7,575.0 575.2,658.5 576.6,590.6 577.4,647.4 578.2,578.5 579.6,657.9 580.5,577.2 581.1,648.1 582.3,585.5 583.2,645.7 584.2,571.1 585.0,641.6 586.5,576.3 587.2,650.2 589.0,581.0 590.1,643.0 590.8,574.5 592.1,654.8 593.1,580.4 594.6,654.6 595.4,578.0 595.9,664.3 596.9,584.9 597.7,662.6 598.8,575.6 599.7,661.4 600.4,571.8 601.3,660.0 601.9,519.4 602.5,656.1 603.3,577.7 604.0,641.1 605.0,578.2 605.6,652.1 606.3,571.7 606.9,650.9 607.8,574.8 608.5,658.6 609.7,593.8 610.4,647.0 611.3,580.6 613.0,654.2 614.3,579.9 616.1,647.5 616.8,581.9 617.9,646.1 618.5,580.5 619.3,655.1 621.4,583.3 622.4,649.8 623.5,585.3 625.1,655.0 626.6,580.2 627.8,653.1 628.9,585.7 629.5,659.6 630.3,575.5 630.8,648.3 631.7,575.2 632.6,653.9 633.9,594.4 635.1,641.2 635.9,514.9 636.4,635.8 637.4,561.9 638.1,650.1 639.1,564.2 640.2,651.2 641.1,573.1 642.8,658.9 643.7,574.3 644.9,644.2 645.6,562.3 646.4,646.7 647.6,578.6 648.5,653.2 649.8,567.3 651.6,662.4 652.9,515.6 654.6,666.5 655.9,579.3 656.5,653.4 657.4,582.7 658.5,657.3 659.1,581.6 660.3,651.8 661.5,583.7 663.4,651.9 664.1,528.2 664.8,657.3 666.3,574.1 667.3,649.4 669.1,583.2 670.1,648.7 671.6,589.5 672.8,662.1 674.1,570.8 674.7,649.9 675.8,582.8 676.8,644.9 677.4,564.4 678.2,646.7 679.5,589.0 680.8,648.8 681.3,570.7 682.5,646.6 683.3,579.7 684.8,666.5 686.1,573.1" fill="none" stroke="#800080" stroke-opacity="0.22" stroke-width="0.8"/>
<polyline points="499.9,650.5 501.2,628.2 502.8,651.2 504.1,630.1 505.7,648.5 506.4,629.1 507.2,650.3 508.5,628.8 509.5,650.5 510.8,625.4 512.0,649.9 512.9,626.4 513.5,650.5 514.0,626.0 514.9,651.3 516.0,623.2 517.1,650.3 518.9,622.9 519.7,651.1 520.5,624.5 521.5,651.0 522.5,622.8 523.3,650.4 524.2,621.1 525.1,649.9 526.0,617.0 527.1,651.3 527.7,623.6 528.8,650.4 530.1,623.3 531.6,651.4 533.3,619.7 534.4,651.1 535.4,620.4 537.2,650.3 538.4,616.8 540.0,651.6 540.5,622.6 541.3,650.6 542.5,618.4 544.4,649.9 545.0,608.7 545.8,651.2 547.0,623.2 548.2,649.1 549.3,607.9 550.8,649.4 551.5,598.5 552.4,648.7 552.8,611.6 553.6,648.2 554.7,610.5 555.6,647.0 556.3,604.8 556.8,652.9 558.2,611.1 560.0,648.8 560.6,601.8 561.8,648.6 562.5,598.1 563.7,648.7 564.3,586.4 565.5,648.0 567.3,590.9 568.2,650.0 569.9,589.3 571.3,651.1 572.9,596.1 573.6,646.6 574.7,593.4 576.0,648.0 576.5,584.1 577.4,647.1 578.3,580.5 580.3,648.4 581.2,593.9 582.5,646.5 584.0,581.1 585.4,645.4 586.3,583.9 586.8,643.4 588.2,591.8 589.3,648.7 589.9,584.1 591.2,646.5 592.7,589.9 594.0,648.0 595.1,589.5 596.8,645.2 597.9,590.4 598.7,648.2 600.2,586.6 601.0,645.2 602.6,592.6 603.9,647.1 605.3,579.3 606.0,646.7 606.9,586.2 608.7,646.2 609.2,586.0 610.1,649.4 611.3,585.2 612.7,646.1 613.4,587.9 614.4,652.0 615.3,589.5 616.1,648.8 617.6,597.8 619.1,646.2 620.6,579.0 621.6,649.4 622.3,586.3 622.9,649.6 624.0,590.9 625.6,645.0 626.8,585.5 627.9,649.5 628.6,592.9 630.1,648.0 630.8,571.2 631.5,650.5 633.1,579.6 634.1,649.2 635.8,583.2 636.8,646.8 637.8,579.7 639.1,647.1 640.8,589.5 642.3,649.0 643.0,581.5 643.6,647.7 644.6,585.5 646.3,646.4 647.5,588.8 648.3,648.4 650.3,583.6 651.4,650.7 652.2,592.5 653.9,650.9 654.7,573.3 655.3,649.7 656.3,579.6 657.7,646.4 658.8,583.6 660.3,647.7 660.9,597.4 662.5,647.5 663.4,594.2 664.6,648.4 666.6,592.6 667.5,648.9 668.3,587.8 668.8,649.8 670.1,587.1 671.8,649.3 672.7,587.0 674.1,646.4 675.0,593.9 676.1,647.2 677.5,590.8 678.3,642.6 679.6,582.2 681.4,648.2 682.9,593.3 684.4,648.8 685.1,592.9 686.6,650.1 687.3,581.2" fill="none" stroke="#800080" stroke-opacity="0.6" stroke-width="0.8"/>
<polyline points="498.8,646.9 500.4,632.8 501.9,646.8 502.6,635.3 503.7,647.0 504.5,635.1 505.1,647.5 506.1,634.1 506.8,646.9 508.1,632.7 509.7,647.2 510.9,634.3 511.9,646.7 512.5,635.3 513.3,646.8 514.4,633.6 515.8,647.7 517.0,631.6 517.7,647.1 518.9,631.4 519.9,646.6 521.3,634.0 522.4,647.3 522.9,629.7 523.8,647.0 525.3,633.4 526.4,646.6 527.0,631.0 528.0,647.4 529.3,631.2 529.9,646.0 530.4,628.5 531.2,646.3 532.2,633.9 533.4,646.3 534.8,631.8 535.8,647.1 536.9,632.8 537.8,645.4 539.5,629.1 540.7,648.3 541.6,628.6 542.7,646.7 543.8,628.5 544.7,646.6 546.2,631.9 547.7,644.5 548.8,629.6 550.6,645.0 551.4,627.5 553.1,645.0 554.3,623.0 554.9,644.9 556.0,624.2 556.7,645.1 557.3,625.5 558.2,645.3 559.2,625.4 560.9,645.6 562.3,626.0 563.1,645.8 564.4,614.3 565.4,645.5 566.4,623.1 567.6,645.7 568.8,622.1 569.4,644.4 570.7,616.8 572.3,643.6 572.9,622.2 574.0,645.2 575.1,611.6 577.0,645.2 577.7,614.8 579.1,646.3 580.0,623.1 581.8,645.3 582.8,617.9 583.2,646.5 584.3,615.6 586.0,645.0 587.6,611.3 588.8,642.8 590.2,606.4 592.0,645.3 593.0,614.3 594.0,644.6 595.5,609.1 596.1,645.0 597.5,619.9 599.0,646.1 599.5,617.8 600.2,644.6 600.8,616.1 601.5,645.6 602.7,609.5 604.5,645.7 606.4,604.6 607.5,646.3 608.4,617.3 609.1,644.6 610.9,613.7 611.9,645.1 613.8,617.6 614.7,643.7 615.6,613.5 617.6,645.8 618.9,610.7 619.5,643.4 620.4,621.8 622.0,645.0 622.6,611.8 624.0,644.6 624.6,605.8 625.3,645.2 626.1,613.6 626.5,645.2 628.6,614.7 629.5,644.6 630.5,615.9 632.4,645.2 633.5,617.0 634.1,644.8 635.2,616.6 637.0,643.4 638.3,620.3 639.6,645.2 640.2,615.0 641.2,645.0 641.8,609.1 642.8,643.4 643.5,611.4 644.4,644.0 645.5,608.5 646.5,644.7 647.5,614.6 649.1,645.3 651.2,613.5 652.2,643.4 654.1,609.9 655.3,644.0 655.9,605.1 657.0,641.9 657.7,604.6 658.5,643.5 659.3,608.1 660.9,643.5 662.4,613.9 663.2,646.0 664.6,606.9 665.9,646.1 666.6,614.1 667.5,645.6 668.1,614.4 668.9,645.1 669.5,603.6 670.7,645.2 672.3,616.4 673.9,644.7 674.7,611.9 675.4,644.7 676.0,618.3 676.8,644.2 678.4,610.0 679.8,644.7 680.4,607.6 681.1,645.3 682.3,609.2 683.6,644.8 684.2,614.4 684.9,644.6 686.6,599.5" fill="none" stroke="#800080" stroke-opacity="0.9" stroke-width="0.8"/>
<polyline points="500.6,648.9 501.5,634.8 502.7,647.3 503.3,633.6 504.5,646.6 506.1,633.0 507.0,647.1 508.1,633.2 509.2,646.4 509.8,633.1 511.2,646.6 512.0,633.8 513.1,647.9 514.0,635.8 515.6,647.1 516.4,632.5 517.5,647.2 518.4,633.5 519.3,646.7 520.3,633.4 520.7,647.4 521.8,634.3 523.6,646.6 524.7,634.4 526.5,647.6 527.4,632.1 528.2,646.9 529.0,631.8 530.1,646.1 530.7,632.1 531.4,645.4 531.9,632.1 533.0,646.8 534.2,631.5 535.1,646.4 536.5,632.3 538.1,646.8 538.9,633.2 540.1,645.4 541.2,631.1 542.2,645.9 543.3,630.9 544.6,646.4 545.7,630.8 546.4,646.0 547.4,629.4 548.1,646.9 549.7,628.7 550.8,644.2 551.8,631.1 553.8,646.7 555.0,630.2 555.8,646.6 557.2,628.8 558.6,646.8 559.3,628.7 560.0,644.5 561.4,626.8 563.0,646.7 563.8,627.3 565.0,645.8 565.5,626.2 566.5,647.5 567.1,627.0 568.2,645.4 569.4,626.1 570.5,645.6 571.6,626.3 572.8,646.4 573.8,623.4 574.5,647.6 576.0,623.8" fill="none" stroke="#800080" stroke-opacity="0.9" stroke-width="0.8"/>
<polyline points="556.2,635.2 557.2,615.9 558.1,648.9 558.8,613.7 560.3,648.7 561.2,610.1 561.8,631.8 562.5,610.7 563.8,645.1 565.2,609.5 566.7,646.2 567.7,607.8 569.6,636.5 570.2,605.5 571.4,638.8 571.9,612.9 572.8,637.3 573.9,603.8 575.8,649.7 576.8,605.3 577.4,642.1 579.3,608.8 580.2,643.6 581.6,603.4 583.1,638.5 583.8,620.9 584.8,641.5 586.2,607.1 587.8,640.7 588.2,612.4 589.2,645.8 590.1,599.8 591.0,650.3 592.2,601.8 594.1,633.1 595.2,606.5 596.1,629.8 597.1,609.0 599.1,643.4 600.0,597.3 601.5,657.6 602.6,591.5 603.4,630.8 604.2,606.7 604.8,636.8 605.6,607.7 606.5,648.5 608.2,607.8 609.2,644.5 610.2,605.2 611.6,635.4 612.7,594.8 613.3,643.9 614.6,603.3 615.7,637.1 617.2,604.6 618.2,629.8 619.3,607.4 620.7,635.8 622.1,603.3 623.5,629.6 624.3,595.9 626.0,644.6 627.1,602.3 629.1,642.0 630.4,600.6 631.8,652.3 633.0,599.8 634.9,642.7 635.9,598.5 637.5,637.8 638.6,609.1 640.1,646.4 641.4,591.3 642.0,643.6 643.1,609.4 643.9,632.1 644.8,604.9 645.8,653.2 647.0,591.9 647.7,631.4 648.7,602.9 649.7,645.7 650.7,597.2 652.0,643.3 652.8,608.0 654.4,644.8 655.6,605.7 657.0,641.4 657.9,605.0 658.9,632.8 660.7,601.4 661.8,643.5 663.8,592.5 664.9,643.3 666.0,605.9 667.9,647.1 668.8,586.5 669.9,638.4 670.8,606.0 672.2,642.4 673.6,603.6 674.2,640.9 675.1,597.8 675.9,640.1 676.6,607.1 678.0,646.5 678.6,598.1 679.4,643.0 680.5,601.5 682.0,639.4 683.5,605.8 684.3,640.2 686.4,591.5" fill="none" stroke="#800080" stroke-opacity="0.85" stroke-width="0.8"/>
</g>
<path d="M498.5,545.5H684.5" fill="none" stroke="#c8c8c8" stroke-width="1"/>
<path d="M684.5,545.5V687.5" fill="none" stroke="#bbbbbb" stroke-width="1"/>
<path d="M498.5,687.5H684.5" fill="none" stroke="#bbbbbb" stroke-width="1"/>
<path d="M498.5,545.5V687.5" fill="none" stroke="#606060" stroke-width="1"/>
<text x="498.9" y="705.5" font-size="10.5" text-anchor="middle" >2015</text>
<text x="542.85" y="705.5" font-size="10.5" text-anchor="middle" >2035</text>
<text x="586.8" y="705.5" font-size="10.5" text-anchor="middle" >2055</text>
<text x="630.75" y="705.5" font-size="10.5" text-anchor="middle" >2075</text>
<text x="674.7" y="705.5" font-size="10.5" text-anchor="middle" >2095</text>
<text x="493.5" y="583.9" font-size="9.6" text-anchor="end" transform="translate(493.5,0) scale(0.95,1) translate(-493.5,0)">0.010</text>
<text x="493.5" y="628.05" font-size="9.6" text-anchor="end" transform="translate(493.5,0) scale(0.95,1) translate(-493.5,0)">0.005</text>
<text x="493.5" y="672.2" font-size="9.6" text-anchor="end" transform="translate(493.5,0) scale(0.95,1) translate(-493.5,0)">0.000</text>
<path d="M498.5,687.5v2.5 M520.48,687.5v1.5 M542.45,687.5v2.5 M564.43,687.5v1.5 M586.4,687.5v2.5 M608.38,687.5v1.5 M630.35,687.5v2.5 M652.33,687.5v1.5 M674.3,687.5v2.5 M498.5,581h-2.5 M498.5,625.15h-2.5 M498.5,669.3h-2.5 M498.5,558.92h-1.5 M498.5,603.08h-1.5 M498.5,647.22h-1.5" fill="none" stroke="#777" stroke-width="0.8"/>
<text x="507.5" y="570" font-size="18.2">Cu</text>
<clipPath id="c12"><rect x="66.8" y="718.5" width="186.2" height="142"/></clipPath>
<g clip-path="url(#c12)">
<polyline points="67.3,838.9 68.9,774.2 69.6,827.1 70.9,782.6 72.1,818.8 73.0,781.0 75.0,828.3 76.0,762.9 77.4,853.0 78.7,756.2 80.1,842.8 81.9,752.8 82.9,844.2 83.6,750.1 85.0,830.5 86.0,760.2 86.5,835.2 87.3,756.3 87.9,852.5 90.0,764.2 91.1,840.9 93.0,755.1 94.1,833.8 95.3,745.8 96.4,838.0 97.4,761.2 98.8,831.5 100.5,741.2 101.2,836.5 102.0,760.0 102.7,823.1 103.6,755.4 105.8,840.7 107.3,747.9 108.0,815.1 108.6,743.4 110.1,834.6 111.4,739.3 112.8,833.3 114.3,734.9 115.3,828.4 116.1,748.3 117.7,812.1 118.5,728.2 119.0,821.8 119.9,741.0 121.7,824.0 122.7,736.4 124.5,827.8 125.2,736.3 126.9,828.6 127.6,743.4 128.3,835.0 129.3,750.5 131.0,827.6 132.0,732.0 133.2,800.2 134.2,733.5 134.6,811.6 135.9,731.9 137.1,818.7 139.0,760.5 139.8,815.5 140.9,720.1 142.6,810.3 144.0,738.6 144.8,814.0 145.5,721.9 146.1,819.4 147.4,738.2 148.3,806.3 148.9,729.0 150.2,815.4 150.9,747.2 151.5,808.0 152.5,731.6 153.1,810.1 154.5,743.2 155.2,818.6 156.0,726.1 156.8,819.1 157.7,745.8 158.6,808.4 160.1,751.7 161.2,795.9 161.9,738.9 163.3,795.3 163.9,739.2 164.6,807.6 166.6,736.4 167.4,808.6 168.5,742.7 169.9,804.8 170.9,741.1 171.5,808.0 172.3,739.0 173.0,809.6 173.9,735.1 174.6,788.4 176.6,739.6 177.6,800.0 178.2,741.9 179.1,803.0 179.7,742.9 181.1,791.9 182.1,743.8 183.6,782.1 184.7,739.7 186.1,792.0 187.0,730.8 188.3,790.9 189.4,742.2 189.9,782.1 191.1,738.1 192.6,765.6 193.5,738.2 194.9,766.3 195.7,736.6 196.8,768.7 198.2,742.6 199.0,765.7 201.0,739.6 202.1,764.8 202.6,740.2 203.6,769.8 205.4,739.6 206.3,767.5 207.1,742.7 207.8,769.2 208.6,739.8 209.4,767.3 210.4,739.0 211.0,767.0 211.6,740.5 212.2,772.9 213.6,738.6 214.6,766.1 215.8,740.8 216.3,767.2 216.9,738.0 217.5,763.1 218.8,738.9 219.5,767.4 221.5,740.6 222.5,770.7 223.7,739.9 224.3,768.7 225.2,742.1 225.6,771.7 226.4,741.2 228.3,764.7 229.0,741.4 229.7,765.8 230.5,738.5 231.0,765.5 232.5,738.2 233.4,767.9 234.4,733.7 235.6,764.7 236.1,739.5 237.2,770.1 239.1,745.0 240.2,766.7 241.2,739.7 242.3,764.0 243.4,737.6 244.1,765.7 245.5,741.2 247.1,764.5 248.0,736.4 249.1,767.2 250.1,739.8 252.1,766.1 252.8,742.0 253.4,769.4 254.5,741.6" fill="none" stroke="#800080" stroke-opacity="0.22" stroke-width="0.8"/>
<polyline points="67.6,821.8 68.9,780.7 70.1,821.7 70.6,779.9 71.4,822.9 72.8,778.0 74.0,814.5 75.8,788.3 76.9,821.9 78.1,771.9 79.4,818.6 80.4,770.7 81.9,825.3 82.8,765.8 83.6,822.4 84.6,774.0 85.6,821.8 86.4,767.9 87.3,827.2 87.7,768.1 88.6,823.4 89.6,773.2 90.9,818.2 91.5,759.9 92.4,817.4 93.9,758.4 95.4,810.7 96.8,761.4 97.7,810.8 99.3,754.5 100.0,812.5 100.9,755.8 101.7,814.8 102.3,763.0 103.4,816.9 105.1,756.2 106.3,815.1 107.1,752.0 109.0,811.5 109.9,757.4 110.8,811.7 112.4,738.3 113.9,810.4 114.3,745.5 115.1,811.5 116.1,743.9 117.3,811.4 118.9,752.8 120.3,814.3 121.3,739.7 122.4,811.9 122.8,738.6 123.8,809.3 124.9,747.6 126.1,801.8 127.1,742.6 128.3,811.6 129.0,728.9 130.4,803.7 131.1,746.6 132.3,805.3 133.3,742.4 135.1,810.0 137.1,740.6 138.1,805.9 139.6,756.0 140.6,807.8 141.3,742.1 142.7,801.7 143.7,728.2 144.8,805.6 146.7,749.3 147.9,800.3 149.2,748.5 150.3,804.1 151.3,740.5 151.8,799.6 152.5,727.9 153.9,799.6 154.9,744.9 156.1,808.4 157.9,738.6 159.2,791.5 160.0,735.7 160.9,799.3 162.3,741.7 163.8,793.7 164.8,744.8 165.5,792.0 166.3,742.0 167.5,794.4 169.1,748.2 169.9,788.0 171.8,738.9 173.1,788.4 174.6,748.4 176.1,785.7 177.2,742.0 177.9,780.5 178.9,741.6 179.6,776.7 181.1,738.6 181.8,769.5 182.9,744.1 183.9,765.7 184.5,741.0 185.6,765.6 186.5,741.2 188.4,768.5 190.0,743.0 191.5,769.5 193.0,744.1 194.4,763.0 195.3,743.3 196.4,768.6 197.1,743.7 197.9,767.7 198.8,742.1 200.3,766.0 201.8,745.5 202.5,765.6 203.2,744.9 204.0,770.0 205.2,739.7 206.9,766.3 207.7,746.6 208.7,764.3 209.5,742.5 211.3,766.5 212.7,742.2 214.0,765.8 215.8,745.6 216.7,768.2 217.4,743.7 218.8,765.1 220.0,741.3 221.6,766.2 223.1,744.2 224.5,768.7 225.3,743.4 225.9,765.8 226.8,746.4 227.4,766.0 228.9,742.4 230.0,764.5 230.7,744.0 231.9,766.3 233.0,743.8 233.9,769.4 235.2,741.5 236.2,768.2 237.8,744.0 238.6,769.2 239.7,743.3 240.5,771.6 241.7,744.4 243.3,765.3 244.0,743.8 244.8,766.7 245.6,744.5 246.2,768.5 246.9,745.2 248.0,767.2 249.0,743.9 250.6,764.2 251.9,746.8 252.5,767.4 253.2,746.9 253.8,767.5 255.1,743.8" fill="none" stroke="#800080" stroke-opacity="0.55" stroke-width="0.8"/>
<polyline points="68.0,811.5 69.1,796.6 69.6,812.1 70.5,799.1 71.3,807.9 71.9,797.8 72.5,812.8 74.0,796.8 75.1,812.0 76.9,795.5 78.0,812.3 79.3,794.1 80.5,810.9 81.6,795.7 82.3,807.6 83.7,792.6 84.5,808.0 85.8,793.3 87.2,807.7 88.5,791.0 89.4,808.1 90.6,790.6 92.2,805.6 92.6,785.6 93.6,806.6 94.5,785.8 96.0,802.9 96.8,782.1 97.9,807.6 98.5,778.9 99.4,800.4 100.6,781.1 101.3,805.8 102.0,775.1 102.6,805.7 103.3,777.6 104.4,801.3 105.6,772.7 107.0,800.5 107.7,770.7 108.8,801.6 109.3,768.6 110.3,798.0 111.2,770.1 112.8,794.9 114.2,765.2 115.8,792.4 117.0,768.0 118.2,795.3 119.0,767.1 120.4,793.0 122.0,762.9 123.1,791.4 123.5,758.8 124.4,792.8 125.3,758.8 127.3,790.6 128.5,757.6 129.9,790.2 131.1,754.2 131.9,789.3 132.5,756.4 133.3,789.5 134.0,758.6 134.5,783.9 136.0,753.8 137.6,785.1 138.6,754.0 139.2,783.8 140.3,750.0 142.4,782.0 143.4,752.3 144.7,783.7 145.4,751.2 146.7,780.7 147.8,747.0 148.5,781.9 149.5,753.6 151.0,776.2 152.6,748.5 153.9,776.2 155.0,751.0 155.5,771.7 156.3,751.4 156.8,768.8 157.8,751.3 159.7,771.5 160.8,749.3 161.2,770.8 162.4,745.9 163.3,769.9 164.8,748.8 165.8,769.3 167.2,747.3 168.7,767.3 170.2,748.7 171.6,768.0 172.1,750.8 173.1,766.5 173.8,751.1 174.6,765.7 176.3,748.6 177.1,763.9 178.0,749.2 178.7,763.7 179.9,748.8 180.5,763.1 181.8,749.2 183.0,761.6 184.6,747.4 185.8,763.1 187.3,747.8 188.4,761.5 189.8,749.9 191.5,764.6 192.6,747.3 194.2,764.7 194.9,749.3 196.3,764.2 197.3,748.5 198.1,762.9 199.9,747.1 200.7,764.7 202.1,748.4 203.2,762.5 204.0,748.2 205.7,763.9 206.9,749.9 207.4,762.8 207.9,748.7 208.7,762.3 209.6,747.1 210.7,764.9 211.9,748.7 212.8,763.5 213.4,748.4 214.4,764.1 215.2,746.5 216.6,763.3 217.4,750.0 219.0,764.1 219.9,749.2 221.4,763.8 222.6,748.0 223.5,761.6 224.5,747.3 226.0,763.7 226.6,748.4 227.5,764.0 228.3,747.1 229.3,762.0 230.0,746.4 230.9,763.5 232.6,748.4 233.9,763.1 235.0,747.6 235.6,765.2 236.8,748.7 237.5,761.5 238.7,748.8 239.2,763.4 240.0,749.3 240.5,762.7 241.5,747.6 242.2,761.5 242.8,749.0 243.6,762.6 244.4,749.4 246.1,762.8 246.9,749.6 247.7,763.6 248.7,748.4 249.2,763.4 251.1,748.8 252.0,761.3 253.6,748.6 254.6,763.7 255.6,749.1" fill="none" stroke="#800080" stroke-opacity="0.9" stroke-width="0.8"/>
<polyline points="68.4,812.2 69.9,797.2 70.7,811.7 72.4,799.0 73.7,812.4 75.3,796.1 76.6,810.1 77.6,795.5 78.1,811.2 78.7,797.2 79.5,811.0 80.1,794.0 80.8,808.4 82.0,795.9 83.5,808.8 84.3,794.0 84.8,809.7 85.6,793.7 86.5,807.6 87.4,788.3 88.7,806.6 90.0,792.6 91.6,806.5 92.3,786.6 93.0,807.9 94.9,781.8 95.8,804.2 96.8,779.9 97.5,805.4 98.9,779.7 100.4,802.8 101.2,777.4 102.3,806.9 102.8,773.3 103.5,801.4 104.0,779.6 104.8,801.2 105.7,776.3 106.4,799.8 107.4,773.5 107.9,801.3 108.8,771.0 110.1,798.0 110.8,771.1 111.3,799.5 112.9,767.6 113.8,799.8 114.5,766.8 116.0,798.6 117.2,767.0 117.7,797.1 118.3,755.2 119.2,795.0 119.8,761.1 121.1,791.3 122.1,763.5 123.2,794.8 124.9,757.4 126.3,789.5 127.1,758.7 127.9,788.8 129.4,759.0 130.8,787.2 131.8,753.4 133.8,788.5 135.1,758.7 136.1,784.9 136.8,754.3 137.3,781.7 139.2,753.3 140.1,785.5 140.9,753.6 142.1,782.4 143.5,755.8 144.8,783.7 146.0,753.2 147.1,779.3 148.0,747.8 148.4,781.8 149.5,748.7 150.6,780.1 152.7,749.3 153.7,773.6 155.0,753.2 156.6,776.8 158.2,753.9 159.2,772.3 159.8,749.1 160.9,769.5 161.9,749.4 163.3,771.0 164.9,749.6 165.9,768.6 167.1,750.8 168.6,769.3 170.0,751.1 171.0,767.8 171.8,748.9 172.9,766.4 174.1,748.2 175.2,764.0 176.0,748.4 177.7,764.6 178.7,748.6 180.0,763.3 181.4,748.2 182.7,763.8 184.4,747.9 185.4,762.2 186.3,749.7 187.2,764.6 188.7,750.1 190.0,764.0 191.5,749.4 192.9,761.4 193.9,748.2 195.8,762.9 196.9,749.0 197.5,760.9 198.3,749.0 199.2,762.7 200.3,747.8 201.2,763.7 201.9,747.7 203.0,765.4 203.7,747.6 205.3,765.0 206.2,749.2 206.6,763.6 208.1,747.6 209.3,763.8 210.9,749.1 212.4,762.1 213.6,748.2 214.6,763.0 215.9,747.9 216.4,763.5 217.8,749.7 219.1,761.9 220.3,749.0 221.9,762.0 223.4,749.2 224.7,765.3 225.4,748.5 226.5,764.7 228.1,747.9 229.5,762.7 230.6,750.2 231.2,763.0 232.8,747.8 234.3,764.2 235.3,748.4 236.5,762.8 237.8,748.7 239.5,762.5 240.3,749.6 242.1,764.2 242.8,748.0 243.6,761.9 244.8,748.3 245.4,764.0 246.1,747.3 247.6,763.8 248.5,747.2 249.4,762.8 250.1,746.8 250.8,763.2 252.3,748.1 253.7,763.5 254.3,750.2 255.1,763.4 256.0,746.8" fill="none" stroke="#800080" stroke-opacity="0.9" stroke-width="0.8"/>
</g>
<path d="M66.8,718.5H252.5" fill="none" stroke="#666666" stroke-width="1"/>
<path d="M252.5,718.5V860.5" fill="none" stroke="#6a6a6a" stroke-width="1"/>
<path d="M66.8,860.5H252.5" fill="none" stroke="#999999" stroke-width="1"/>
<path d="M66.8,718.5V860.5" fill="none" stroke="#606060" stroke-width="1"/>
<text x="67.2" y="874.5" font-size="10.5" text-anchor="middle" >2015</text>
<text x="111.15" y="874.5" font-size="10.5" text-anchor="middle" >2035</text>
<text x="155.1" y="874.5" font-size="10.5" text-anchor="middle" >2055</text>
<text x="199.05" y="874.5" font-size="10.5" text-anchor="middle" >2075</text>
<text x="243" y="874.5" font-size="10.5" text-anchor="middle" >2095</text>
<text x="61.8" y="743.8" font-size="9.6" text-anchor="end" transform="translate(61.8,0) scale(0.95,1) translate(-61.8,0)">0.015</text>
<text x="61.8" y="780.97" font-size="9.6" text-anchor="end" transform="translate(61.8,0) scale(0.95,1) translate(-61.8,0)">0.010</text>
<text x="61.8" y="818.13" font-size="9.6" text-anchor="end" transform="translate(61.8,0) scale(0.95,1) translate(-61.8,0)">0.005</text>
<text x="61.8" y="855.3" font-size="9.6" text-anchor="end" transform="translate(61.8,0) scale(0.95,1) translate(-61.8,0)">0.000</text>
<path d="M66.8,860.5v2.5 M88.78,860.5v1.5 M110.75,860.5v2.5 M132.72,860.5v1.5 M154.7,860.5v2.5 M176.67,860.5v1.5 M198.65,860.5v2.5 M220.63,860.5v1.5 M242.6,860.5v2.5 M66.8,740.9h-2.5 M66.8,778.07h-2.5 M66.8,815.23h-2.5 M66.8,852.4h-2.5 M66.8,722.32h-1.5 M66.8,759.48h-1.5 M66.8,796.65h-1.5 M66.8,833.82h-1.5" fill="none" stroke="#777" stroke-width="0.8"/>
<text x="75.15" y="741.1" font-size="18.2">Zn</text>
<clipPath id="c13"><rect x="287.5" y="718.5" width="185.5" height="142"/></clipPath>
<g clip-path="url(#c13)">
<polyline points="289.6,837.4 291.0,730.7 291.6,817.1 292.7,730.0 293.5,839.5 294.2,736.8 295.2,849.4 297.2,747.1 298.2,845.3 298.9,762.5 299.6,840.4 301.3,757.0 302.2,845.0 303.3,758.0 304.5,834.9 305.5,752.5 306.9,839.7 307.8,763.7 309.6,840.2 311.5,740.5 312.7,827.9 314.2,755.4 315.7,838.4 317.4,758.1 318.3,834.7 319.7,746.7 321.0,835.9 321.6,769.0 322.3,838.5 323.0,756.2 324.1,826.6 325.1,757.9 325.8,841.1 327.0,746.5 327.6,832.6 328.6,759.4 329.3,832.6 330.9,760.5 332.1,836.6 333.1,768.9 334.6,838.0 336.1,763.9 336.7,831.8 337.5,748.2 338.0,829.9 338.6,760.1 339.7,832.6 340.4,761.4 341.0,838.9 342.3,756.4 343.6,833.4 344.3,743.9 344.8,834.3 345.7,765.2 347.6,830.1 348.9,752.2 350.7,831.5 351.6,754.4 353.4,831.5 355.3,776.5 356.4,832.7 357.3,764.3 358.2,832.5 359.7,774.4 360.9,829.9 362.0,765.2 362.7,832.1 363.6,765.2 364.8,830.2 365.9,773.9 367.0,830.1 367.7,755.7 368.7,831.2 369.9,765.2 370.5,830.8 371.5,763.8 372.8,830.9 374.8,751.9 375.7,830.8 377.1,769.6 377.7,830.4 378.7,774.8 379.6,830.3 381.0,759.3 381.7,830.7 382.9,763.1 384.0,830.7 384.9,759.3 386.2,830.3 387.0,773.9 387.6,830.9 388.6,759.8 390.6,830.6 391.4,761.3 392.7,830.6 393.9,767.0 395.1,830.2 396.3,772.6 397.2,830.8 398.0,743.9 399.6,830.7 401.2,767.3 402.2,830.6 403.1,772.1 403.9,831.0 406.0,760.7 407.1,830.4 408.4,764.7 409.4,830.9 410.4,757.7 411.0,830.3 412.0,768.6 413.8,830.6 415.7,772.2 416.9,830.6 418.2,765.1 419.2,830.7 420.1,776.7 422.0,830.4 423.9,768.4 424.7,830.6 425.6,788.0 426.5,830.9 427.3,758.9 428.2,831.0 429.0,768.2 430.3,830.7 431.5,766.1 433.0,831.3 434.1,766.3 436.1,830.5 436.7,773.0 437.4,830.6 438.6,763.9 440.5,830.3 441.5,772.6 442.1,830.5 442.8,774.3 444.2,830.3 445.1,774.8 446.8,830.9 448.0,774.3 448.6,830.7 450.7,774.6 451.7,830.6 453.2,784.1 454.2,830.5 455.1,763.9 455.8,831.2 456.6,769.1 458.3,830.5 459.0,760.0 460.7,830.5 461.8,773.6 463.7,830.9 464.6,783.6 465.3,830.4 466.3,763.8 468.0,830.7 469.0,762.1 470.4,830.9 471.2,776.5 471.8,830.7 472.6,785.4 474.2,830.4 475.6,768.5" fill="none" stroke="#800080" stroke-opacity="0.22" stroke-width="0.8"/>
<polyline points="288.8,826.6 289.5,779.2 290.8,840.0 291.7,760.7 292.5,838.3 293.6,783.1 294.6,835.1 296.0,771.9 297.1,829.3 297.7,776.7 298.6,832.2 299.4,779.9 299.9,829.2 300.3,776.2 301.2,829.2 302.0,789.9 302.9,829.1 303.6,774.8 304.4,831.2 305.2,776.7 306.5,837.7 307.3,777.4 308.2,830.0 309.2,776.2 310.7,830.5 311.7,790.6 313.5,838.0 315.5,784.3 316.6,830.5 317.5,775.0 319.2,830.5 320.7,772.2 321.6,829.8 323.3,781.5 324.1,830.2 325.3,763.6 326.5,830.8 327.1,776.1 328.0,830.6 329.1,779.7 330.3,830.9 331.3,783.2 333.0,830.0 333.7,774.8 334.4,829.9 335.2,779.3 335.8,830.8 337.2,777.5 338.9,830.9 339.8,787.0 340.4,831.6 341.3,776.3 341.9,839.2 343.4,767.9 344.4,830.5 345.8,772.2 346.7,830.8 347.1,769.1 348.0,831.2 348.9,776.1 350.4,830.5 351.4,768.5 353.4,830.9 354.8,782.8 355.5,831.1 356.2,785.9 356.9,831.2 358.0,785.4 358.7,830.3 359.7,780.2 360.3,830.8 362.1,789.7 363.3,830.5 363.8,775.0 364.5,831.7 365.3,776.5 365.8,830.7 367.0,779.2 368.9,830.6 370.0,781.5 371.4,830.5 372.1,774.1 372.6,830.0 374.5,784.3 375.7,829.2 376.2,781.8 376.9,830.5 378.8,766.9 380.0,830.1 380.7,766.8 381.2,830.1 382.1,778.0 382.7,830.3 384.1,773.9 385.3,830.2 386.0,780.5 387.1,830.2 388.4,781.4 390.1,830.2 391.0,775.5 392.0,829.9 392.5,779.7 393.4,830.2 394.3,778.1 395.4,830.6 396.4,787.7 397.3,830.5 398.6,782.9 400.3,830.7 401.0,788.3 401.6,830.4 402.3,782.8 403.8,831.1 405.6,779.6 406.8,830.5 407.9,776.7 408.6,830.4 409.9,782.7 411.3,831.1 412.0,774.0 413.3,830.1 414.2,785.2 416.2,830.2 417.1,780.8 418.1,830.6 419.5,796.3 421.1,830.5 421.9,775.5 423.1,830.7 423.8,778.7 424.8,829.9 425.6,776.6 427.5,830.2 429.1,771.1 429.9,829.9 431.3,784.5 432.1,829.5 433.1,774.2 435.0,831.0 436.0,778.2 437.2,830.3 438.6,775.3 439.7,830.6 441.0,778.6 441.8,830.3 442.9,787.6 444.8,830.9 445.6,779.7 446.5,829.8 447.0,777.8 448.3,830.3 449.5,782.1 450.5,830.8 451.1,792.3 451.8,830.3 452.3,791.0 453.4,830.9 454.7,783.3 455.5,830.3 457.5,779.9 458.5,830.5 459.5,782.8 460.4,830.8 461.8,777.5 463.2,832.8 464.9,779.7 466.3,829.9 467.2,776.7 467.6,830.5 468.4,784.9 469.9,830.3 470.9,794.1 471.5,830.4 472.5,785.1 474.4,831.2 475.6,787.9" fill="none" stroke="#800080" stroke-opacity="0.6" stroke-width="0.8"/>
<polyline points="287.6,822.6 288.1,781.4 289.4,826.4 290.3,797.5 291.2,827.5 292.1,780.6 293.7,828.4 295.0,792.9 295.9,829.2 296.9,799.4 298.7,827.0 300.2,795.3 301.0,829.4 302.1,793.0 302.6,829.9 304.6,803.1 305.7,830.0 306.6,791.2 308.5,830.2 309.1,792.3 310.1,830.3 311.9,795.6 313.2,830.3 314.2,794.6 315.8,830.3 316.5,807.7 317.1,830.0 318.5,801.6 319.9,830.3 321.4,791.8 322.8,830.3 323.7,793.1 325.7,830.4 327.4,789.4 328.9,830.2 329.4,806.1 330.3,830.8 331.4,799.7 333.4,830.9 334.5,795.1 335.3,830.5 336.1,797.3 337.1,829.9 338.6,792.9 339.4,830.3 340.3,799.4 341.4,830.9 342.0,793.5 342.7,830.1 344.8,802.2 345.8,830.1 346.7,803.4 347.4,830.2 348.5,797.1 349.6,830.2 350.4,797.5 351.5,830.5 352.3,798.0 354.2,830.4 355.0,787.9 355.4,831.0 356.3,800.6 357.5,830.8 358.1,792.7 358.7,831.2 359.8,799.6 361.9,830.1 362.3,797.0 363.1,829.9 363.9,793.3 364.6,830.8 365.8,801.8 367.6,830.7 368.5,797.9 368.8,830.9 370.0,802.8 371.3,830.0 372.5,803.8 373.2,830.3 373.7,804.1 374.4,830.4 375.2,793.5 376.6,830.0 377.4,802.1 378.0,830.3 379.4,796.0 380.4,830.7 380.9,793.5 381.9,830.9 383.4,803.2 384.6,830.6 385.9,798.2 386.9,830.9 387.6,803.7 388.2,830.6 389.3,800.9 391.3,830.1 392.1,798.1 393.4,830.9 394.8,793.3 395.8,830.0 397.2,802.0 398.4,830.7 399.4,797.0 400.1,831.3 401.2,800.4 401.8,830.5 402.8,791.0 403.6,830.3 404.6,806.9 405.8,830.3 406.9,801.6 407.5,830.7 408.5,793.7 410.0,830.5 411.0,798.2 411.8,830.0 412.7,799.8 414.0,831.1 414.7,809.6 415.4,830.3 416.4,806.7 417.2,830.6 418.6,803.1 419.8,831.0 420.2,807.7 421.1,830.3 422.0,805.6 423.4,830.7 424.5,800.2 425.9,830.4 426.8,806.9 427.7,830.5 428.6,802.9 430.4,830.4 431.3,804.3 432.9,830.0 435.0,803.9 436.0,830.6 437.5,798.5 438.3,830.5 439.4,797.9 440.3,830.8 441.2,811.1 441.9,830.1 443.8,808.4 444.6,831.0 446.1,789.8 446.9,831.0 448.1,800.4 448.6,830.6 449.5,805.0 450.7,830.0 451.3,805.3 452.3,830.8 453.8,810.1 455.2,830.3 456.8,798.4 458.0,830.4 459.1,801.6 460.7,830.9 462.1,799.7 463.2,830.5 463.9,804.8 464.5,830.7 466.4,809.9 467.5,829.9 469.0,803.4 470.6,830.7 471.6,809.5 472.6,830.7 473.9,807.1" fill="none" stroke="#800080" stroke-opacity="0.9" stroke-width="0.8"/>
<polyline points="288.7,828.7 290.1,792.6 291.4,825.7 293.0,788.5 293.9,826.1 294.9,784.3 296.1,827.6 296.6,800.8 297.7,826.5 298.8,780.3 300.0,828.0 300.9,793.6 302.3,829.6 303.9,801.6 305.1,830.1 306.2,801.2 307.2,830.8 308.6,800.0 309.6,829.8 310.4,805.8 311.2,830.8 312.1,797.6 313.2,831.4 314.0,790.6 314.6,830.6 315.7,792.7 317.7,830.1 318.7,796.3 320.5,830.1 321.7,799.2 322.2,830.1 323.0,792.7 324.4,830.7 325.4,804.6 326.8,830.7 328.5,798.2 329.5,831.0 330.4,796.9 330.8,830.9 332.5,806.1 333.9,830.9 335.5,796.3 337.1,830.8 338.4,796.8 339.0,830.2 340.3,807.7 341.4,830.0 342.6,801.7 343.7,830.5 344.5,803.3 346.2,830.6 347.2,802.2 347.7,830.4 348.8,800.2 350.0,830.5 350.6,793.0 351.7,830.8 352.9,805.1 353.5,830.6 354.6,794.2 355.8,830.6 356.5,802.1 357.1,830.4 358.0,799.5 359.6,830.1 361.4,804.1 362.2,830.9 363.4,806.5 364.4,830.6 365.1,805.1 365.9,829.8 367.7,798.2 368.5,830.2 369.8,801.8 371.2,830.1 371.9,798.1 372.5,830.6 373.2,799.0 374.0,830.3 375.2,808.4 376.8,830.4 377.8,790.1 378.7,830.3 379.8,790.7 380.5,831.1 382.1,801.3 382.9,830.1 384.3,801.5 385.6,830.2 386.2,806.1 387.2,830.8 389.1,808.7 390.0,830.2 390.7,799.7 391.7,830.4 392.9,808.4 393.7,831.1 394.9,803.3 396.4,830.8 397.2,801.3 397.9,830.5 398.4,798.1 399.2,830.9 399.9,807.0 401.3,830.3 402.3,804.8 403.8,830.9 404.7,796.7 405.2,830.8 406.6,804.8 408.0,830.3 410.0,806.9 411.0,830.3 412.8,804.7 413.8,830.6 414.9,799.4 415.5,830.5 416.3,800.5 417.5,830.6 418.7,796.0 420.6,830.9 421.1,798.5 422.0,830.8 423.5,803.4 424.8,830.2 425.8,794.2 427.6,830.9 428.8,799.0 430.1,830.6 430.8,801.6 432.2,830.4 433.4,803.1 434.2,830.3 434.9,804.1 435.7,830.9 436.4,811.0 437.3,830.4 438.4,806.9 439.9,830.0 441.6,799.2 442.6,830.5 443.5,805.0 444.6,830.7 446.6,804.8 447.6,831.2 448.6,801.2 450.4,830.1 451.7,797.8 452.3,831.0 454.1,806.2 455.1,830.2 456.3,809.0 457.3,830.0 458.4,803.0 459.4,829.8 460.0,802.0 461.1,830.8 462.2,805.9 462.8,830.5 463.7,799.5 464.9,830.6 466.5,801.4 467.7,830.3 468.9,806.1 470.7,830.5 471.3,797.8 472.0,830.6 473.2,795.4 473.9,830.6 474.6,798.6" fill="none" stroke="#800080" stroke-opacity="0.9" stroke-width="0.8"/>
</g>
<path d="M287.5,718.5H472.5" fill="none" stroke="#666666" stroke-width="1"/>
<path d="M472.5,718.5V860.5" fill="none" stroke="#cccccc" stroke-width="1"/>
<path d="M287.5,860.5H472.5" fill="none" stroke="#bbbbbb" stroke-width="1"/>
<path d="M287.5,718.5V860.5" fill="none" stroke="#606060" stroke-width="1"/>
<text x="287.9" y="874.5" font-size="10.5" text-anchor="middle" >2015</text>
<text x="331.85" y="874.5" font-size="10.5" text-anchor="middle" >2035</text>
<text x="375.8" y="874.5" font-size="10.5" text-anchor="middle" >2055</text>
<text x="419.75" y="874.5" font-size="10.5" text-anchor="middle" >2075</text>
<text x="463.7" y="874.5" font-size="10.5" text-anchor="middle" >2095</text>
<text x="282.5" y="735.7" font-size="9.6" text-anchor="end" transform="translate(282.5,0) scale(0.95,1) translate(-282.5,0)">0.0002</text>
<text x="282.5" y="792.3" font-size="9.6" text-anchor="end" transform="translate(282.5,0) scale(0.95,1) translate(-282.5,0)">0.0001</text>
<text x="282.5" y="848.9" font-size="9.6" text-anchor="end" transform="translate(282.5,0) scale(0.95,1) translate(-282.5,0)">0.0000</text>
<path d="M287.5,860.5v2.5 M309.48,860.5v1.5 M331.45,860.5v2.5 M353.43,860.5v1.5 M375.4,860.5v2.5 M397.38,860.5v1.5 M419.35,860.5v2.5 M441.33,860.5v1.5 M463.3,860.5v2.5 M287.5,732.8h-2.5 M287.5,789.4h-2.5 M287.5,846h-2.5 M287.5,761.1h-1.5 M287.5,817.7h-1.5" fill="none" stroke="#777" stroke-width="0.8"/>
<text x="296.7" y="741.1" font-size="18.2">Cd</text>
<clipPath id="c14"><rect x="498.5" y="718.5" width="186.5" height="142"/></clipPath>
<g clip-path="url(#c14)">
<polyline points="499.9,815.1 501.2,774.9 502.1,816.4 503.2,776.0 504.8,815.0 505.3,779.5 506.4,814.4 507.4,786.9 509.6,813.9 510.4,779.7 511.6,816.1 512.4,777.8 513.3,814.6 514.2,774.8 516.1,814.2 516.8,784.6 518.1,814.7 519.3,776.2 520.6,814.7 521.6,791.5 522.4,813.9 523.2,780.4 524.0,813.5 525.2,779.0 526.5,812.4 527.5,778.0 528.0,813.4 529.4,757.2 530.3,814.6 531.3,784.3 532.0,815.0 533.0,767.9 533.6,814.9 535.3,760.3 536.4,813.8 537.8,785.2 538.9,812.5 539.6,770.1 540.2,813.5 541.0,770.8 541.5,814.5 542.9,773.0 544.0,814.2 545.5,785.6 546.7,814.3 547.9,770.2 549.7,815.8 550.5,785.7 551.2,813.2 551.8,781.4 553.2,815.8 554.4,783.8 555.6,816.0 556.9,775.8 558.0,814.2 558.8,785.9 560.2,815.0 561.5,782.5 563.1,813.5 564.1,785.5 566.2,814.6 567.7,784.2 568.6,814.7 569.4,780.5 570.6,813.2 571.0,783.8 571.8,814.7 573.6,780.2 574.6,814.2 576.1,776.6 576.7,813.4 577.9,785.8 578.7,813.7 579.5,761.2 580.3,815.2 581.6,781.3 582.2,814.6 583.1,773.3 584.2,814.0 585.5,783.9 587.1,814.7 588.1,768.2 590.0,813.9 591.1,754.8 591.6,815.7 592.4,776.7 593.1,815.1 594.8,772.9 595.9,814.3 596.7,782.4 597.2,812.9 598.9,775.1 599.7,814.5 601.2,790.7 602.0,815.3 602.7,781.8 603.4,813.1 604.3,771.4 605.3,814.8 606.1,786.2 607.5,814.4 608.5,782.2 609.0,813.9 610.2,791.4 611.0,813.2 612.3,783.1 614.1,815.2 614.7,773.7 615.8,812.0 616.7,783.4 618.0,814.1 619.3,770.7 620.1,814.6 621.7,787.2 622.5,816.3 624.2,778.4 625.2,812.9 626.0,774.2 627.8,814.1 628.8,780.3 630.8,814.8 632.2,793.7 632.8,813.2 633.5,757.4 634.8,813.2 635.6,784.1 636.8,813.6 637.8,781.7 639.6,814.1 640.5,776.5 641.7,814.0 642.7,775.8 644.0,841.5 645.4,777.1 646.2,814.5 647.6,769.3 648.8,815.7 649.7,789.9 650.5,814.4 651.6,777.2 653.4,815.3 654.7,780.4 655.9,813.6 657.1,756.3 657.6,813.5 658.6,771.3 659.2,812.5 661.1,777.1 662.0,815.3 663.7,764.8 665.1,814.6 666.4,777.9 668.1,828.2 670.1,782.6 671.0,814.3 672.0,780.3 673.4,815.8 674.4,760.0 675.4,814.0 676.4,779.7 676.9,815.7 677.7,785.1 678.6,814.9 680.6,771.8 681.5,815.2 683.4,751.1 684.7,813.7 685.9,770.1" fill="none" stroke="#800080" stroke-opacity="0.22" stroke-width="0.8"/>
<polyline points="500.4,811.6 501.7,783.0 503.2,811.5 503.8,794.0 504.7,811.4 505.6,795.5 506.1,811.7 507.0,790.6 507.5,811.6 509.2,791.3 510.2,811.3 511.4,791.6 512.2,811.3 513.5,789.4 514.4,811.1 516.1,787.0 517.1,811.4 518.6,791.7 519.3,811.3 520.5,792.0 521.3,811.3 522.0,789.2 523.4,811.6 524.5,786.8 525.9,811.5 527.8,789.9 528.8,811.4 529.5,786.3 530.1,811.6 531.5,788.5 532.9,811.5 533.7,793.6 535.4,811.5 537.0,789.5 537.8,811.7 538.4,789.9 539.3,811.6 540.3,793.7 541.4,811.8 543.0,793.0 544.3,811.6 545.6,794.1 546.5,811.5 547.0,793.8 547.9,811.4 548.9,787.9 550.7,811.7 551.8,792.3 552.9,811.7 553.6,794.1 554.3,811.5 556.2,792.5 557.3,811.2 557.9,793.4 559.0,811.7 560.0,791.9 560.9,811.6 562.1,787.4 562.9,811.3 563.6,792.1 565.1,811.6 566.3,784.8 567.2,811.7 568.4,783.4 569.3,811.1 570.5,786.9 571.7,811.3 572.6,787.2 574.4,811.6 575.1,787.7 575.7,811.5 577.6,796.6 578.7,811.4 579.3,790.9 580.4,811.6 580.9,793.9 581.8,811.6 583.2,794.8 584.2,812.0 586.1,790.8 587.1,811.8 588.1,794.8 590.0,811.6 591.3,790.0 592.6,811.7 593.8,792.3 594.6,811.2 595.5,792.2 596.0,811.2 597.9,791.4 599.0,811.4 600.6,789.5 601.5,811.2 603.5,793.8 604.5,811.5 605.4,790.3 605.9,811.4 606.9,791.0 607.9,811.8 609.6,792.0 610.8,811.7 612.1,795.1 612.6,811.3 614.1,785.9 615.5,811.5 616.0,793.7 616.9,812.2 617.8,795.9 619.6,811.5 620.9,786.3 621.7,811.5 622.7,792.9 623.8,811.0 624.4,790.8 625.4,811.3 626.0,789.2 626.7,811.5 627.5,789.0 629.0,811.4 630.2,784.1 631.4,811.7 632.3,788.3 633.8,811.6 634.7,789.0 635.9,811.6 637.1,784.5 638.2,811.3 639.5,791.3 640.6,811.5 641.9,789.4 643.6,811.6 645.1,788.6 646.1,811.6 646.8,786.6 648.2,811.2 649.3,793.3 649.9,811.5 650.7,793.2 652.5,811.7 653.8,790.4 654.5,811.1 655.3,792.8 655.8,811.2 657.0,790.9 657.7,811.5 658.4,794.5 659.0,811.3 660.0,792.1 660.8,811.7 661.4,791.5 662.2,811.7 663.2,793.2 665.1,811.4 666.4,783.8 667.0,811.2 667.8,789.3 668.6,811.1 669.5,796.6 671.3,811.6 672.0,793.2 673.3,811.6 674.8,787.0 676.1,811.9 677.3,794.5 678.3,811.3 680.6,789.0 681.5,811.7 683.3,794.0 684.2,811.6 685.7,789.0 686.6,811.4 688.2,794.1" fill="none" stroke="#800080" stroke-opacity="0.55" stroke-width="0.8"/>
<polyline points="499.2,811.3 500.9,790.6 502.0,811.6 503.2,789.3 504.4,811.5 505.1,788.6 506.3,811.7 507.1,793.9 507.6,811.5 508.9,793.9 509.8,811.5 511.2,789.6 512.1,811.5 513.3,789.7 514.1,811.3 515.2,793.4 517.0,811.9 518.2,790.3 519.9,811.1 521.7,794.9 522.5,811.8 523.5,788.8 523.9,811.7 525.7,789.7 526.7,811.3 528.2,792.6 529.4,811.5 530.4,787.8 531.7,811.5 532.4,784.4 533.0,811.1 533.7,791.0 534.9,811.6 536.1,788.2 537.4,811.3 538.0,787.0 538.8,811.8 540.8,791.0 541.7,811.5 542.2,791.3 543.0,811.5 543.7,792.5 544.4,811.6 545.1,789.7 546.1,811.3 547.8,789.6 549.1,811.6 550.6,790.1 551.3,811.5 552.0,780.5 553.4,811.6 554.2,792.1 554.7,811.7 556.1,784.7 557.6,811.5 558.7,789.9 559.9,811.5 560.7,791.8 562.1,811.9 562.8,791.7 563.5,811.8 565.0,790.0 566.1,811.8 567.5,791.8 568.5,811.6 569.7,790.8 571.6,811.4 573.5,790.5 574.7,811.8 575.6,789.3 577.5,811.5 578.2,793.4 579.0,811.3 579.9,795.3 580.5,811.5 582.1,791.5 582.9,811.5 584.4,794.2 585.5,811.6 586.5,791.3 588.4,811.3 589.3,791.1 590.4,811.9 591.5,790.6 592.6,811.6 593.4,791.5 594.2,811.6 595.0,791.2 595.9,811.4 597.6,788.0 598.9,811.2 599.8,793.6 600.8,811.5 602.6,788.1 603.8,811.6 605.7,791.3 606.8,811.5 608.4,797.4 609.6,811.3 611.0,791.6 612.2,811.2 612.7,787.4 613.7,811.7 615.0,789.8 616.0,811.4 617.1,790.9 618.0,811.9 619.0,792.5 619.9,811.6 620.8,783.9 621.5,811.6 623.1,790.3 624.5,811.6 625.8,792.6 626.5,811.4 628.0,788.7 629.0,811.6 630.3,794.1 631.6,811.2 632.9,792.9 633.9,811.6 635.9,789.5 637.0,811.9 638.5,787.0 639.3,811.5 640.7,792.4 641.5,811.6 643.2,792.2 643.9,811.6 644.4,787.4 645.2,811.1 646.6,791.9 647.8,811.6 648.8,792.1 650.0,811.7 650.7,788.4 652.0,811.6 653.3,794.7 654.1,811.8 654.9,796.3 655.9,811.6 657.4,789.1 659.0,811.6 659.8,788.8 660.5,811.9 661.4,787.1 662.7,812.1 664.1,793.4 664.8,812.0 665.4,792.1 666.3,811.4 666.9,784.6 668.4,811.7 669.7,791.7 670.4,811.3 671.8,781.2 672.4,820.9 673.6,795.8 674.7,811.8 675.9,791.1 676.5,811.4 678.4,793.9 679.4,811.6 680.1,789.5 681.3,811.2 682.5,792.0 684.1,811.3 684.9,790.3 686.0,811.2 687.3,794.0" fill="none" stroke="#800080" stroke-opacity="0.55" stroke-width="0.8"/>
<polyline points="498.8,811.0 500.2,803.5 501.6,811.0 503.0,803.6 504.0,811.1 504.9,803.4 505.9,811.0 507.5,802.1 509.0,811.2 510.1,802.5 510.8,811.1 512.0,802.7 512.6,811.1 513.5,803.1 515.0,811.2 516.1,802.2 517.3,811.1 518.8,802.6 520.0,811.1 520.8,803.3 521.7,811.1 522.7,802.9 523.8,811.1 524.6,803.1 525.9,811.0 526.6,803.7 527.7,810.9 529.4,802.6 530.7,811.1 531.5,802.8 532.3,811.0 533.5,802.3 534.8,811.0 535.8,803.2 536.9,810.9 538.6,803.4 540.0,811.0 541.7,803.5 542.7,811.0 543.1,802.7 543.9,811.0 544.8,803.2 545.6,811.1 547.0,803.1 548.4,811.0 549.9,803.6 551.4,811.1 552.1,803.4 553.6,810.9 554.5,803.0 555.0,811.0 557.1,803.4 558.0,811.1 558.7,803.8 559.8,811.1 561.2,802.9 562.8,811.1 564.1,803.2 564.7,811.0 565.8,801.6 567.6,811.0 568.4,803.3 569.1,811.0 570.0,803.0 570.6,811.1 571.8,804.0 572.5,810.9 573.2,802.2 575.0,811.1 576.1,803.0 577.1,811.0 578.2,802.8 579.4,811.0 581.3,803.3 582.1,811.0 583.9,802.7 584.8,811.0 585.3,802.7 586.3,811.1 586.8,803.4 587.6,811.1 588.7,802.0 589.6,811.1 590.4,802.9 591.3,811.1 592.1,803.3 592.8,811.0 593.9,802.7 594.4,811.1 596.4,802.4 597.2,811.1 598.8,803.2 600.0,811.0 600.9,803.4 601.9,811.1 603.2,802.5 604.0,810.9 605.0,802.6 606.4,811.0 607.6,802.8 608.4,811.0 609.1,802.7 610.2,811.0 611.7,802.8 612.6,811.0 613.5,802.7 614.7,811.1 616.5,803.4 617.7,811.0 618.9,803.1 619.7,811.0 620.7,803.2 622.2,811.1 623.7,803.5 625.3,811.0 626.5,802.6 627.4,811.1 628.4,803.2 630.4,810.9 631.3,802.9 632.3,811.0 633.1,803.3 634.6,810.9 635.5,803.4 636.1,811.0 637.1,802.3 638.0,811.1 638.8,803.1 639.6,811.0 640.9,803.7 642.2,811.0 642.9,803.4 643.6,810.9 644.4,802.8 645.6,811.1 646.9,802.6 648.0,811.0 649.5,803.3 651.2,811.1 652.6,803.3 654.2,810.9 656.0,802.6 656.9,810.9 657.3,803.2 658.2,811.0 659.9,802.5 660.9,811.0 661.9,803.2 663.1,811.1 663.7,802.8 665.1,811.0 665.9,803.2 666.8,811.2 667.9,803.9 669.8,811.0 670.7,802.8 671.6,811.0 672.1,804.3 673.3,811.1 674.8,802.9 676.4,811.0 677.5,804.1 678.1,811.0 678.6,802.3 679.4,811.1 680.5,804.2 681.1,811.0 682.1,802.3 682.9,811.2 684.6,803.4 685.9,811.1 686.9,802.4" fill="none" stroke="#800080" stroke-opacity="0.9" stroke-width="0.8"/>
<polyline points="500.2,811.0 501.8,803.0 502.6,811.2 503.6,802.7 505.2,811.1 506.3,802.8 507.3,811.1 508.6,802.8 510.2,811.1 510.7,801.9 511.6,810.9 512.7,802.8 513.8,811.1 514.5,803.3 515.5,811.0 516.2,802.0 517.2,811.1 518.4,803.1 519.5,811.0 521.2,803.5 522.0,811.1 522.6,802.3 523.8,811.2 524.5,802.3 525.4,811.1 526.7,802.6 527.5,811.0 528.7,802.2 529.2,811.1 531.1,803.2 532.3,811.1 533.9,803.2 535.5,811.1 536.3,802.6 537.1,811.0 538.0,803.6 539.4,811.1 540.5,803.1 541.7,811.1 542.4,802.2 544.0,811.2 545.2,803.4 546.9,811.0 548.9,802.7 549.8,811.1 551.2,803.1 553.0,811.2 554.4,802.6 556.0,811.0 557.0,803.0 558.4,811.1 560.3,802.3 561.4,811.1 562.7,802.8 563.5,811.2 564.8,802.5 566.4,811.0 568.2,802.0 569.1,810.8 570.0,802.7 571.6,811.0 573.0,803.0 573.9,811.1 575.4,802.8 576.5,811.0 577.4,802.5 579.6,811.0 581.3,802.7 582.1,811.0 582.8,803.5 583.5,810.9 584.0,803.0 585.2,811.3 585.9,803.2 586.8,811.1 587.7,802.6 588.5,811.0 589.7,802.2 590.4,811.1 591.6,802.4 592.9,811.0 593.6,802.9 594.9,811.0 595.3,803.0 596.2,811.1 597.0,803.5 598.1,810.9 599.7,802.9 601.1,811.1 602.7,803.0 604.3,810.9 605.9,803.1 607.0,811.2 607.8,803.4 608.6,811.0 610.1,802.5 611.7,811.0 612.4,803.5 613.2,811.1 615.1,802.3 616.0,811.2 617.2,802.4 617.8,811.0 618.7,802.7 619.3,811.0 619.7,802.9 620.5,811.1 620.9,803.3 621.8,811.1 622.7,803.2 623.8,811.1 624.9,804.0 625.9,811.1 627.5,803.6 628.5,811.1 629.8,802.6 630.5,811.0 631.4,802.6 632.9,811.1 633.9,803.5 634.4,811.0 635.8,802.2 636.7,811.0 637.7,802.2 638.7,811.1 639.9,804.1 641.8,811.2 642.6,802.1 643.9,811.1 645.6,802.9 646.4,810.9 647.6,802.1 648.9,811.0 649.5,803.0 650.6,811.1 651.1,803.4 652.4,811.0 653.1,802.2 653.6,811.0 654.2,803.4 655.3,811.0 656.6,802.9 657.5,811.2 658.3,803.5 659.5,811.0 661.2,803.1 662.3,811.1 663.6,803.3 664.1,810.9 665.0,802.2 666.5,811.0 668.0,803.2 669.4,811.2 670.0,801.8 671.0,811.1 672.0,802.7 673.8,811.0 675.1,802.4 676.0,811.1 677.2,802.5 678.9,811.0 680.6,802.8 682.1,811.1 682.8,802.9 684.3,810.9 685.1,803.4 685.5,810.9 686.4,802.7 687.1,811.0 688.1,803.6" fill="none" stroke="#800080" stroke-opacity="0.9" stroke-width="0.8"/>
<polyline points="500.0,840.9 502.0,767.7 503.1,823.8 503.8,774.4 504.4,816.8 505.7,776.9" fill="none" stroke="#800080" stroke-opacity="0.5" stroke-width="0.8"/>
</g>
<path d="M498.5,718.5H684.5" fill="none" stroke="#666666" stroke-width="1"/>
<path d="M684.5,718.5V860.5" fill="none" stroke="#bbbbbb" stroke-width="1"/>
<path d="M498.5,860.5H684.5" fill="none" stroke="#bbbbbb" stroke-width="1"/>
<path d="M498.5,718.5V860.5" fill="none" stroke="#606060" stroke-width="1"/>
<text x="498.9" y="874.5" font-size="10.5" text-anchor="middle" >2015</text>
<text x="542.85" y="874.5" font-size="10.5" text-anchor="middle" >2035</text>
<text x="586.8" y="874.5" font-size="10.5" text-anchor="middle" >2055</text>
<text x="630.75" y="874.5" font-size="10.5" text-anchor="middle" >2075</text>
<text x="674.7" y="874.5" font-size="10.5" text-anchor="middle" >2095</text>
<text x="493.5" y="720.7" font-size="9.6" text-anchor="end" transform="translate(493.5,0) scale(0.95,1) translate(-493.5,0)">0.004</text>
<text x="493.5" y="768.03" font-size="9.6" text-anchor="end" transform="translate(493.5,0) scale(0.95,1) translate(-493.5,0)">0.003</text>
<text x="493.5" y="815.37" font-size="9.6" text-anchor="end" transform="translate(493.5,0) scale(0.95,1) translate(-493.5,0)">0.002</text>
<text x="493.5" y="862.7" font-size="9.6" text-anchor="end" transform="translate(493.5,0) scale(0.95,1) translate(-493.5,0)">0.001</text>
<path d="M498.5,860.5v2.5 M520.48,860.5v1.5 M542.45,860.5v2.5 M564.43,860.5v1.5 M586.4,860.5v2.5 M608.38,860.5v1.5 M630.35,860.5v2.5 M652.33,860.5v1.5 M674.3,860.5v2.5 M498.5,717.8h-2.5 M498.5,765.13h-2.5 M498.5,812.47h-2.5 M498.5,859.8h-2.5 M498.5,741.47h-1.5 M498.5,788.8h-1.5 M498.5,836.13h-1.5" fill="none" stroke="#777" stroke-width="0.8"/>
<text x="508.3" y="740.9" font-size="18.2">Cr(VI)</text>
<clipPath id="c15"><rect x="66.8" y="896.5" width="186.2" height="142"/></clipPath>
<g clip-path="url(#c15)">
<polyline points="67.9,1032.8 69.2,970.2 70.5,1022.4 72.1,961.7 72.9,1037.0 73.8,959.9 74.4,1021.7 76.1,957.2 77.5,1037.2 78.3,953.5 79.2,1033.3 81.3,951.7 82.1,1029.5 83.4,955.4 84.5,1024.3 85.2,942.8 86.0,1018.9 87.4,941.4 88.0,1021.7 88.9,952.9 89.5,1031.0 91.3,934.7 92.5,1029.5 93.1,945.3 94.1,1033.2 94.8,940.5 95.9,1019.4 97.5,938.8 98.9,1018.1 99.7,934.2 100.4,1020.8 102.0,936.7 103.4,1037.8 104.2,938.2 104.9,1007.0 106.2,950.3 107.4,1020.7 109.2,931.2 110.1,1027.8 111.0,956.8 111.6,1033.1 112.6,943.2 113.4,1025.8 114.1,930.0 114.8,1033.5 115.6,932.1 116.2,1013.8 117.3,941.3 117.9,1021.3 118.5,939.5 119.2,1010.5 120.4,899.6 121.5,1013.2 122.7,932.0 123.8,1011.6 124.4,934.7 125.0,1007.8 126.3,919.6 127.4,1002.6 128.1,920.0 128.9,1029.7 131.0,933.0 132.0,1028.1 132.9,942.0 134.1,1050.2 134.9,916.4 135.6,1012.6 137.5,909.9 138.4,1010.3 139.6,923.9 140.7,1018.2 141.3,907.2 142.4,1031.1 142.8,934.7 143.6,1014.9 145.1,911.7 146.5,1008.4 147.0,921.6 147.8,1027.4 149.3,942.9 150.2,1023.5 151.9,913.0 152.8,1000.6 153.4,919.7 154.5,1020.0 155.3,921.0 156.2,1019.3 157.4,923.1 158.4,1025.6 159.3,916.5 161.2,1010.6 162.4,915.4 163.4,1028.5 164.5,924.5 165.6,1025.8 166.3,928.7 167.0,1004.3 168.4,927.2 169.0,1014.6 169.9,932.4 171.6,1013.8 172.6,911.2 173.7,1012.8 174.9,919.6 175.7,1011.5 177.2,917.0 177.8,1002.3 178.4,933.4 179.8,1004.3 181.1,949.2 183.0,1002.2 184.3,930.5 185.8,994.2 186.7,940.2 187.5,992.8 188.2,931.7 189.6,1000.9 190.4,930.5 190.8,994.0 191.5,933.6 192.1,980.5 193.2,942.3 194.6,999.4 195.9,923.2 196.9,1001.1 198.2,931.2 198.9,986.9 200.0,934.8 200.4,984.4 200.9,935.4 201.8,995.5 202.8,937.6 204.7,991.0 205.6,938.9 206.8,989.4 207.3,931.8 208.2,993.1 208.8,936.0 209.5,1000.8 210.8,946.9 211.9,992.0 213.0,932.9 214.1,989.3 215.1,932.1 217.2,989.4 217.9,924.7 218.4,993.4 219.7,933.2 221.3,984.7 222.4,933.4 224.2,994.2 225.7,939.5 226.4,998.4 227.9,940.0 229.0,991.0 229.8,934.8 231.0,988.4 232.4,938.4 233.9,989.7 234.7,933.9 236.0,983.2 236.8,944.9 238.3,990.2 239.8,940.0 240.5,989.1 242.6,934.5 243.5,994.8 244.9,933.4 245.7,993.1 246.5,932.0 247.7,993.1 248.9,935.6 250.7,985.1 251.6,940.6 253.5,980.8 254.7,929.9" fill="none" stroke="#800080" stroke-opacity="0.22" stroke-width="0.8"/>
<polyline points="68.0,1015.2 68.9,974.1 69.6,1008.3 70.5,963.6 71.3,1016.8 72.2,960.3 72.8,1021.0 74.2,965.2 75.7,1023.5 76.4,967.4 77.3,1019.2 78.3,961.4 79.1,1012.6 79.7,952.6 80.6,1020.1 82.1,969.8 83.5,1018.7 84.7,968.5 86.0,1024.7 87.1,965.7 88.2,1008.9 88.9,956.1 89.9,1020.9 91.0,954.1 92.0,1018.8 92.9,961.1 93.5,1011.3 94.9,964.4 95.9,1019.1 97.2,952.6 98.6,1019.6 99.1,951.1 99.9,1015.2 101.2,952.0 102.4,1014.6 103.6,953.0 105.1,1010.1 106.0,955.4 107.2,1010.3 107.8,946.3 108.7,1009.4 109.3,942.3 110.4,1011.6 111.2,935.3 111.8,1006.2 113.0,939.8 113.7,1018.1 115.3,946.0 116.6,1020.4 117.7,940.7 118.3,1011.1 119.7,934.9 120.4,1019.9 121.3,932.8 123.4,1016.7 124.0,939.6 124.7,1019.9 126.1,936.2 127.4,1021.6 128.1,931.2 128.8,1024.1 129.5,914.9 130.3,1019.5 131.6,929.9 132.5,1022.1 133.0,935.1 133.7,1019.7 135.7,922.3 136.8,1018.1 137.4,928.3 138.2,1017.9 140.1,928.4 141.3,1015.5 143.0,934.2 144.1,1014.4 145.3,935.6 146.3,1013.0 147.3,925.9 148.1,1022.6 149.1,924.3 151.2,1005.8 152.4,931.3 153.1,1002.7 154.7,917.9 155.4,1010.5 155.9,935.3 157.0,1021.5 157.9,934.0 158.6,1012.9 160.2,936.2 161.2,1013.4 162.0,933.0 162.6,1006.9 163.2,935.2 163.9,1013.9 164.7,931.1 165.4,1003.2 167.0,928.1 168.4,1011.9 169.3,936.1 170.1,1006.6 170.8,932.3 171.6,1001.4 173.2,933.8 173.9,1006.7 174.9,932.3 176.6,1008.2 177.4,933.0 179.1,995.5 180.9,931.9 181.9,993.5 183.0,935.4 184.6,998.3 186.3,937.6 187.2,1000.2 188.4,933.6 189.6,994.3 190.2,933.7 191.0,988.9 192.3,938.5 193.8,987.6 194.4,936.5 195.1,990.6 196.2,939.5 197.9,989.5 198.6,936.2 199.6,982.2 200.2,937.6 201.1,981.8 202.1,940.5 203.0,987.5 204.0,938.3 204.8,989.1 206.4,937.2 207.7,987.2 208.7,936.6 209.7,988.0 210.6,939.3 211.1,985.5 212.8,940.1 213.6,986.3 214.2,937.1 214.8,987.8 216.1,936.0 217.3,987.3 218.6,937.8 219.6,984.4 220.5,937.2 221.3,984.7 222.4,936.2 223.8,987.4 225.0,937.7 226.7,988.2 227.2,938.1 228.0,990.0 229.3,937.1 230.0,990.7 231.1,939.3 232.0,989.8 233.8,936.3 234.9,990.9 235.6,937.6 236.3,986.1 237.2,939.0 239.2,984.0 240.4,938.7 241.4,985.1 242.4,937.9 242.8,986.2 243.8,937.3 244.4,987.0 246.2,937.2 247.1,985.0 247.8,937.4 248.4,986.1 249.1,937.1 250.4,988.9 251.2,936.3 252.5,985.6 253.7,936.0" fill="none" stroke="#800080" stroke-opacity="0.6" stroke-width="0.8"/>
<polyline points="68.3,1009.4 69.6,978.6 70.9,1009.2 72.2,980.3 73.0,1006.6 74.2,981.3 76.1,1010.7 76.7,977.7 78.1,1008.8 79.3,977.2 80.6,1012.1 81.6,971.9 83.3,1010.1 84.8,974.2 85.8,1012.5 86.8,970.0 87.5,1013.1 88.7,976.1 90.6,1014.8 91.4,974.4 92.8,1011.6 93.7,967.9 94.3,1013.5 95.1,963.8 96.2,1016.1 97.2,965.0 97.7,1011.0 98.3,968.1 99.1,1013.7 99.8,960.8 100.4,1007.8 101.4,962.4 102.0,1012.5 102.5,962.7 103.2,1011.5 104.3,964.1 104.7,1011.6 105.3,956.9 106.8,1015.3 108.3,959.1 109.6,1011.7 110.8,957.8 111.4,1018.3 112.3,956.4 113.7,1016.0 114.2,959.1 115.0,1013.9 115.9,956.3 116.6,1015.5 117.3,956.5 117.8,1012.2 118.5,951.6 119.7,1019.5 121.1,946.5 122.8,1010.2 124.1,943.7 124.7,1010.1 125.8,940.3 126.6,1006.6 128.0,940.6 129.5,1013.3 130.2,937.4 130.9,1012.1 131.4,934.7 132.6,1002.2 134.3,934.5 135.3,1007.7 136.7,940.7 137.6,1021.1 139.1,939.5 140.3,1013.1 140.8,932.9 141.9,1009.8 143.2,942.6 144.3,1017.4 145.8,935.4 146.6,1013.5 147.6,935.3 148.7,1004.4 149.8,937.6 150.7,1022.4 152.0,942.6 152.7,1014.0 153.5,935.7 154.0,1013.0 155.6,927.7 156.8,1009.6 157.7,935.7 159.7,1004.1 161.5,932.4 162.4,1007.4 163.1,931.8 163.7,1013.4 164.7,930.0 165.4,997.9 165.8,937.2 166.8,1004.8 168.2,940.0 169.3,1003.7 169.9,938.6 171.2,1001.0 171.6,933.3 172.6,1003.4 173.5,934.6 174.6,994.3 175.2,936.4 176.2,999.0 176.9,936.5 178.1,999.0 179.1,937.8 180.4,993.0 181.8,939.9 183.3,990.7 184.7,940.6 186.0,992.2 186.8,935.7 187.3,985.2 188.3,934.2 190.4,988.5 191.5,938.8 192.5,987.8 193.7,941.0 194.9,984.9 195.7,940.7 196.2,983.5 196.7,939.8 197.4,982.8 198.2,942.0 198.8,983.1 199.4,938.1 200.5,983.0 201.3,939.9 202.1,982.3 203.2,938.9 204.1,982.1 206.2,940.1 207.2,984.1 209.2,938.2 210.1,983.0 211.3,941.0 212.9,985.8 213.5,939.3 214.4,981.6 215.9,938.7 217.0,984.2 218.4,942.3 220.1,984.7 222.0,940.7 222.9,982.5 224.2,940.0 225.8,985.1 227.6,940.4 228.8,980.3 229.3,940.5 230.3,982.0 230.8,938.2 231.7,984.3 233.0,936.9 233.7,986.1 234.5,939.1 236.5,982.0 237.4,938.3 238.9,984.4 239.7,940.4 240.2,985.6 241.1,937.6 242.0,985.6 242.6,940.4 243.5,977.7 244.2,939.4 244.9,985.9 246.5,938.7 248.1,983.8 248.7,936.2 250.1,982.3 250.8,941.3 251.6,979.9 253.0,940.1 253.7,980.2 254.2,937.4" fill="none" stroke="#800080" stroke-opacity="0.9" stroke-width="0.8"/>
<polyline points="183.1,987.2 185.0,938.0 185.8,989.5 186.7,938.6 188.1,986.3 188.6,940.9 189.6,981.8 191.1,940.7 192.2,983.1 193.6,939.8 194.2,985.0 195.4,938.8 196.6,982.3 198.1,940.8 199.5,977.5 200.6,938.0 201.5,982.0 202.6,941.9 204.0,985.6 205.7,941.8 206.9,981.8 207.5,938.8 208.5,980.2 209.3,941.7 211.0,979.6 212.7,940.1 214.0,980.1 215.2,940.1 216.3,979.7 216.8,940.1 217.5,979.3 218.3,938.9 219.4,983.1 220.6,936.5 222.5,981.1 223.4,938.4 224.7,981.7 225.7,934.2 226.8,980.9 227.6,941.3 228.3,982.3 229.2,936.9 229.9,981.7 231.5,935.8 232.3,979.5 233.0,940.7 234.0,981.8 235.5,938.7 236.6,984.6 237.4,944.4 238.9,980.7 239.7,940.4 240.9,981.4 242.3,940.2 243.1,977.6 244.4,938.9 246.0,981.9 246.9,936.6 248.7,980.3 249.3,940.7 250.1,982.0 251.2,942.0 252.9,984.3 254.9,942.0" fill="none" stroke="#800080" stroke-opacity="0.85" stroke-width="0.8"/>
<polyline points="67.1,1005.3 68.2,986.2 69.4,1006.6 70.9,988.2 72.5,1006.6 73.3,983.6 74.9,1005.5 75.5,984.6 76.5,1006.3 78.6,985.4 79.7,1005.3 80.7,980.2 81.4,1004.5 82.3,983.2 83.8,1006.0 85.4,985.5 86.6,1010.2 87.1,983.0 88.0,1007.9 89.2,981.7 89.9,1008.3 90.8,986.7 91.9,1007.8 92.7,986.9 93.9,1007.0 95.3,984.2 96.1,1006.8 96.7,983.1 97.3,1009.0 98.0,985.4 98.9,1009.2 99.6,982.6 100.3,1009.1 101.3,984.5 103.2,1010.0 104.3,981.4 105.5,1007.1 106.3,986.2 106.9,1006.4 107.8,981.6 108.4,1008.8 109.4,981.2 111.1,1005.0 111.8,981.3 112.7,1010.6 113.9,984.1 115.3,1004.4 115.9,980.6" fill="none" stroke="#800080" stroke-opacity="0.85" stroke-width="0.8"/>
</g>
<path d="M66.8,896.5H252.5" fill="none" stroke="#666666" stroke-width="1"/>
<path d="M252.5,896.5V1038.5" fill="none" stroke="#6a6a6a" stroke-width="1"/>
<path d="M66.8,1038.5H252.5" fill="none" stroke="#999999" stroke-width="1"/>
<path d="M66.8,896.5V1038.5" fill="none" stroke="#606060" stroke-width="1"/>
<text x="67.2" y="1053.5" font-size="10.5" text-anchor="middle" >2015</text>
<text x="111.15" y="1053.5" font-size="10.5" text-anchor="middle" >2035</text>
<text x="155.1" y="1053.5" font-size="10.5" text-anchor="middle" >2055</text>
<text x="199.05" y="1053.5" font-size="10.5" text-anchor="middle" >2075</text>
<text x="243" y="1053.5" font-size="10.5" text-anchor="middle" >2095</text>
<text x="61.8" y="938.3" font-size="9.6" text-anchor="end" transform="translate(61.8,0) scale(0.95,1) translate(-61.8,0)">0.2</text>
<text x="61.8" y="990" font-size="9.6" text-anchor="end" transform="translate(61.8,0) scale(0.95,1) translate(-61.8,0)">0.1</text>
<text x="61.8" y="1041.7" font-size="9.6" text-anchor="end" transform="translate(61.8,0) scale(0.95,1) translate(-61.8,0)">0.0</text>
<path d="M66.8,1038.5v2.5 M88.78,1038.5v1.5 M110.75,1038.5v2.5 M132.72,1038.5v1.5 M154.7,1038.5v2.5 M176.67,1038.5v1.5 M198.65,1038.5v2.5 M220.63,1038.5v1.5 M242.6,1038.5v2.5 M66.8,935.4h-2.5 M66.8,987.1h-2.5 M66.8,1038.8h-2.5 M66.8,909.55h-1.5 M66.8,961.25h-1.5 M66.8,1012.95h-1.5" fill="none" stroke="#777" stroke-width="0.8"/>
<text x="74.5" y="918.7" font-size="18.2">Fe</text>
<clipPath id="c16"><rect x="287.5" y="896.5" width="185.5" height="142"/></clipPath>
<g clip-path="url(#c16)">
<polyline points="289.5,1012.3 290.8,913.5 292.5,1038.8 293.0,936.7 294.0,1036.3 294.9,944.5 296.4,1034.4 298.0,933.2 298.8,1029.8 299.6,939.9 300.6,1031.7 302.1,952.2 303.3,1039.3 304.6,942.6 305.2,1039.8 306.5,924.8 308.2,1029.7 309.4,956.4 310.1,1039.0 311.1,930.9 312.6,1040.2 313.8,953.5 314.6,1009.9 316.7,947.2 317.7,1071.8 318.9,961.9 320.7,1033.8 321.6,951.3 323.5,1029.4 324.2,960.1 324.8,1035.1 325.6,940.6 326.0,1050.9 327.6,949.6 329.2,1017.2 330.1,948.6 330.7,1048.6 331.7,952.8 332.8,1040.4 333.9,934.5 335.4,1027.2 336.6,944.4 337.8,1039.1 339.5,968.4 340.7,1044.5 341.6,965.4 343.4,1023.7 344.4,969.0 345.9,1032.6 347.2,979.2 349.0,1026.9 350.7,986.9 351.9,1023.8 352.7,993.1 353.3,1035.3 354.9,1003.6 355.6,1020.0 356.4,994.2 357.6,1020.0 358.2,995.7 359.3,1022.9 360.0,994.4 360.7,1020.5 361.2,990.5 362.3,1022.5 363.5,993.7 365.2,1024.6 366.0,1000.3 366.4,1024.2 367.4,998.7 369.4,1022.4 370.4,997.6 371.9,1020.6 372.9,1002.8 373.5,1019.3 374.1,998.1 374.8,1023.9 375.7,995.6 376.4,1022.1 377.7,999.0 379.0,1022.0 379.7,998.6 381.4,1028.9 382.2,997.4 383.3,1021.6 383.9,1001.1 384.6,1025.2 385.4,1003.1 386.7,1027.2 387.9,1000.2 389.5,1023.0 390.8,994.2 391.9,1032.1 393.5,1001.4 394.4,1023.5 395.0,1002.5 395.8,1025.4 396.8,998.6 398.5,1022.3 399.7,999.2 401.6,1026.0 402.6,1002.0 404.2,1026.6 405.2,998.5 407.0,1020.8 407.6,999.4 408.8,1022.7 409.6,1002.0 410.9,1028.0 411.4,998.0 412.6,1016.6 413.5,998.6 415.1,1024.9 417.1,998.6 418.1,1021.2 419.3,999.0 421.0,1023.7 422.1,1002.5 422.7,1021.2 423.5,999.3 424.0,1025.9 426.0,1001.9 427.0,1025.8 427.4,998.9 428.2,1017.2 428.7,1001.0 429.5,1022.9 430.6,999.7 432.0,1026.2 432.8,1001.9 433.2,1024.1 434.6,998.3 435.2,1024.2 436.5,998.6 437.2,1021.4 437.9,999.4 438.6,1021.2 439.7,1001.0 441.7,1022.4 442.6,999.6 443.2,1024.9 444.7,997.9 445.8,1024.5 447.4,1001.7 448.5,1024.5 449.5,998.2 451.1,1023.9 452.4,998.4 453.3,1027.3 454.2,998.7 455.6,1023.2 457.1,1001.5 458.3,1023.4 459.2,996.3 460.5,1027.7 461.4,1001.1 462.1,1023.2 463.6,999.6 464.8,1024.7 466.0,999.3 467.5,1024.3 469.2,1000.8 470.6,1022.7 471.8,998.2 473.3,1026.7 474.5,999.7" fill="none" stroke="#800080" stroke-opacity="0.22" stroke-width="0.8"/>
<polyline points="287.8,1019.7 288.3,946.6 289.1,1027.1 290.5,950.3 292.2,1029.6 293.6,954.9 295.2,1040.5 296.4,953.6 298.2,1033.6 298.8,955.9 300.0,1029.2 301.0,950.7 302.5,1019.6 303.5,959.0 305.1,1035.6 306.1,950.8 308.0,1024.8 309.4,968.2 310.9,1032.4 311.9,964.4 312.5,1025.0 313.6,965.2 314.6,1035.0 315.4,971.7 316.5,1030.6 317.7,966.1 318.9,1029.9 320.2,973.0 321.7,1031.8 322.4,973.2 323.0,1029.2 323.8,973.5 324.7,1029.0 326.7,966.7 327.9,1024.6 329.1,975.2 330.0,1023.8 331.3,977.8 333.1,1020.5 334.8,977.7 335.9,1032.2 336.4,980.0 337.1,1028.2 337.7,975.7 338.6,1024.5 339.6,981.6 340.8,1024.1 341.9,983.1 342.4,1027.6 343.4,984.3 344.7,1020.9 346.4,990.0 347.5,1022.6 347.9,998.7 348.7,1023.7 349.5,999.8 350.2,1022.8 351.3,1002.0 353.0,1022.9 353.8,1004.4 355.5,1020.0 356.7,1006.3 357.3,1022.4 358.2,1005.0 359.7,1023.0 360.8,1004.7 361.4,1023.4 362.0,1006.9 363.0,1020.1 363.6,1004.6 364.5,1024.8 366.2,1005.0 367.6,1021.9 369.5,1003.5 370.5,1021.1 371.2,1005.4 372.2,1020.5 373.4,1004.6 374.0,1019.6 375.2,1004.5 377.0,1022.2 377.7,1004.0 378.3,1022.6 379.0,1006.3 380.2,1023.3 381.5,1003.8 382.4,1023.7 384.4,1006.5 385.5,1021.9 386.7,1002.4 388.4,1022.3 390.2,1005.2 391.2,1022.4 392.9,1005.7 393.8,1020.9 395.4,1006.9 396.8,1022.2 397.3,1007.1 398.0,1022.9 398.9,1006.4 399.4,1023.4 400.2,1006.8 400.7,1022.3 401.9,1005.2 403.8,1023.1 404.7,1004.5 405.7,1022.6 407.1,1007.8 408.8,1025.1 410.0,1005.2 411.1,1023.8 412.5,1005.2 413.9,1021.3 414.9,1005.0 416.5,1022.0 417.8,1005.0 419.3,1023.0 420.8,1006.1 421.7,1022.6 422.8,1005.8 423.8,1022.2 424.6,1005.0 426.0,1020.1 427.0,1005.4 427.8,1020.8 428.5,1006.9 429.5,1022.9 431.5,1004.9 432.7,1023.1 433.4,1007.9 434.0,1022.2 434.9,1004.1 435.4,1022.9 437.3,1005.9 438.4,1020.8 439.0,1008.6 440.1,1023.8 441.1,1005.0 441.8,1024.0 443.1,1007.4 444.7,1021.7 445.6,1007.3 447.4,1021.5 449.2,1007.8 450.3,1023.6 451.2,1007.5 451.8,1022.6 453.1,1008.4 453.8,1022.1 455.2,1005.6 456.4,1021.3 458.1,1006.5 459.5,1023.2 461.0,1007.5 461.6,1021.9 462.7,1006.7 463.3,1020.1 464.4,1005.8 466.0,1023.0 466.9,1005.6 468.1,1019.2 468.7,1006.5 469.9,1020.7 470.7,1006.7 471.2,1022.2 472.2,1006.4 474.2,1017.6 475.4,1007.4" fill="none" stroke="#800080" stroke-opacity="0.55" stroke-width="0.8"/>
<polyline points="288.8,1022.1 290.9,975.3 291.9,1017.5 292.5,966.2 293.5,1013.2 294.9,975.7 296.4,1018.7 296.9,973.2 297.7,1017.4 299.2,971.8 300.3,1019.4 301.4,980.2 302.9,1018.9 303.7,985.6 304.1,1018.9 305.6,985.0 306.7,1019.6 308.8,983.6 309.8,1020.4 310.7,981.9 311.1,1018.3 311.9,985.3 313.8,1021.6 315.9,986.7 316.8,1018.1 317.6,987.0 318.7,1020.6 319.2,986.1 319.9,1017.4 321.5,990.6 322.3,1018.1 323.5,990.0 325.4,1020.2 326.1,989.4 326.9,1019.4 328.1,991.4 329.5,1020.4 331.0,991.8 332.1,1021.5 333.7,996.9 334.6,1019.1 335.4,998.2 336.4,1017.5 338.3,999.2 339.2,1018.9 340.4,1000.7 341.8,1021.2 342.8,1002.7 344.0,1021.3 345.1,1002.8 345.8,1018.9 346.6,1006.7 347.9,1019.2 349.0,1007.7 350.2,1019.4 351.3,1010.9 352.3,1022.0 353.2,1008.5 353.7,1020.2 354.8,1009.9 355.4,1018.9 356.2,1009.9 356.9,1019.8 358.9,1009.6 359.8,1022.0 360.8,1008.5 361.8,1020.4 363.0,1008.7 363.5,1020.0 364.3,1009.2 364.9,1019.8 365.7,1009.2 366.5,1019.8 368.1,1009.4 369.5,1019.7 370.2,1009.3 371.3,1021.7 372.3,1009.6 374.5,1017.1 376.0,1009.2 376.9,1020.5 378.0,1007.3 378.6,1019.4 380.2,1009.3 381.7,1019.0 382.4,1008.5 383.2,1019.7 384.1,1009.7 384.7,1019.9 386.4,1008.1 387.8,1019.2 388.7,1010.7 389.4,1020.6 390.3,1010.3 391.0,1020.2 391.8,1009.2 392.7,1020.6 393.1,1008.8 393.9,1019.7 394.7,1008.9 395.8,1021.3 396.9,1009.0 398.4,1018.3 399.1,1009.2 399.8,1021.2 401.2,1009.1 402.7,1018.4 403.9,1010.0 404.9,1018.5 406.5,1009.4 407.3,1019.3 408.3,1010.0 409.9,1018.5 410.6,1010.0 411.8,1019.0 413.4,1009.4 414.8,1019.6 415.5,1010.5 416.5,1020.8 417.4,1008.4 418.2,1020.5 419.3,1009.1 420.0,1020.3 421.0,1009.9 422.7,1019.9 424.0,1009.0 425.4,1019.2 426.6,1009.4 428.1,1020.3 428.8,1010.2 430.0,1019.6 431.6,1009.5 433.2,1019.1 434.1,1010.5 435.2,1020.0 436.0,1010.9 436.8,1019.1 437.9,1009.9 439.1,1020.4 440.3,1010.8 441.1,1019.9 441.6,1009.6 442.7,1019.2 443.6,1009.2 444.4,1019.4 445.6,1009.8 446.2,1020.3 447.5,1010.6 448.0,1018.7 449.5,1009.6 450.3,1019.9 451.8,1010.1 453.0,1019.2 453.4,1010.2 454.4,1020.4 455.8,1010.2 457.0,1019.3 458.9,1010.6 460.0,1019.3 461.3,1010.6 462.4,1020.4 463.3,1008.6 464.3,1019.9 465.8,1010.1 466.5,1019.5 467.5,1010.6 469.4,1021.1 471.0,1011.8 472.4,1020.6 473.6,1012.2 474.4,1019.9 475.5,1010.9" fill="none" stroke="#800080" stroke-opacity="0.9" stroke-width="0.8"/>
<polyline points="289.7,1015.2 290.6,972.2 291.5,1019.4 292.9,966.6 294.6,1016.1 295.4,977.2 296.4,1019.8 297.4,977.7 298.9,1020.3 300.1,979.2 300.7,1020.4 301.6,983.8 303.0,1021.0 304.0,982.6 306.0,1019.1 306.7,981.5 307.7,1013.1 309.1,984.6 309.9,1016.2 311.5,983.6 312.4,1014.4 314.2,986.1 315.2,1014.5 316.1,987.4 316.6,1016.8 318.1,985.7 319.8,1016.1 321.0,990.3 321.8,1015.0 323.0,988.3 324.7,1015.4 325.5,990.6 326.5,1020.3 327.4,992.2 328.5,1019.9 329.5,994.6 331.0,1018.6 332.2,992.8 333.4,1019.6 334.9,996.5 336.4,1018.8 337.2,998.4 337.9,1017.3 339.5,999.7 340.4,1021.0 342.0,1001.9 342.9,1018.5 343.4,1001.7 344.8,1017.0 346.7,1003.9 347.7,1019.7 348.2,1007.8 349.3,1018.8 350.4,1007.9 350.9,1020.2 352.0,1010.6 353.1,1019.3 354.7,1009.6 355.7,1019.6 356.8,1007.9 357.6,1020.1 359.1,1008.8 360.3,1020.0 361.9,1010.1 362.9,1019.4 364.1,1008.4 364.7,1018.9 365.3,1008.6 366.6,1019.6 367.1,1009.2 368.2,1021.2 369.1,1009.4 370.9,1019.7 371.6,1009.5 372.3,1019.1 373.0,1009.3 374.3,1019.6 375.6,1009.8 376.4,1020.3 377.2,1009.4 378.1,1018.7 378.8,1008.1 379.6,1020.4 380.8,1010.3 381.4,1018.5 382.4,1008.8 383.8,1021.2 385.0,1009.7 386.3,1019.5 386.9,1010.0 387.9,1020.2 389.8,1009.2 390.9,1018.0 391.7,1008.8 393.2,1018.6 393.7,1010.2 394.7,1021.5 396.5,1009.5 397.6,1019.2 398.6,1010.6 399.7,1019.6 400.5,1010.1 401.6,1019.7 403.6,1008.1 404.5,1019.6 405.9,1009.8 406.6,1019.4 408.1,1009.5 409.6,1019.5 410.9,1009.3 412.4,1020.6 413.0,1009.7 413.7,1019.4 414.7,1009.3 415.3,1021.6 416.1,1008.9 416.6,1019.4 417.5,1010.1 418.0,1020.7 419.2,1009.8 420.7,1020.3 421.8,1009.6 423.2,1018.9 425.3,1009.8 426.3,1019.1 427.5,1010.1 428.1,1020.5 429.2,1009.7 429.8,1020.0 430.8,1011.3 431.5,1020.2 432.2,1009.7 433.2,1020.0 434.6,1009.5 435.8,1020.1 437.4,1009.4 438.6,1020.9 439.7,1009.6 440.7,1019.2 442.7,1010.5 443.8,1021.8 444.6,1010.9 445.2,1019.9 446.9,1009.9 447.9,1019.9 448.8,1010.9 449.4,1019.7 451.5,1010.6 452.5,1019.5 452.9,1009.5 453.7,1021.0 454.4,1009.3 455.1,1020.2 456.4,1011.0 458.1,1018.9 458.9,1011.4 460.5,1019.5 462.3,1011.0 463.3,1020.3 463.9,1011.0 464.8,1020.5 465.5,1010.6 466.4,1020.2 468.0,1011.1 469.2,1021.1 469.8,1010.4 470.9,1020.1 471.4,1010.9 472.3,1020.9 474.1,1010.6 475.0,1020.1 475.9,1010.3" fill="none" stroke="#800080" stroke-opacity="0.9" stroke-width="0.8"/>
</g>
<path d="M287.5,896.5H472.5" fill="none" stroke="#888888" stroke-width="1"/>
<path d="M472.5,896.5V1038.5" fill="none" stroke="#cccccc" stroke-width="1"/>
<path d="M287.5,1038.5H472.5" fill="none" stroke="#bbbbbb" stroke-width="1"/>
<path d="M287.5,896.5V1038.5" fill="none" stroke="#a8a8a8" stroke-width="1"/>
<text x="287.9" y="1053.5" font-size="10.5" text-anchor="middle" >2015</text>
<text x="331.85" y="1053.5" font-size="10.5" text-anchor="middle" >2035</text>
<text x="375.8" y="1053.5" font-size="10.5" text-anchor="middle" >2055</text>
<text x="419.75" y="1053.5" font-size="10.5" text-anchor="middle" >2075</text>
<text x="463.7" y="1053.5" font-size="10.5" text-anchor="middle" >2095</text>
<text x="282.5" y="899.7" font-size="9.6" text-anchor="end" transform="translate(282.5,0) scale(0.95,1) translate(-282.5,0)">0.06</text>
<text x="282.5" y="923.32" font-size="9.6" text-anchor="end" transform="translate(282.5,0) scale(0.95,1) translate(-282.5,0)">0.05</text>
<text x="282.5" y="946.93" font-size="9.6" text-anchor="end" transform="translate(282.5,0) scale(0.95,1) translate(-282.5,0)">0.04</text>
<text x="282.5" y="970.55" font-size="9.6" text-anchor="end" transform="translate(282.5,0) scale(0.95,1) translate(-282.5,0)">0.03</text>
<text x="282.5" y="994.17" font-size="9.6" text-anchor="end" transform="translate(282.5,0) scale(0.95,1) translate(-282.5,0)">0.02</text>
<text x="282.5" y="1017.78" font-size="9.6" text-anchor="end" transform="translate(282.5,0) scale(0.95,1) translate(-282.5,0)">0.01</text>
<text x="282.5" y="1041.4" font-size="9.6" text-anchor="end" transform="translate(282.5,0) scale(0.95,1) translate(-282.5,0)">0.00</text>
<path d="M287.5,1038.5v2.5 M309.48,1038.5v1.5 M331.45,1038.5v2.5 M353.43,1038.5v1.5 M375.4,1038.5v2.5 M397.38,1038.5v1.5 M419.35,1038.5v2.5 M441.33,1038.5v1.5 M463.3,1038.5v2.5 M287.5,896.8h-2.5 M287.5,920.42h-2.5 M287.5,944.03h-2.5 M287.5,967.65h-2.5 M287.5,991.27h-2.5 M287.5,1014.88h-2.5 M287.5,1038.5h-2.5" fill="none" stroke="#777" stroke-width="0.8"/>
<text x="293.9" y="918.7" font-size="18.2">Mn</text>
<text x="12.3" y="16.6" font-size="18.5" text-anchor="start" >(a)</text>
<text x="0" y="554.5" font-size="18.5" text-anchor="start" >(b)</text>
<text transform="translate(22.8,240.4) rotate(-90)" font-size="25" letter-spacing="-0.6" text-anchor="middle">Concentration</text>
<text transform="translate(22.6,782) rotate(-90)" font-size="25" letter-spacing="-0.55" text-anchor="middle">Concentration (mg L<tspan font-size="15" dy="-10">-1</tspan><tspan dy="10">)</tspan></text>
</svg>
</body></html>
